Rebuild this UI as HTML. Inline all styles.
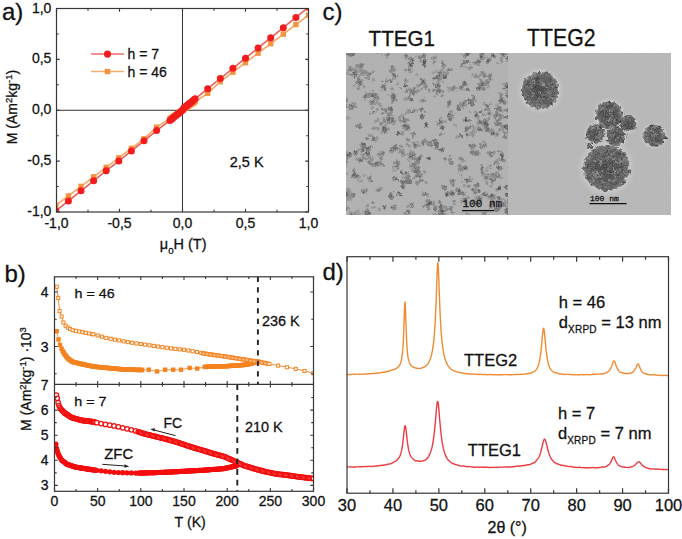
<!DOCTYPE html>
<html><head><meta charset="utf-8"><title>Figure</title>
<style>html,body{margin:0;padding:0;background:#fff;}body{width:682px;height:539px;overflow:hidden;font-family:"Liberation Sans",sans-serif;}svg{display:block;}</style>
</head><body>
<svg width="682" height="539" viewBox="0 0 682 539" font-family="Liberation Sans, sans-serif" fill="#111"><style>text{stroke:#111;stroke-width:0.28px;}</style><clipPath id="ca"><rect x="56.5" y="8.5" width="252.0" height="203.5"/></clipPath>
<line x1="182.5" y1="8.5" x2="182.5" y2="212.0" stroke="#333" stroke-width="1"/>
<line x1="56.5" y1="110.25" x2="308.5" y2="110.25" stroke="#333" stroke-width="1"/>
<g clip-path="url(#ca)"><polyline fill="none" stroke="#f6a862" stroke-width="1.6" points="55.81,205.39 68.41,195.87 81.01,186.36 93.61,176.85 106.21,167.33 118.81,157.82 131.41,148.3 144.01,138.79 156.61,127.14 169.9,118.7 171.16,117.85 172.42,117.01 173.68,116.16 174.94,115.32 176.2,114.47 177.46,113.63 178.72,112.78 179.98,111.94 181.24,111.09 182.5,110.25 183.76,109.41 185.02,108.56 186.28,107.72 187.54,106.87 188.8,106.03 190.06,105.18 191.32,104.34 192.58,103.49 193.84,102.65 195.1,101.8 207.7,93.36 220.3,81.71 232.9,72.2 245.5,62.68 258.1,53.17 270.7,43.65 283.3,34.14 295.9,24.63 308.5,15.11"/><rect x="53.11" y="202.69" width="5.4" height="5.4" fill="#f59440"/><rect x="65.71" y="193.17" width="5.4" height="5.4" fill="#f59440"/><rect x="78.31" y="183.66" width="5.4" height="5.4" fill="#f59440"/><rect x="90.91" y="174.15" width="5.4" height="5.4" fill="#f59440"/><rect x="103.51" y="164.63" width="5.4" height="5.4" fill="#f59440"/><rect x="116.11" y="155.12" width="5.4" height="5.4" fill="#f59440"/><rect x="128.71" y="145.6" width="5.4" height="5.4" fill="#f59440"/><rect x="141.31" y="136.09" width="5.4" height="5.4" fill="#f59440"/><rect x="153.91" y="124.44" width="5.4" height="5.4" fill="#f59440"/><rect x="167.2" y="116" width="5.4" height="5.4" fill="#f59440"/><rect x="168.46" y="115.15" width="5.4" height="5.4" fill="#f59440"/><rect x="169.72" y="114.31" width="5.4" height="5.4" fill="#f59440"/><rect x="170.98" y="113.46" width="5.4" height="5.4" fill="#f59440"/><rect x="172.24" y="112.62" width="5.4" height="5.4" fill="#f59440"/><rect x="173.5" y="111.77" width="5.4" height="5.4" fill="#f59440"/><rect x="174.76" y="110.93" width="5.4" height="5.4" fill="#f59440"/><rect x="176.02" y="110.08" width="5.4" height="5.4" fill="#f59440"/><rect x="177.28" y="109.24" width="5.4" height="5.4" fill="#f59440"/><rect x="178.54" y="108.39" width="5.4" height="5.4" fill="#f59440"/><rect x="179.8" y="107.55" width="5.4" height="5.4" fill="#f59440"/><rect x="181.06" y="106.71" width="5.4" height="5.4" fill="#f59440"/><rect x="182.32" y="105.86" width="5.4" height="5.4" fill="#f59440"/><rect x="183.58" y="105.02" width="5.4" height="5.4" fill="#f59440"/><rect x="184.84" y="104.17" width="5.4" height="5.4" fill="#f59440"/><rect x="186.1" y="103.33" width="5.4" height="5.4" fill="#f59440"/><rect x="187.36" y="102.48" width="5.4" height="5.4" fill="#f59440"/><rect x="188.62" y="101.64" width="5.4" height="5.4" fill="#f59440"/><rect x="189.88" y="100.79" width="5.4" height="5.4" fill="#f59440"/><rect x="191.14" y="99.95" width="5.4" height="5.4" fill="#f59440"/><rect x="192.4" y="99.1" width="5.4" height="5.4" fill="#f59440"/><rect x="205" y="90.66" width="5.4" height="5.4" fill="#f59440"/><rect x="217.6" y="79.01" width="5.4" height="5.4" fill="#f59440"/><rect x="230.2" y="69.5" width="5.4" height="5.4" fill="#f59440"/><rect x="242.8" y="59.98" width="5.4" height="5.4" fill="#f59440"/><rect x="255.4" y="50.47" width="5.4" height="5.4" fill="#f59440"/><rect x="268" y="40.95" width="5.4" height="5.4" fill="#f59440"/><rect x="280.6" y="31.44" width="5.4" height="5.4" fill="#f59440"/><rect x="293.2" y="21.93" width="5.4" height="5.4" fill="#f59440"/><rect x="305.8" y="12.41" width="5.4" height="5.4" fill="#f59440"/><polyline fill="none" stroke="#ef5b5b" stroke-width="1.6" points="55.81,210.98 68.41,200.91 81.01,190.84 93.61,180.76 106.21,170.69 118.81,161.12 131.41,150.95 144.01,140.78 156.61,130.6 169.9,120.42 171.16,119.41 172.42,118.39 173.68,117.37 174.94,116.36 176.2,115.34 177.46,114.32 178.72,113.3 179.98,112.28 181.24,111.27 182.5,110.25 183.76,108.01 185.02,106.99 186.28,105.98 187.54,104.96 188.8,103.94 190.06,102.92 191.32,101.91 192.58,100.89 193.84,99.87 195.1,98.85 207.7,88.68 220.3,78.5 232.9,68.33 245.5,58.15 258.1,47.98 270.7,37.8 283.3,27.63 295.9,17.45 308.5,7.28"/><circle cx="55.81" cy="210.98" r="3.5" fill="#f21c1c"/><circle cx="68.41" cy="200.91" r="3.5" fill="#f21c1c"/><circle cx="81.01" cy="190.84" r="3.5" fill="#f21c1c"/><circle cx="93.61" cy="180.76" r="3.5" fill="#f21c1c"/><circle cx="106.21" cy="170.69" r="3.5" fill="#f21c1c"/><circle cx="118.81" cy="161.12" r="3.5" fill="#f21c1c"/><circle cx="131.41" cy="150.95" r="3.5" fill="#f21c1c"/><circle cx="144.01" cy="140.78" r="3.5" fill="#f21c1c"/><circle cx="156.61" cy="130.6" r="3.5" fill="#f21c1c"/><circle cx="169.9" cy="120.42" r="3.5" fill="#f21c1c"/><circle cx="171.16" cy="119.41" r="3.5" fill="#f21c1c"/><circle cx="172.42" cy="118.39" r="3.5" fill="#f21c1c"/><circle cx="173.68" cy="117.37" r="3.5" fill="#f21c1c"/><circle cx="174.94" cy="116.36" r="3.5" fill="#f21c1c"/><circle cx="176.2" cy="115.34" r="3.5" fill="#f21c1c"/><circle cx="177.46" cy="114.32" r="3.5" fill="#f21c1c"/><circle cx="178.72" cy="113.3" r="3.5" fill="#f21c1c"/><circle cx="179.98" cy="112.28" r="3.5" fill="#f21c1c"/><circle cx="181.24" cy="111.27" r="3.5" fill="#f21c1c"/><circle cx="182.5" cy="110.25" r="3.5" fill="#f21c1c"/><circle cx="183.76" cy="108.01" r="3.5" fill="#f21c1c"/><circle cx="185.02" cy="106.99" r="3.5" fill="#f21c1c"/><circle cx="186.28" cy="105.98" r="3.5" fill="#f21c1c"/><circle cx="187.54" cy="104.96" r="3.5" fill="#f21c1c"/><circle cx="188.8" cy="103.94" r="3.5" fill="#f21c1c"/><circle cx="190.06" cy="102.92" r="3.5" fill="#f21c1c"/><circle cx="191.32" cy="101.91" r="3.5" fill="#f21c1c"/><circle cx="192.58" cy="100.89" r="3.5" fill="#f21c1c"/><circle cx="193.84" cy="99.87" r="3.5" fill="#f21c1c"/><circle cx="195.1" cy="98.85" r="3.5" fill="#f21c1c"/><circle cx="207.7" cy="88.68" r="3.5" fill="#f21c1c"/><circle cx="220.3" cy="78.5" r="3.5" fill="#f21c1c"/><circle cx="232.9" cy="68.33" r="3.5" fill="#f21c1c"/><circle cx="245.5" cy="58.15" r="3.5" fill="#f21c1c"/><circle cx="258.1" cy="47.98" r="3.5" fill="#f21c1c"/><circle cx="270.7" cy="37.8" r="3.5" fill="#f21c1c"/><circle cx="283.3" cy="27.63" r="3.5" fill="#f21c1c"/><circle cx="295.9" cy="17.45" r="3.5" fill="#f21c1c"/><circle cx="308.5" cy="7.28" r="3.5" fill="#f21c1c"/></g>
<rect x="56.5" y="8.5" width="252.0" height="203.5" fill="none" stroke="#363636" stroke-width="1.2"/>
<path d="M56.5 212.0v-3.2M56.5 8.5v3.2M56.5 212h3.2M308.5 212h-3.2M88 212.0v-2.2M88 8.5v2.2M56.5 186.56h2.2M308.5 186.56h-2.2M119.5 212.0v-3.2M119.5 8.5v3.2M56.5 161.12h3.2M308.5 161.12h-3.2M151 212.0v-2.2M151 8.5v2.2M56.5 135.69h2.2M308.5 135.69h-2.2M182.5 212.0v-3.2M182.5 8.5v3.2M56.5 110.25h3.2M308.5 110.25h-3.2M214 212.0v-2.2M214 8.5v2.2M56.5 84.81h2.2M308.5 84.81h-2.2M245.5 212.0v-3.2M245.5 8.5v3.2M56.5 59.38h3.2M308.5 59.38h-3.2M277 212.0v-2.2M277 8.5v2.2M56.5 33.94h2.2M308.5 33.94h-2.2M308.5 212.0v-3.2M308.5 8.5v3.2M56.5 8.5h3.2M308.5 8.5h-3.2" stroke="#363636" stroke-width="1.1" fill="none"/>
<text transform="translate(51.4,12.6) scale(0.960,1)" font-size="14.60" text-anchor="end">1,0</text>
<text transform="translate(51.4,63.48) scale(0.960,1)" font-size="14.60" text-anchor="end">0,5</text>
<text transform="translate(51.4,114.35) scale(0.960,1)" font-size="14.60" text-anchor="end">0,0</text>
<text transform="translate(51.4,165.22) scale(0.960,1)" font-size="14.60" text-anchor="end">-0,5</text>
<text transform="translate(51.4,216.1) scale(0.960,1)" font-size="14.60" text-anchor="end">-1,0</text>
<text transform="translate(56.5,228)" font-size="14.00" text-anchor="middle">-1,0</text>
<text transform="translate(119.5,228)" font-size="14.00" text-anchor="middle">-0,5</text>
<text transform="translate(182.5,228)" font-size="14.00" text-anchor="middle">0,0</text>
<text transform="translate(245.5,228)" font-size="14.00" text-anchor="middle">0,5</text>
<text transform="translate(308.5,228)" font-size="14.00" text-anchor="middle">1,0</text>
<text transform="translate(159.8,249.4) scale(1.050,1)" font-size="13.80">&#956;<tspan font-size="9.3" dy="4.3">0</tspan><tspan dy="-4.3">H (T)</tspan></text>
<text transform="translate(127.5,58.9)" font-size="14.00">h = 7</text>
<text transform="translate(127.5,76.5)" font-size="14.00">h = 46</text>
<text transform="translate(229.8,166.8) scale(1.035,1)" font-size="14.00">2,5 K</text>
<text transform="translate(2,20)" font-size="24.00">a)</text>
<text transform="translate(16.8,107) rotate(-90)" text-anchor="middle" font-size="14">M (Am<tspan font-size="9.5" dy="-5">2</tspan><tspan dy="5">kg</tspan><tspan font-size="9.5" dy="-5">-1</tspan><tspan dy="5">)</tspan></text>
<line x1="91" y1="54" x2="124" y2="54" stroke="#ef6b6b" stroke-width="1.5"/><circle cx="107.5" cy="54.1" r="3.6" fill="#f21c1c"/>
<line x1="91" y1="71.5" x2="124" y2="71.5" stroke="#f6ad6a" stroke-width="1.5"/><rect x="104.8" y="68.8" width="5.5" height="5.4" fill="#f59440"/>
<clipPath id="cb"><rect x="54.5" y="276.8" width="259.0" height="214.5"/></clipPath>
<g clip-path="url(#cb)"><polyline fill="none" stroke="#f4821f" stroke-width="0.9" points="56.66,286.71 58.21,298 59.59,311.07 61.58,316.53 63.39,322.52 65.64,325.79 67.88,327.62 70.04,328.92 72.63,330.22 75.91,330.86 79.19,331.5 82.47,332.14 85.75,332.79 89.03,333.44 92.31,334.08 93.35,334.29 97.67,335.44 101.98,336.7 106.3,337.9 110.62,338.76 114.93,339.62 119.25,340.46 123.57,341.3 127.88,342.14 132.2,342.77 136.52,343.4 140.83,344.03 145.15,344.66 149.47,345.28 153.78,345.91 158.1,346.54 162.42,347.17 166.73,347.8 171.05,348.43 175.37,348.93 179.68,349.35 184,349.77 188.32,350.51 192.63,351.25 196.95,352 201.27,352.91 202.99,353.28 204.37,353.57 205.76,353.77 207.14,353.97 208.52,354.17 209.9,354.37 211.28,354.57 212.66,354.77 214.04,354.97 215.43,355.16 216.81,355.36 218.19,355.56 219.57,355.76 220.95,355.96 222.33,356.16 223.71,356.36 225.09,356.56 226.48,356.76 227.86,356.96 229.24,357.18 230.62,357.4 232,357.62 233.38,357.84 234.76,358.05 236.15,358.27 237.53,358.49 238.91,358.71 240.29,358.93 241.67,359.14 243.05,359.36 244.43,359.58 245.81,359.8 247.2,360.02 248.58,360.23 249.96,360.45 251.34,360.67 252.72,360.89 254.1,361.11 255.48,361.32 256.87,361.54 258.25,361.76 259.63,362.04 261.01,362.31 262.39,362.59 263.77,362.87 265.15,363.14 266.53,363.42 267.92,363.7 269.3,363.97 278.1,365.57 286.91,367.24 295.72,368.83 304.52,370.98 313.33,373.16"/><polyline fill="none" stroke="#f4821f" stroke-width="0.8" points="56.66,331.24 58.47,339.42 60.03,344.87 61.58,348.64 62.7,351.05 63.56,352.52 64.43,353.98 65.29,355.16 66.16,356.31 67.02,357.46 67.88,358.55 68.75,359.18 69.61,359.81 70.47,360.44 71.34,361.07 72.2,361.7 73.06,361.95 73.92,362.16 74.79,362.37 75.65,362.58 76.52,362.8 77.38,363.01 78.24,363.22 79.11,363.43 79.97,363.64 80.83,363.85 81.69,364.06 82.56,364.27 83.42,364.49 84.28,364.66 85.15,364.83 86.01,365.01 86.88,365.18 87.74,365.36 88.6,365.53 89.47,365.71 90.33,365.88 91.19,366.05 92.06,366.23 92.92,366.4 93.78,366.58 94.65,366.71 95.51,366.79 96.37,366.87 97.23,366.96 98.1,367.04 98.96,367.13 99.83,367.21 100.69,367.29 101.55,367.38 102.41,367.46 103.28,367.55 104.14,367.63 105,367.71 105.87,367.8 106.73,367.88 107.59,367.96 108.46,368.05 109.32,368.13 110.19,368.22 111.05,368.3 111.91,368.38 112.78,368.47 113.64,368.55 114.5,368.64 115.37,368.72 116.23,368.8 117.09,368.88 117.95,368.94 118.82,369 119.68,369.07 120.55,369.13 121.41,369.19 122.27,369.25 123.14,369.32 124,369.38 124.86,369.44 125.72,369.51 126.59,369.57 127.45,369.63 128.31,369.67 129.18,369.69 130.04,369.71 130.91,369.74 131.77,369.76 132.63,369.78 133.5,369.8 134.36,369.82 135.22,369.84 136.08,369.86 136.95,369.88 137.81,369.9 138.68,369.92 139.54,369.94 140.4,369.95 141.26,369.97 142.13,369.98 148.78,369.72 156.98,371.41 165.18,369.72 173.21,369.72 180.98,369.72 189.61,367.92 197.21,368.52 204.72,366.93 205.76,366.89 206.79,366.85 207.83,366.82 208.86,366.78 209.9,366.74 210.94,366.7 211.97,366.67 213.01,366.63 214.04,366.59 215.08,366.56 216.12,366.52 217.15,366.48 218.19,366.44 219.22,366.41 220.26,366.37 221.3,366.33 222.33,366.29 223.37,366.26 224.4,366.22 225.44,366.18 226.48,366.14 227.51,366.1 228.55,366.02 229.58,365.95 230.62,365.87 231.66,365.8 232.69,365.72 233.73,365.65 234.76,365.57 235.8,365.5 236.84,365.43 237.87,365.35 238.91,365.28 239.94,365.2 240.98,365.13 242.02,365.05 243.05,364.98 244.09,364.91 245.12,364.83 246.16,364.76 247.2,364.5 248.23,364.24 249.27,363.99 250.3,363.73 251.34,363.47 252.38,363.22 253.41,362.96 254.45,362.7 255.48,362.45 256.52,362.19 257.56,361.93 258.59,361.76"/><rect x="54.46" y="329.04" width="4.4" height="4.4" fill="#f4821f"/><rect x="56.27" y="337.22" width="4.4" height="4.4" fill="#f4821f"/><rect x="57.83" y="342.67" width="4.4" height="4.4" fill="#f4821f"/><rect x="59.38" y="346.44" width="4.4" height="4.4" fill="#f4821f"/><rect x="60.5" y="348.85" width="4.4" height="4.4" fill="#f4821f"/><rect x="61.36" y="350.32" width="4.4" height="4.4" fill="#f4821f"/><rect x="62.23" y="351.78" width="4.4" height="4.4" fill="#f4821f"/><rect x="63.09" y="352.96" width="4.4" height="4.4" fill="#f4821f"/><rect x="63.95" y="354.11" width="4.4" height="4.4" fill="#f4821f"/><rect x="64.82" y="355.26" width="4.4" height="4.4" fill="#f4821f"/><rect x="65.68" y="356.35" width="4.4" height="4.4" fill="#f4821f"/><rect x="66.55" y="356.98" width="4.4" height="4.4" fill="#f4821f"/><rect x="67.41" y="357.61" width="4.4" height="4.4" fill="#f4821f"/><rect x="68.27" y="358.24" width="4.4" height="4.4" fill="#f4821f"/><rect x="69.14" y="358.87" width="4.4" height="4.4" fill="#f4821f"/><rect x="70" y="359.5" width="4.4" height="4.4" fill="#f4821f"/><rect x="70.86" y="359.75" width="4.4" height="4.4" fill="#f4821f"/><rect x="71.72" y="359.96" width="4.4" height="4.4" fill="#f4821f"/><rect x="72.59" y="360.17" width="4.4" height="4.4" fill="#f4821f"/><rect x="73.45" y="360.38" width="4.4" height="4.4" fill="#f4821f"/><rect x="74.31" y="360.6" width="4.4" height="4.4" fill="#f4821f"/><rect x="75.18" y="360.81" width="4.4" height="4.4" fill="#f4821f"/><rect x="76.04" y="361.02" width="4.4" height="4.4" fill="#f4821f"/><rect x="76.91" y="361.23" width="4.4" height="4.4" fill="#f4821f"/><rect x="77.77" y="361.44" width="4.4" height="4.4" fill="#f4821f"/><rect x="78.63" y="361.65" width="4.4" height="4.4" fill="#f4821f"/><rect x="79.49" y="361.86" width="4.4" height="4.4" fill="#f4821f"/><rect x="80.36" y="362.07" width="4.4" height="4.4" fill="#f4821f"/><rect x="81.22" y="362.29" width="4.4" height="4.4" fill="#f4821f"/><rect x="82.08" y="362.46" width="4.4" height="4.4" fill="#f4821f"/><rect x="82.95" y="362.63" width="4.4" height="4.4" fill="#f4821f"/><rect x="83.81" y="362.81" width="4.4" height="4.4" fill="#f4821f"/><rect x="84.67" y="362.98" width="4.4" height="4.4" fill="#f4821f"/><rect x="85.54" y="363.16" width="4.4" height="4.4" fill="#f4821f"/><rect x="86.4" y="363.33" width="4.4" height="4.4" fill="#f4821f"/><rect x="87.27" y="363.51" width="4.4" height="4.4" fill="#f4821f"/><rect x="88.13" y="363.68" width="4.4" height="4.4" fill="#f4821f"/><rect x="88.99" y="363.85" width="4.4" height="4.4" fill="#f4821f"/><rect x="89.86" y="364.03" width="4.4" height="4.4" fill="#f4821f"/><rect x="90.72" y="364.2" width="4.4" height="4.4" fill="#f4821f"/><rect x="91.58" y="364.38" width="4.4" height="4.4" fill="#f4821f"/><rect x="92.45" y="364.51" width="4.4" height="4.4" fill="#f4821f"/><rect x="93.31" y="364.59" width="4.4" height="4.4" fill="#f4821f"/><rect x="94.17" y="364.67" width="4.4" height="4.4" fill="#f4821f"/><rect x="95.03" y="364.76" width="4.4" height="4.4" fill="#f4821f"/><rect x="95.9" y="364.84" width="4.4" height="4.4" fill="#f4821f"/><rect x="96.76" y="364.93" width="4.4" height="4.4" fill="#f4821f"/><rect x="97.62" y="365.01" width="4.4" height="4.4" fill="#f4821f"/><rect x="98.49" y="365.09" width="4.4" height="4.4" fill="#f4821f"/><rect x="99.35" y="365.18" width="4.4" height="4.4" fill="#f4821f"/><rect x="100.21" y="365.26" width="4.4" height="4.4" fill="#f4821f"/><rect x="101.08" y="365.35" width="4.4" height="4.4" fill="#f4821f"/><rect x="101.94" y="365.43" width="4.4" height="4.4" fill="#f4821f"/><rect x="102.8" y="365.51" width="4.4" height="4.4" fill="#f4821f"/><rect x="103.67" y="365.6" width="4.4" height="4.4" fill="#f4821f"/><rect x="104.53" y="365.68" width="4.4" height="4.4" fill="#f4821f"/><rect x="105.39" y="365.76" width="4.4" height="4.4" fill="#f4821f"/><rect x="106.26" y="365.85" width="4.4" height="4.4" fill="#f4821f"/><rect x="107.12" y="365.93" width="4.4" height="4.4" fill="#f4821f"/><rect x="107.98" y="366.02" width="4.4" height="4.4" fill="#f4821f"/><rect x="108.85" y="366.1" width="4.4" height="4.4" fill="#f4821f"/><rect x="109.71" y="366.18" width="4.4" height="4.4" fill="#f4821f"/><rect x="110.58" y="366.27" width="4.4" height="4.4" fill="#f4821f"/><rect x="111.44" y="366.35" width="4.4" height="4.4" fill="#f4821f"/><rect x="112.3" y="366.44" width="4.4" height="4.4" fill="#f4821f"/><rect x="113.17" y="366.52" width="4.4" height="4.4" fill="#f4821f"/><rect x="114.03" y="366.6" width="4.4" height="4.4" fill="#f4821f"/><rect x="114.89" y="366.68" width="4.4" height="4.4" fill="#f4821f"/><rect x="115.75" y="366.74" width="4.4" height="4.4" fill="#f4821f"/><rect x="116.62" y="366.8" width="4.4" height="4.4" fill="#f4821f"/><rect x="117.48" y="366.87" width="4.4" height="4.4" fill="#f4821f"/><rect x="118.34" y="366.93" width="4.4" height="4.4" fill="#f4821f"/><rect x="119.21" y="366.99" width="4.4" height="4.4" fill="#f4821f"/><rect x="120.07" y="367.05" width="4.4" height="4.4" fill="#f4821f"/><rect x="120.94" y="367.12" width="4.4" height="4.4" fill="#f4821f"/><rect x="121.8" y="367.18" width="4.4" height="4.4" fill="#f4821f"/><rect x="122.66" y="367.24" width="4.4" height="4.4" fill="#f4821f"/><rect x="123.52" y="367.31" width="4.4" height="4.4" fill="#f4821f"/><rect x="124.39" y="367.37" width="4.4" height="4.4" fill="#f4821f"/><rect x="125.25" y="367.43" width="4.4" height="4.4" fill="#f4821f"/><rect x="126.11" y="367.47" width="4.4" height="4.4" fill="#f4821f"/><rect x="126.98" y="367.49" width="4.4" height="4.4" fill="#f4821f"/><rect x="127.84" y="367.51" width="4.4" height="4.4" fill="#f4821f"/><rect x="128.71" y="367.54" width="4.4" height="4.4" fill="#f4821f"/><rect x="129.57" y="367.56" width="4.4" height="4.4" fill="#f4821f"/><rect x="130.43" y="367.58" width="4.4" height="4.4" fill="#f4821f"/><rect x="131.3" y="367.6" width="4.4" height="4.4" fill="#f4821f"/><rect x="132.16" y="367.62" width="4.4" height="4.4" fill="#f4821f"/><rect x="133.02" y="367.64" width="4.4" height="4.4" fill="#f4821f"/><rect x="133.88" y="367.66" width="4.4" height="4.4" fill="#f4821f"/><rect x="134.75" y="367.68" width="4.4" height="4.4" fill="#f4821f"/><rect x="135.61" y="367.7" width="4.4" height="4.4" fill="#f4821f"/><rect x="136.48" y="367.72" width="4.4" height="4.4" fill="#f4821f"/><rect x="137.34" y="367.74" width="4.4" height="4.4" fill="#f4821f"/><rect x="138.2" y="367.75" width="4.4" height="4.4" fill="#f4821f"/><rect x="139.06" y="367.77" width="4.4" height="4.4" fill="#f4821f"/><rect x="139.93" y="367.78" width="4.4" height="4.4" fill="#f4821f"/><rect x="146.58" y="367.52" width="4.4" height="4.4" fill="#f4821f"/><rect x="154.78" y="369.21" width="4.4" height="4.4" fill="#f4821f"/><rect x="162.98" y="367.52" width="4.4" height="4.4" fill="#f4821f"/><rect x="171.01" y="367.52" width="4.4" height="4.4" fill="#f4821f"/><rect x="178.78" y="367.52" width="4.4" height="4.4" fill="#f4821f"/><rect x="187.41" y="365.72" width="4.4" height="4.4" fill="#f4821f"/><rect x="195.01" y="366.32" width="4.4" height="4.4" fill="#f4821f"/><rect x="202.52" y="364.73" width="4.4" height="4.4" fill="#f4821f"/><rect x="203.56" y="364.69" width="4.4" height="4.4" fill="#f4821f"/><rect x="204.59" y="364.65" width="4.4" height="4.4" fill="#f4821f"/><rect x="205.63" y="364.62" width="4.4" height="4.4" fill="#f4821f"/><rect x="206.66" y="364.58" width="4.4" height="4.4" fill="#f4821f"/><rect x="207.7" y="364.54" width="4.4" height="4.4" fill="#f4821f"/><rect x="208.74" y="364.5" width="4.4" height="4.4" fill="#f4821f"/><rect x="209.77" y="364.47" width="4.4" height="4.4" fill="#f4821f"/><rect x="210.81" y="364.43" width="4.4" height="4.4" fill="#f4821f"/><rect x="211.84" y="364.39" width="4.4" height="4.4" fill="#f4821f"/><rect x="212.88" y="364.36" width="4.4" height="4.4" fill="#f4821f"/><rect x="213.92" y="364.32" width="4.4" height="4.4" fill="#f4821f"/><rect x="214.95" y="364.28" width="4.4" height="4.4" fill="#f4821f"/><rect x="215.99" y="364.24" width="4.4" height="4.4" fill="#f4821f"/><rect x="217.02" y="364.21" width="4.4" height="4.4" fill="#f4821f"/><rect x="218.06" y="364.17" width="4.4" height="4.4" fill="#f4821f"/><rect x="219.1" y="364.13" width="4.4" height="4.4" fill="#f4821f"/><rect x="220.13" y="364.09" width="4.4" height="4.4" fill="#f4821f"/><rect x="221.17" y="364.06" width="4.4" height="4.4" fill="#f4821f"/><rect x="222.2" y="364.02" width="4.4" height="4.4" fill="#f4821f"/><rect x="223.24" y="363.98" width="4.4" height="4.4" fill="#f4821f"/><rect x="224.28" y="363.94" width="4.4" height="4.4" fill="#f4821f"/><rect x="225.31" y="363.9" width="4.4" height="4.4" fill="#f4821f"/><rect x="226.35" y="363.82" width="4.4" height="4.4" fill="#f4821f"/><rect x="227.38" y="363.75" width="4.4" height="4.4" fill="#f4821f"/><rect x="228.42" y="363.67" width="4.4" height="4.4" fill="#f4821f"/><rect x="229.46" y="363.6" width="4.4" height="4.4" fill="#f4821f"/><rect x="230.49" y="363.52" width="4.4" height="4.4" fill="#f4821f"/><rect x="231.53" y="363.45" width="4.4" height="4.4" fill="#f4821f"/><rect x="232.56" y="363.38" width="4.4" height="4.4" fill="#f4821f"/><rect x="233.6" y="363.3" width="4.4" height="4.4" fill="#f4821f"/><rect x="234.64" y="363.23" width="4.4" height="4.4" fill="#f4821f"/><rect x="235.67" y="363.15" width="4.4" height="4.4" fill="#f4821f"/><rect x="236.71" y="363.08" width="4.4" height="4.4" fill="#f4821f"/><rect x="237.74" y="363" width="4.4" height="4.4" fill="#f4821f"/><rect x="238.78" y="362.93" width="4.4" height="4.4" fill="#f4821f"/><rect x="239.82" y="362.85" width="4.4" height="4.4" fill="#f4821f"/><rect x="240.85" y="362.78" width="4.4" height="4.4" fill="#f4821f"/><rect x="241.89" y="362.71" width="4.4" height="4.4" fill="#f4821f"/><rect x="242.92" y="362.63" width="4.4" height="4.4" fill="#f4821f"/><rect x="243.96" y="362.56" width="4.4" height="4.4" fill="#f4821f"/><rect x="245" y="362.3" width="4.4" height="4.4" fill="#f4821f"/><rect x="246.03" y="362.04" width="4.4" height="4.4" fill="#f4821f"/><rect x="247.07" y="361.79" width="4.4" height="4.4" fill="#f4821f"/><rect x="248.1" y="361.53" width="4.4" height="4.4" fill="#f4821f"/><rect x="249.14" y="361.27" width="4.4" height="4.4" fill="#f4821f"/><rect x="250.18" y="361.02" width="4.4" height="4.4" fill="#f4821f"/><rect x="251.21" y="360.76" width="4.4" height="4.4" fill="#f4821f"/><rect x="252.25" y="360.5" width="4.4" height="4.4" fill="#f4821f"/><rect x="253.28" y="360.25" width="4.4" height="4.4" fill="#f4821f"/><rect x="254.32" y="359.99" width="4.4" height="4.4" fill="#f4821f"/><rect x="255.36" y="359.73" width="4.4" height="4.4" fill="#f4821f"/><rect x="256.39" y="359.56" width="4.4" height="4.4" fill="#f4821f"/><rect x="55.11" y="285.16" width="3.1" height="3.1" fill="#fff" stroke="#f4821f" stroke-width="1"/><rect x="56.66" y="296.44" width="3.1" height="3.1" fill="#fff" stroke="#f4821f" stroke-width="1"/><rect x="58.04" y="309.52" width="3.1" height="3.1" fill="#fff" stroke="#f4821f" stroke-width="1"/><rect x="60.03" y="314.98" width="3.1" height="3.1" fill="#fff" stroke="#f4821f" stroke-width="1"/><rect x="61.84" y="320.97" width="3.1" height="3.1" fill="#fff" stroke="#f4821f" stroke-width="1"/><rect x="64.09" y="324.24" width="3.1" height="3.1" fill="#fff" stroke="#f4821f" stroke-width="1"/><rect x="66.33" y="326.07" width="3.1" height="3.1" fill="#fff" stroke="#f4821f" stroke-width="1"/><rect x="68.49" y="327.37" width="3.1" height="3.1" fill="#fff" stroke="#f4821f" stroke-width="1"/><rect x="71.08" y="328.67" width="3.1" height="3.1" fill="#fff" stroke="#f4821f" stroke-width="1"/><rect x="74.36" y="329.31" width="3.1" height="3.1" fill="#fff" stroke="#f4821f" stroke-width="1"/><rect x="77.64" y="329.95" width="3.1" height="3.1" fill="#fff" stroke="#f4821f" stroke-width="1"/><rect x="80.92" y="330.59" width="3.1" height="3.1" fill="#fff" stroke="#f4821f" stroke-width="1"/><rect x="84.2" y="331.24" width="3.1" height="3.1" fill="#fff" stroke="#f4821f" stroke-width="1"/><rect x="87.48" y="331.89" width="3.1" height="3.1" fill="#fff" stroke="#f4821f" stroke-width="1"/><rect x="90.76" y="332.53" width="3.1" height="3.1" fill="#fff" stroke="#f4821f" stroke-width="1"/><rect x="91.8" y="332.74" width="3.1" height="3.1" fill="#fff" stroke="#f4821f" stroke-width="1"/><rect x="96.12" y="333.89" width="3.1" height="3.1" fill="#fff" stroke="#f4821f" stroke-width="1"/><rect x="100.43" y="335.15" width="3.1" height="3.1" fill="#fff" stroke="#f4821f" stroke-width="1"/><rect x="104.75" y="336.35" width="3.1" height="3.1" fill="#fff" stroke="#f4821f" stroke-width="1"/><rect x="109.07" y="337.21" width="3.1" height="3.1" fill="#fff" stroke="#f4821f" stroke-width="1"/><rect x="113.38" y="338.07" width="3.1" height="3.1" fill="#fff" stroke="#f4821f" stroke-width="1"/><rect x="117.7" y="338.91" width="3.1" height="3.1" fill="#fff" stroke="#f4821f" stroke-width="1"/><rect x="122.02" y="339.75" width="3.1" height="3.1" fill="#fff" stroke="#f4821f" stroke-width="1"/><rect x="126.33" y="340.59" width="3.1" height="3.1" fill="#fff" stroke="#f4821f" stroke-width="1"/><rect x="130.65" y="341.22" width="3.1" height="3.1" fill="#fff" stroke="#f4821f" stroke-width="1"/><rect x="134.97" y="341.85" width="3.1" height="3.1" fill="#fff" stroke="#f4821f" stroke-width="1"/><rect x="139.28" y="342.48" width="3.1" height="3.1" fill="#fff" stroke="#f4821f" stroke-width="1"/><rect x="143.6" y="343.11" width="3.1" height="3.1" fill="#fff" stroke="#f4821f" stroke-width="1"/><rect x="147.92" y="343.73" width="3.1" height="3.1" fill="#fff" stroke="#f4821f" stroke-width="1"/><rect x="152.23" y="344.36" width="3.1" height="3.1" fill="#fff" stroke="#f4821f" stroke-width="1"/><rect x="156.55" y="344.99" width="3.1" height="3.1" fill="#fff" stroke="#f4821f" stroke-width="1"/><rect x="160.87" y="345.62" width="3.1" height="3.1" fill="#fff" stroke="#f4821f" stroke-width="1"/><rect x="165.18" y="346.25" width="3.1" height="3.1" fill="#fff" stroke="#f4821f" stroke-width="1"/><rect x="169.5" y="346.88" width="3.1" height="3.1" fill="#fff" stroke="#f4821f" stroke-width="1"/><rect x="173.82" y="347.38" width="3.1" height="3.1" fill="#fff" stroke="#f4821f" stroke-width="1"/><rect x="178.13" y="347.8" width="3.1" height="3.1" fill="#fff" stroke="#f4821f" stroke-width="1"/><rect x="182.45" y="348.22" width="3.1" height="3.1" fill="#fff" stroke="#f4821f" stroke-width="1"/><rect x="186.77" y="348.96" width="3.1" height="3.1" fill="#fff" stroke="#f4821f" stroke-width="1"/><rect x="191.08" y="349.7" width="3.1" height="3.1" fill="#fff" stroke="#f4821f" stroke-width="1"/><rect x="195.4" y="350.45" width="3.1" height="3.1" fill="#fff" stroke="#f4821f" stroke-width="1"/><rect x="199.72" y="351.36" width="3.1" height="3.1" fill="#fff" stroke="#f4821f" stroke-width="1"/><rect x="201.44" y="351.73" width="3.1" height="3.1" fill="#fff" stroke="#f4821f" stroke-width="1"/><rect x="202.82" y="352.02" width="3.1" height="3.1" fill="#fff" stroke="#f4821f" stroke-width="1"/><rect x="204.21" y="352.22" width="3.1" height="3.1" fill="#fff" stroke="#f4821f" stroke-width="1"/><rect x="205.59" y="352.42" width="3.1" height="3.1" fill="#fff" stroke="#f4821f" stroke-width="1"/><rect x="206.97" y="352.62" width="3.1" height="3.1" fill="#fff" stroke="#f4821f" stroke-width="1"/><rect x="208.35" y="352.82" width="3.1" height="3.1" fill="#fff" stroke="#f4821f" stroke-width="1"/><rect x="209.73" y="353.02" width="3.1" height="3.1" fill="#fff" stroke="#f4821f" stroke-width="1"/><rect x="211.11" y="353.22" width="3.1" height="3.1" fill="#fff" stroke="#f4821f" stroke-width="1"/><rect x="212.49" y="353.42" width="3.1" height="3.1" fill="#fff" stroke="#f4821f" stroke-width="1"/><rect x="213.88" y="353.61" width="3.1" height="3.1" fill="#fff" stroke="#f4821f" stroke-width="1"/><rect x="215.26" y="353.81" width="3.1" height="3.1" fill="#fff" stroke="#f4821f" stroke-width="1"/><rect x="216.64" y="354.01" width="3.1" height="3.1" fill="#fff" stroke="#f4821f" stroke-width="1"/><rect x="218.02" y="354.21" width="3.1" height="3.1" fill="#fff" stroke="#f4821f" stroke-width="1"/><rect x="219.4" y="354.41" width="3.1" height="3.1" fill="#fff" stroke="#f4821f" stroke-width="1"/><rect x="220.78" y="354.61" width="3.1" height="3.1" fill="#fff" stroke="#f4821f" stroke-width="1"/><rect x="222.16" y="354.81" width="3.1" height="3.1" fill="#fff" stroke="#f4821f" stroke-width="1"/><rect x="223.54" y="355.01" width="3.1" height="3.1" fill="#fff" stroke="#f4821f" stroke-width="1"/><rect x="224.93" y="355.21" width="3.1" height="3.1" fill="#fff" stroke="#f4821f" stroke-width="1"/><rect x="226.31" y="355.41" width="3.1" height="3.1" fill="#fff" stroke="#f4821f" stroke-width="1"/><rect x="227.69" y="355.63" width="3.1" height="3.1" fill="#fff" stroke="#f4821f" stroke-width="1"/><rect x="229.07" y="355.85" width="3.1" height="3.1" fill="#fff" stroke="#f4821f" stroke-width="1"/><rect x="230.45" y="356.07" width="3.1" height="3.1" fill="#fff" stroke="#f4821f" stroke-width="1"/><rect x="231.83" y="356.29" width="3.1" height="3.1" fill="#fff" stroke="#f4821f" stroke-width="1"/><rect x="233.21" y="356.5" width="3.1" height="3.1" fill="#fff" stroke="#f4821f" stroke-width="1"/><rect x="234.6" y="356.72" width="3.1" height="3.1" fill="#fff" stroke="#f4821f" stroke-width="1"/><rect x="235.98" y="356.94" width="3.1" height="3.1" fill="#fff" stroke="#f4821f" stroke-width="1"/><rect x="237.36" y="357.16" width="3.1" height="3.1" fill="#fff" stroke="#f4821f" stroke-width="1"/><rect x="238.74" y="357.38" width="3.1" height="3.1" fill="#fff" stroke="#f4821f" stroke-width="1"/><rect x="240.12" y="357.59" width="3.1" height="3.1" fill="#fff" stroke="#f4821f" stroke-width="1"/><rect x="241.5" y="357.81" width="3.1" height="3.1" fill="#fff" stroke="#f4821f" stroke-width="1"/><rect x="242.88" y="358.03" width="3.1" height="3.1" fill="#fff" stroke="#f4821f" stroke-width="1"/><rect x="244.26" y="358.25" width="3.1" height="3.1" fill="#fff" stroke="#f4821f" stroke-width="1"/><rect x="245.65" y="358.47" width="3.1" height="3.1" fill="#fff" stroke="#f4821f" stroke-width="1"/><rect x="247.03" y="358.68" width="3.1" height="3.1" fill="#fff" stroke="#f4821f" stroke-width="1"/><rect x="248.41" y="358.9" width="3.1" height="3.1" fill="#fff" stroke="#f4821f" stroke-width="1"/><rect x="249.79" y="359.12" width="3.1" height="3.1" fill="#fff" stroke="#f4821f" stroke-width="1"/><rect x="251.17" y="359.34" width="3.1" height="3.1" fill="#fff" stroke="#f4821f" stroke-width="1"/><rect x="252.55" y="359.56" width="3.1" height="3.1" fill="#fff" stroke="#f4821f" stroke-width="1"/><rect x="253.93" y="359.77" width="3.1" height="3.1" fill="#fff" stroke="#f4821f" stroke-width="1"/><rect x="255.32" y="359.99" width="3.1" height="3.1" fill="#fff" stroke="#f4821f" stroke-width="1"/><rect x="256.7" y="360.21" width="3.1" height="3.1" fill="#fff" stroke="#f4821f" stroke-width="1"/><rect x="258.08" y="360.49" width="3.1" height="3.1" fill="#fff" stroke="#f4821f" stroke-width="1"/><rect x="259.46" y="360.76" width="3.1" height="3.1" fill="#fff" stroke="#f4821f" stroke-width="1"/><rect x="260.84" y="361.04" width="3.1" height="3.1" fill="#fff" stroke="#f4821f" stroke-width="1"/><rect x="262.22" y="361.32" width="3.1" height="3.1" fill="#fff" stroke="#f4821f" stroke-width="1"/><rect x="263.6" y="361.59" width="3.1" height="3.1" fill="#fff" stroke="#f4821f" stroke-width="1"/><rect x="264.98" y="361.87" width="3.1" height="3.1" fill="#fff" stroke="#f4821f" stroke-width="1"/><rect x="266.37" y="362.15" width="3.1" height="3.1" fill="#fff" stroke="#f4821f" stroke-width="1"/><rect x="267.75" y="362.42" width="3.1" height="3.1" fill="#fff" stroke="#f4821f" stroke-width="1"/><rect x="276.55" y="364.02" width="3.1" height="3.1" fill="#fff" stroke="#f4821f" stroke-width="1"/><rect x="285.36" y="365.69" width="3.1" height="3.1" fill="#fff" stroke="#f4821f" stroke-width="1"/><rect x="294.17" y="367.28" width="3.1" height="3.1" fill="#fff" stroke="#f4821f" stroke-width="1"/><rect x="302.97" y="369.43" width="3.1" height="3.1" fill="#fff" stroke="#f4821f" stroke-width="1"/><rect x="311.78" y="371.61" width="3.1" height="3.1" fill="#fff" stroke="#f4821f" stroke-width="1"/><circle cx="55.97" cy="443.98" r="2.6" fill="#f30d0d"/><circle cx="56.66" cy="448.4" r="2.6" fill="#f30d0d"/><circle cx="57.35" cy="451.17" r="2.6" fill="#f30d0d"/><circle cx="58.04" cy="453.39" r="2.6" fill="#f30d0d"/><circle cx="58.73" cy="455.21" r="2.6" fill="#f30d0d"/><circle cx="59.42" cy="456.35" r="2.6" fill="#f30d0d"/><circle cx="60.11" cy="457.48" r="2.6" fill="#f30d0d"/><circle cx="60.8" cy="458.62" r="2.6" fill="#f30d0d"/><circle cx="61.49" cy="459.76" r="2.6" fill="#f30d0d"/><circle cx="62.18" cy="460.46" r="2.6" fill="#f30d0d"/><circle cx="62.87" cy="461" r="2.6" fill="#f30d0d"/><circle cx="63.56" cy="461.54" r="2.6" fill="#f30d0d"/><circle cx="64.26" cy="462.08" r="2.6" fill="#f30d0d"/><circle cx="64.95" cy="462.62" r="2.6" fill="#f30d0d"/><circle cx="65.64" cy="463.16" r="2.6" fill="#f30d0d"/><circle cx="66.33" cy="463.71" r="2.6" fill="#f30d0d"/><circle cx="67.02" cy="464.25" r="2.6" fill="#f30d0d"/><circle cx="67.71" cy="464.51" r="2.6" fill="#f30d0d"/><circle cx="68.4" cy="464.73" r="2.6" fill="#f30d0d"/><circle cx="69.09" cy="464.96" r="2.6" fill="#f30d0d"/><circle cx="69.78" cy="465.18" r="2.6" fill="#f30d0d"/><circle cx="70.47" cy="465.4" r="2.6" fill="#f30d0d"/><circle cx="71.16" cy="465.63" r="2.6" fill="#f30d0d"/><circle cx="71.85" cy="465.85" r="2.6" fill="#f30d0d"/><circle cx="72.54" cy="466.07" r="2.6" fill="#f30d0d"/><circle cx="73.23" cy="466.3" r="2.6" fill="#f30d0d"/><circle cx="73.92" cy="466.52" r="2.6" fill="#f30d0d"/><circle cx="74.62" cy="466.74" r="2.6" fill="#f30d0d"/><circle cx="75.31" cy="466.97" r="2.6" fill="#f30d0d"/><circle cx="76" cy="467.13" r="2.6" fill="#f30d0d"/><circle cx="76.69" cy="467.25" r="2.6" fill="#f30d0d"/><circle cx="77.38" cy="467.36" r="2.6" fill="#f30d0d"/><circle cx="78.07" cy="467.48" r="2.6" fill="#f30d0d"/><circle cx="78.76" cy="467.59" r="2.6" fill="#f30d0d"/><circle cx="79.45" cy="467.71" r="2.6" fill="#f30d0d"/><circle cx="80.14" cy="467.82" r="2.6" fill="#f30d0d"/><circle cx="80.83" cy="467.93" r="2.6" fill="#f30d0d"/><circle cx="81.52" cy="468.05" r="2.6" fill="#f30d0d"/><circle cx="82.21" cy="468.16" r="2.6" fill="#f30d0d"/><circle cx="82.9" cy="468.28" r="2.6" fill="#f30d0d"/><circle cx="83.59" cy="468.39" r="2.6" fill="#f30d0d"/><circle cx="84.29" cy="468.51" r="2.6" fill="#f30d0d"/><circle cx="84.98" cy="468.62" r="2.6" fill="#f30d0d"/><circle cx="85.67" cy="468.73" r="2.6" fill="#f30d0d"/><circle cx="86.36" cy="468.85" r="2.6" fill="#f30d0d"/><circle cx="87.05" cy="468.95" r="2.6" fill="#f30d0d"/><circle cx="87.74" cy="469.04" r="2.6" fill="#f30d0d"/><circle cx="88.43" cy="469.14" r="2.6" fill="#f30d0d"/><circle cx="89.12" cy="469.24" r="2.6" fill="#f30d0d"/><circle cx="89.81" cy="469.34" r="2.6" fill="#f30d0d"/><circle cx="90.5" cy="469.44" r="2.6" fill="#f30d0d"/><circle cx="91.19" cy="469.54" r="2.6" fill="#f30d0d"/><circle cx="91.88" cy="469.64" r="2.6" fill="#f30d0d"/><circle cx="92.57" cy="469.74" r="2.6" fill="#f30d0d"/><circle cx="93.26" cy="469.83" r="2.6" fill="#f30d0d"/><circle cx="93.95" cy="469.93" r="2.6" fill="#f30d0d"/><circle cx="94.65" cy="470.03" r="2.6" fill="#f30d0d"/><circle cx="95.34" cy="470.13" r="2.6" fill="#f30d0d"/><circle cx="96.8" cy="470.34" r="2.6" fill="#f30d0d"/><circle cx="101.12" cy="470.84" r="2.6" fill="#f30d0d"/><circle cx="105.44" cy="471.34" r="2.6" fill="#f30d0d"/><circle cx="109.75" cy="471.85" r="2.6" fill="#f30d0d"/><circle cx="114.07" cy="472.35" r="2.6" fill="#f30d0d"/><circle cx="118.39" cy="472.5" r="2.6" fill="#f30d0d"/><circle cx="122.7" cy="472.65" r="2.6" fill="#f30d0d"/><circle cx="127.02" cy="472.8" r="2.6" fill="#f30d0d"/><circle cx="131.34" cy="472.95" r="2.6" fill="#f30d0d"/><circle cx="135.65" cy="473.1" r="2.6" fill="#f30d0d"/><circle cx="138.24" cy="473.04" r="2.6" fill="#f30d0d"/><circle cx="139.11" cy="473.02" r="2.6" fill="#f30d0d"/><circle cx="139.97" cy="473" r="2.6" fill="#f30d0d"/><circle cx="140.83" cy="472.98" r="2.6" fill="#f30d0d"/><circle cx="141.7" cy="472.95" r="2.6" fill="#f30d0d"/><circle cx="142.56" cy="472.93" r="2.6" fill="#f30d0d"/><circle cx="143.42" cy="472.91" r="2.6" fill="#f30d0d"/><circle cx="144.29" cy="472.89" r="2.6" fill="#f30d0d"/><circle cx="145.15" cy="472.87" r="2.6" fill="#f30d0d"/><circle cx="146.01" cy="472.85" r="2.6" fill="#f30d0d"/><circle cx="146.88" cy="472.83" r="2.6" fill="#f30d0d"/><circle cx="147.74" cy="472.81" r="2.6" fill="#f30d0d"/><circle cx="148.6" cy="472.79" r="2.6" fill="#f30d0d"/><circle cx="149.47" cy="472.77" r="2.6" fill="#f30d0d"/><circle cx="150.33" cy="472.75" r="2.6" fill="#f30d0d"/><circle cx="151.19" cy="472.72" r="2.6" fill="#f30d0d"/><circle cx="152.06" cy="472.7" r="2.6" fill="#f30d0d"/><circle cx="152.92" cy="472.68" r="2.6" fill="#f30d0d"/><circle cx="153.78" cy="472.66" r="2.6" fill="#f30d0d"/><circle cx="154.65" cy="472.64" r="2.6" fill="#f30d0d"/><circle cx="155.51" cy="472.62" r="2.6" fill="#f30d0d"/><circle cx="156.37" cy="472.6" r="2.6" fill="#f30d0d"/><circle cx="157.24" cy="472.56" r="2.6" fill="#f30d0d"/><circle cx="158.1" cy="472.52" r="2.6" fill="#f30d0d"/><circle cx="158.96" cy="472.48" r="2.6" fill="#f30d0d"/><circle cx="159.83" cy="472.44" r="2.6" fill="#f30d0d"/><circle cx="160.69" cy="472.4" r="2.6" fill="#f30d0d"/><circle cx="161.55" cy="472.36" r="2.6" fill="#f30d0d"/><circle cx="162.42" cy="472.32" r="2.6" fill="#f30d0d"/><circle cx="163.28" cy="472.28" r="2.6" fill="#f30d0d"/><circle cx="164.14" cy="472.24" r="2.6" fill="#f30d0d"/><circle cx="165.01" cy="472.2" r="2.6" fill="#f30d0d"/><circle cx="165.87" cy="472.16" r="2.6" fill="#f30d0d"/><circle cx="166.73" cy="472.12" r="2.6" fill="#f30d0d"/><circle cx="167.6" cy="472.08" r="2.6" fill="#f30d0d"/><circle cx="168.46" cy="472.04" r="2.6" fill="#f30d0d"/><circle cx="169.32" cy="472" r="2.6" fill="#f30d0d"/><circle cx="170.19" cy="471.96" r="2.6" fill="#f30d0d"/><circle cx="171.05" cy="471.92" r="2.6" fill="#f30d0d"/><circle cx="171.91" cy="471.88" r="2.6" fill="#f30d0d"/><circle cx="172.78" cy="471.84" r="2.6" fill="#f30d0d"/><circle cx="173.64" cy="471.8" r="2.6" fill="#f30d0d"/><circle cx="174.5" cy="471.76" r="2.6" fill="#f30d0d"/><circle cx="175.37" cy="471.72" r="2.6" fill="#f30d0d"/><circle cx="176.23" cy="471.68" r="2.6" fill="#f30d0d"/><circle cx="177.09" cy="471.64" r="2.6" fill="#f30d0d"/><circle cx="177.96" cy="471.59" r="2.6" fill="#f30d0d"/><circle cx="178.82" cy="471.54" r="2.6" fill="#f30d0d"/><circle cx="179.68" cy="471.49" r="2.6" fill="#f30d0d"/><circle cx="180.55" cy="471.44" r="2.6" fill="#f30d0d"/><circle cx="181.41" cy="471.39" r="2.6" fill="#f30d0d"/><circle cx="182.27" cy="471.33" r="2.6" fill="#f30d0d"/><circle cx="183.14" cy="471.28" r="2.6" fill="#f30d0d"/><circle cx="184" cy="471.23" r="2.6" fill="#f30d0d"/><circle cx="184.86" cy="471.18" r="2.6" fill="#f30d0d"/><circle cx="185.73" cy="471.12" r="2.6" fill="#f30d0d"/><circle cx="186.59" cy="471.07" r="2.6" fill="#f30d0d"/><circle cx="187.45" cy="471.02" r="2.6" fill="#f30d0d"/><circle cx="188.32" cy="470.97" r="2.6" fill="#f30d0d"/><circle cx="189.18" cy="470.93" r="2.6" fill="#f30d0d"/><circle cx="190.04" cy="470.88" r="2.6" fill="#f30d0d"/><circle cx="190.91" cy="470.84" r="2.6" fill="#f30d0d"/><circle cx="191.77" cy="470.8" r="2.6" fill="#f30d0d"/><circle cx="192.63" cy="470.76" r="2.6" fill="#f30d0d"/><circle cx="193.5" cy="470.72" r="2.6" fill="#f30d0d"/><circle cx="194.36" cy="470.67" r="2.6" fill="#f30d0d"/><circle cx="195.22" cy="470.63" r="2.6" fill="#f30d0d"/><circle cx="196.09" cy="470.59" r="2.6" fill="#f30d0d"/><circle cx="196.95" cy="470.55" r="2.6" fill="#f30d0d"/><circle cx="197.81" cy="470.51" r="2.6" fill="#f30d0d"/><circle cx="198.68" cy="470.47" r="2.6" fill="#f30d0d"/><circle cx="199.54" cy="470.42" r="2.6" fill="#f30d0d"/><circle cx="200.4" cy="470.38" r="2.6" fill="#f30d0d"/><circle cx="201.27" cy="470.34" r="2.6" fill="#f30d0d"/><circle cx="202.13" cy="470.27" r="2.6" fill="#f30d0d"/><circle cx="202.99" cy="470.21" r="2.6" fill="#f30d0d"/><circle cx="203.86" cy="470.14" r="2.6" fill="#f30d0d"/><circle cx="204.72" cy="470.08" r="2.6" fill="#f30d0d"/><circle cx="205.58" cy="470.01" r="2.6" fill="#f30d0d"/><circle cx="206.45" cy="469.95" r="2.6" fill="#f30d0d"/><circle cx="207.31" cy="469.88" r="2.6" fill="#f30d0d"/><circle cx="208.17" cy="469.82" r="2.6" fill="#f30d0d"/><circle cx="209.04" cy="469.75" r="2.6" fill="#f30d0d"/><circle cx="209.9" cy="469.69" r="2.6" fill="#f30d0d"/><circle cx="210.76" cy="469.62" r="2.6" fill="#f30d0d"/><circle cx="211.63" cy="469.56" r="2.6" fill="#f30d0d"/><circle cx="212.49" cy="469.49" r="2.6" fill="#f30d0d"/><circle cx="213.35" cy="469.43" r="2.6" fill="#f30d0d"/><circle cx="214.22" cy="469.36" r="2.6" fill="#f30d0d"/><circle cx="215.08" cy="469.3" r="2.6" fill="#f30d0d"/><circle cx="215.94" cy="469.23" r="2.6" fill="#f30d0d"/><circle cx="216.81" cy="469.17" r="2.6" fill="#f30d0d"/><circle cx="217.67" cy="469.1" r="2.6" fill="#f30d0d"/><circle cx="218.53" cy="469.03" r="2.6" fill="#f30d0d"/><circle cx="219.4" cy="468.97" r="2.6" fill="#f30d0d"/><circle cx="220.26" cy="468.9" r="2.6" fill="#f30d0d"/><circle cx="221.12" cy="468.84" r="2.6" fill="#f30d0d"/><circle cx="221.99" cy="468.77" r="2.6" fill="#f30d0d"/><circle cx="222.85" cy="468.71" r="2.6" fill="#f30d0d"/><circle cx="223.71" cy="468.53" r="2.6" fill="#f30d0d"/><circle cx="224.58" cy="468.35" r="2.6" fill="#f30d0d"/><circle cx="225.44" cy="468.17" r="2.6" fill="#f30d0d"/><circle cx="226.3" cy="467.99" r="2.6" fill="#f30d0d"/><circle cx="227.17" cy="467.81" r="2.6" fill="#f30d0d"/><circle cx="228.03" cy="467.63" r="2.6" fill="#f30d0d"/><circle cx="228.89" cy="467.45" r="2.6" fill="#f30d0d"/><circle cx="229.76" cy="467.27" r="2.6" fill="#f30d0d"/><circle cx="230.62" cy="467.08" r="2.6" fill="#f30d0d"/><circle cx="231.48" cy="466.9" r="2.6" fill="#f30d0d"/><circle cx="232.35" cy="466.72" r="2.6" fill="#f30d0d"/><circle cx="233.21" cy="466.54" r="2.6" fill="#f30d0d"/><circle cx="234.07" cy="466.36" r="2.6" fill="#f30d0d"/><circle cx="234.94" cy="466.18" r="2.6" fill="#f30d0d"/><circle cx="235.8" cy="466" r="2.6" fill="#f30d0d"/><circle cx="236.66" cy="465.82" r="2.6" fill="#f30d0d"/><circle cx="56.4" cy="395.04" r="2.25" fill="#fff" stroke="#f30d0d" stroke-width="1.25"/><circle cx="57.26" cy="398.32" r="2.25" fill="#fff" stroke="#f30d0d" stroke-width="1.25"/><circle cx="58.13" cy="402.66" r="2.25" fill="#fff" stroke="#f30d0d" stroke-width="1.25"/><circle cx="58.99" cy="405.6" r="2.25" fill="#fff" stroke="#f30d0d" stroke-width="1.25"/><circle cx="59.85" cy="407.31" r="2.25" fill="#fff" stroke="#f30d0d" stroke-width="1.25"/><circle cx="60.72" cy="408.93" r="2.25" fill="#fff" stroke="#f30d0d" stroke-width="1.25"/><circle cx="61.58" cy="409.8" r="2.25" fill="#fff" stroke="#f30d0d" stroke-width="1.25"/><circle cx="62.44" cy="410.67" r="2.25" fill="#fff" stroke="#f30d0d" stroke-width="1.25"/><circle cx="63.31" cy="411.54" r="2.25" fill="#fff" stroke="#f30d0d" stroke-width="1.25"/><circle cx="64.17" cy="412.42" r="2.25" fill="#fff" stroke="#f30d0d" stroke-width="1.25"/><circle cx="65.03" cy="413.23" r="2.25" fill="#fff" stroke="#f30d0d" stroke-width="1.25"/><circle cx="65.9" cy="413.79" r="2.25" fill="#fff" stroke="#f30d0d" stroke-width="1.25"/><circle cx="66.76" cy="414.36" r="2.25" fill="#fff" stroke="#f30d0d" stroke-width="1.25"/><circle cx="67.62" cy="414.93" r="2.25" fill="#fff" stroke="#f30d0d" stroke-width="1.25"/><circle cx="68.49" cy="415.5" r="2.25" fill="#fff" stroke="#f30d0d" stroke-width="1.25"/><circle cx="69.35" cy="416.07" r="2.25" fill="#fff" stroke="#f30d0d" stroke-width="1.25"/><circle cx="70.21" cy="416.64" r="2.25" fill="#fff" stroke="#f30d0d" stroke-width="1.25"/><circle cx="71.08" cy="417.21" r="2.25" fill="#fff" stroke="#f30d0d" stroke-width="1.25"/><circle cx="71.94" cy="417.55" r="2.25" fill="#fff" stroke="#f30d0d" stroke-width="1.25"/><circle cx="72.8" cy="417.8" r="2.25" fill="#fff" stroke="#f30d0d" stroke-width="1.25"/><circle cx="73.67" cy="418.04" r="2.25" fill="#fff" stroke="#f30d0d" stroke-width="1.25"/><circle cx="74.53" cy="418.29" r="2.25" fill="#fff" stroke="#f30d0d" stroke-width="1.25"/><circle cx="75.39" cy="418.53" r="2.25" fill="#fff" stroke="#f30d0d" stroke-width="1.25"/><circle cx="76.26" cy="418.77" r="2.25" fill="#fff" stroke="#f30d0d" stroke-width="1.25"/><circle cx="77.12" cy="419.02" r="2.25" fill="#fff" stroke="#f30d0d" stroke-width="1.25"/><circle cx="77.98" cy="419.26" r="2.25" fill="#fff" stroke="#f30d0d" stroke-width="1.25"/><circle cx="78.85" cy="419.51" r="2.25" fill="#fff" stroke="#f30d0d" stroke-width="1.25"/><circle cx="79.71" cy="419.75" r="2.25" fill="#fff" stroke="#f30d0d" stroke-width="1.25"/><circle cx="80.57" cy="420" r="2.25" fill="#fff" stroke="#f30d0d" stroke-width="1.25"/><circle cx="81.44" cy="420.24" r="2.25" fill="#fff" stroke="#f30d0d" stroke-width="1.25"/><circle cx="82.3" cy="420.43" r="2.25" fill="#fff" stroke="#f30d0d" stroke-width="1.25"/><circle cx="83.16" cy="420.54" r="2.25" fill="#fff" stroke="#f30d0d" stroke-width="1.25"/><circle cx="84.03" cy="420.64" r="2.25" fill="#fff" stroke="#f30d0d" stroke-width="1.25"/><circle cx="84.89" cy="420.74" r="2.25" fill="#fff" stroke="#f30d0d" stroke-width="1.25"/><circle cx="85.75" cy="420.84" r="2.25" fill="#fff" stroke="#f30d0d" stroke-width="1.25"/><circle cx="86.62" cy="420.95" r="2.25" fill="#fff" stroke="#f30d0d" stroke-width="1.25"/><circle cx="87.48" cy="421.05" r="2.25" fill="#fff" stroke="#f30d0d" stroke-width="1.25"/><circle cx="88.34" cy="421.15" r="2.25" fill="#fff" stroke="#f30d0d" stroke-width="1.25"/><circle cx="89.21" cy="421.26" r="2.25" fill="#fff" stroke="#f30d0d" stroke-width="1.25"/><circle cx="90.07" cy="421.36" r="2.25" fill="#fff" stroke="#f30d0d" stroke-width="1.25"/><circle cx="90.93" cy="421.46" r="2.25" fill="#fff" stroke="#f30d0d" stroke-width="1.25"/><circle cx="91.8" cy="421.56" r="2.25" fill="#fff" stroke="#f30d0d" stroke-width="1.25"/><circle cx="92.66" cy="421.69" r="2.25" fill="#fff" stroke="#f30d0d" stroke-width="1.25"/><circle cx="93.52" cy="421.89" r="2.25" fill="#fff" stroke="#f30d0d" stroke-width="1.25"/><circle cx="94.39" cy="422.09" r="2.25" fill="#fff" stroke="#f30d0d" stroke-width="1.25"/><circle cx="95.25" cy="422.29" r="2.25" fill="#fff" stroke="#f30d0d" stroke-width="1.25"/><circle cx="96.8" cy="422.65" r="2.25" fill="#fff" stroke="#f30d0d" stroke-width="1.25"/><circle cx="101.12" cy="423.53" r="2.25" fill="#fff" stroke="#f30d0d" stroke-width="1.25"/><circle cx="105.44" cy="424.41" r="2.25" fill="#fff" stroke="#f30d0d" stroke-width="1.25"/><circle cx="109.75" cy="425.16" r="2.25" fill="#fff" stroke="#f30d0d" stroke-width="1.25"/><circle cx="114.07" cy="425.91" r="2.25" fill="#fff" stroke="#f30d0d" stroke-width="1.25"/><circle cx="118.39" cy="426.85" r="2.25" fill="#fff" stroke="#f30d0d" stroke-width="1.25"/><circle cx="122.7" cy="427.8" r="2.25" fill="#fff" stroke="#f30d0d" stroke-width="1.25"/><circle cx="127.02" cy="428.81" r="2.25" fill="#fff" stroke="#f30d0d" stroke-width="1.25"/><circle cx="131.34" cy="429.87" r="2.25" fill="#fff" stroke="#f30d0d" stroke-width="1.25"/><circle cx="135.65" cy="430.93" r="2.25" fill="#fff" stroke="#f30d0d" stroke-width="1.25"/><circle cx="138.24" cy="431.75" r="2.25" fill="#fff" stroke="#f30d0d" stroke-width="1.25"/><circle cx="139.45" cy="432.13" r="2.25" fill="#fff" stroke="#f30d0d" stroke-width="1.25"/><circle cx="140.66" cy="432.51" r="2.25" fill="#fff" stroke="#f30d0d" stroke-width="1.25"/><circle cx="141.87" cy="432.89" r="2.25" fill="#fff" stroke="#f30d0d" stroke-width="1.25"/><circle cx="143.08" cy="433.27" r="2.25" fill="#fff" stroke="#f30d0d" stroke-width="1.25"/><circle cx="144.29" cy="433.65" r="2.25" fill="#fff" stroke="#f30d0d" stroke-width="1.25"/><circle cx="145.5" cy="434.03" r="2.25" fill="#fff" stroke="#f30d0d" stroke-width="1.25"/><circle cx="146.7" cy="434.36" r="2.25" fill="#fff" stroke="#f30d0d" stroke-width="1.25"/><circle cx="147.91" cy="434.66" r="2.25" fill="#fff" stroke="#f30d0d" stroke-width="1.25"/><circle cx="149.12" cy="434.95" r="2.25" fill="#fff" stroke="#f30d0d" stroke-width="1.25"/><circle cx="150.33" cy="435.24" r="2.25" fill="#fff" stroke="#f30d0d" stroke-width="1.25"/><circle cx="151.54" cy="435.53" r="2.25" fill="#fff" stroke="#f30d0d" stroke-width="1.25"/><circle cx="152.75" cy="435.83" r="2.25" fill="#fff" stroke="#f30d0d" stroke-width="1.25"/><circle cx="153.96" cy="436.12" r="2.25" fill="#fff" stroke="#f30d0d" stroke-width="1.25"/><circle cx="155.16" cy="436.41" r="2.25" fill="#fff" stroke="#f30d0d" stroke-width="1.25"/><circle cx="156.37" cy="436.71" r="2.25" fill="#fff" stroke="#f30d0d" stroke-width="1.25"/><circle cx="157.58" cy="437" r="2.25" fill="#fff" stroke="#f30d0d" stroke-width="1.25"/><circle cx="158.79" cy="437.3" r="2.25" fill="#fff" stroke="#f30d0d" stroke-width="1.25"/><circle cx="160" cy="437.6" r="2.25" fill="#fff" stroke="#f30d0d" stroke-width="1.25"/><circle cx="161.21" cy="437.9" r="2.25" fill="#fff" stroke="#f30d0d" stroke-width="1.25"/><circle cx="162.42" cy="438.19" r="2.25" fill="#fff" stroke="#f30d0d" stroke-width="1.25"/><circle cx="163.63" cy="438.49" r="2.25" fill="#fff" stroke="#f30d0d" stroke-width="1.25"/><circle cx="164.83" cy="438.79" r="2.25" fill="#fff" stroke="#f30d0d" stroke-width="1.25"/><circle cx="166.04" cy="439.08" r="2.25" fill="#fff" stroke="#f30d0d" stroke-width="1.25"/><circle cx="167.25" cy="439.38" r="2.25" fill="#fff" stroke="#f30d0d" stroke-width="1.25"/><circle cx="168.46" cy="439.72" r="2.25" fill="#fff" stroke="#f30d0d" stroke-width="1.25"/><circle cx="169.67" cy="440.07" r="2.25" fill="#fff" stroke="#f30d0d" stroke-width="1.25"/><circle cx="170.88" cy="440.42" r="2.25" fill="#fff" stroke="#f30d0d" stroke-width="1.25"/><circle cx="172.09" cy="440.77" r="2.25" fill="#fff" stroke="#f30d0d" stroke-width="1.25"/><circle cx="173.29" cy="441.12" r="2.25" fill="#fff" stroke="#f30d0d" stroke-width="1.25"/><circle cx="174.5" cy="441.48" r="2.25" fill="#fff" stroke="#f30d0d" stroke-width="1.25"/><circle cx="175.71" cy="441.83" r="2.25" fill="#fff" stroke="#f30d0d" stroke-width="1.25"/><circle cx="176.92" cy="442.18" r="2.25" fill="#fff" stroke="#f30d0d" stroke-width="1.25"/><circle cx="178.13" cy="442.54" r="2.25" fill="#fff" stroke="#f30d0d" stroke-width="1.25"/><circle cx="179.34" cy="442.95" r="2.25" fill="#fff" stroke="#f30d0d" stroke-width="1.25"/><circle cx="180.55" cy="443.36" r="2.25" fill="#fff" stroke="#f30d0d" stroke-width="1.25"/><circle cx="181.76" cy="443.77" r="2.25" fill="#fff" stroke="#f30d0d" stroke-width="1.25"/><circle cx="182.96" cy="444.18" r="2.25" fill="#fff" stroke="#f30d0d" stroke-width="1.25"/><circle cx="184.17" cy="444.59" r="2.25" fill="#fff" stroke="#f30d0d" stroke-width="1.25"/><circle cx="185.38" cy="445" r="2.25" fill="#fff" stroke="#f30d0d" stroke-width="1.25"/><circle cx="186.59" cy="445.41" r="2.25" fill="#fff" stroke="#f30d0d" stroke-width="1.25"/><circle cx="187.8" cy="445.82" r="2.25" fill="#fff" stroke="#f30d0d" stroke-width="1.25"/><circle cx="189.01" cy="446.2" r="2.25" fill="#fff" stroke="#f30d0d" stroke-width="1.25"/><circle cx="190.22" cy="446.57" r="2.25" fill="#fff" stroke="#f30d0d" stroke-width="1.25"/><circle cx="191.42" cy="446.93" r="2.25" fill="#fff" stroke="#f30d0d" stroke-width="1.25"/><circle cx="192.63" cy="447.29" r="2.25" fill="#fff" stroke="#f30d0d" stroke-width="1.25"/><circle cx="193.84" cy="447.66" r="2.25" fill="#fff" stroke="#f30d0d" stroke-width="1.25"/><circle cx="195.05" cy="448.02" r="2.25" fill="#fff" stroke="#f30d0d" stroke-width="1.25"/><circle cx="196.26" cy="448.39" r="2.25" fill="#fff" stroke="#f30d0d" stroke-width="1.25"/><circle cx="197.47" cy="448.75" r="2.25" fill="#fff" stroke="#f30d0d" stroke-width="1.25"/><circle cx="198.68" cy="449.11" r="2.25" fill="#fff" stroke="#f30d0d" stroke-width="1.25"/><circle cx="199.89" cy="449.48" r="2.25" fill="#fff" stroke="#f30d0d" stroke-width="1.25"/><circle cx="201.09" cy="449.84" r="2.25" fill="#fff" stroke="#f30d0d" stroke-width="1.25"/><circle cx="202.3" cy="450.21" r="2.25" fill="#fff" stroke="#f30d0d" stroke-width="1.25"/><circle cx="203.51" cy="450.57" r="2.25" fill="#fff" stroke="#f30d0d" stroke-width="1.25"/><circle cx="204.72" cy="450.93" r="2.25" fill="#fff" stroke="#f30d0d" stroke-width="1.25"/><circle cx="205.93" cy="451.32" r="2.25" fill="#fff" stroke="#f30d0d" stroke-width="1.25"/><circle cx="207.14" cy="451.7" r="2.25" fill="#fff" stroke="#f30d0d" stroke-width="1.25"/><circle cx="208.35" cy="452.09" r="2.25" fill="#fff" stroke="#f30d0d" stroke-width="1.25"/><circle cx="209.55" cy="452.47" r="2.25" fill="#fff" stroke="#f30d0d" stroke-width="1.25"/><circle cx="210.76" cy="452.86" r="2.25" fill="#fff" stroke="#f30d0d" stroke-width="1.25"/><circle cx="211.97" cy="453.24" r="2.25" fill="#fff" stroke="#f30d0d" stroke-width="1.25"/><circle cx="213.18" cy="453.58" r="2.25" fill="#fff" stroke="#f30d0d" stroke-width="1.25"/><circle cx="214.39" cy="453.9" r="2.25" fill="#fff" stroke="#f30d0d" stroke-width="1.25"/><circle cx="215.6" cy="454.23" r="2.25" fill="#fff" stroke="#f30d0d" stroke-width="1.25"/><circle cx="216.81" cy="454.56" r="2.25" fill="#fff" stroke="#f30d0d" stroke-width="1.25"/><circle cx="218.02" cy="454.88" r="2.25" fill="#fff" stroke="#f30d0d" stroke-width="1.25"/><circle cx="219.22" cy="455.21" r="2.25" fill="#fff" stroke="#f30d0d" stroke-width="1.25"/><circle cx="220.43" cy="455.54" r="2.25" fill="#fff" stroke="#f30d0d" stroke-width="1.25"/><circle cx="221.64" cy="455.87" r="2.25" fill="#fff" stroke="#f30d0d" stroke-width="1.25"/><circle cx="222.85" cy="456.19" r="2.25" fill="#fff" stroke="#f30d0d" stroke-width="1.25"/><circle cx="224.06" cy="456.52" r="2.25" fill="#fff" stroke="#f30d0d" stroke-width="1.25"/><circle cx="225.27" cy="456.97" r="2.25" fill="#fff" stroke="#f30d0d" stroke-width="1.25"/><circle cx="226.48" cy="457.51" r="2.25" fill="#fff" stroke="#f30d0d" stroke-width="1.25"/><circle cx="227.68" cy="458.05" r="2.25" fill="#fff" stroke="#f30d0d" stroke-width="1.25"/><circle cx="228.89" cy="458.59" r="2.25" fill="#fff" stroke="#f30d0d" stroke-width="1.25"/><circle cx="230.1" cy="459.13" r="2.25" fill="#fff" stroke="#f30d0d" stroke-width="1.25"/><circle cx="231.31" cy="459.67" r="2.25" fill="#fff" stroke="#f30d0d" stroke-width="1.25"/><circle cx="232.52" cy="460.21" r="2.25" fill="#fff" stroke="#f30d0d" stroke-width="1.25"/><circle cx="233.73" cy="460.75" r="2.25" fill="#fff" stroke="#f30d0d" stroke-width="1.25"/><circle cx="234.94" cy="461.29" r="2.25" fill="#fff" stroke="#f30d0d" stroke-width="1.25"/><circle cx="236.15" cy="461.86" r="2.25" fill="#fff" stroke="#f30d0d" stroke-width="1.25"/><circle cx="237.35" cy="462.47" r="2.25" fill="#fff" stroke="#f30d0d" stroke-width="1.25"/><circle cx="238.56" cy="463.04" r="2.25" fill="#fff" stroke="#f30d0d" stroke-width="1.25"/><circle cx="239.77" cy="463.6" r="2.25" fill="#fff" stroke="#f30d0d" stroke-width="1.25"/><circle cx="240.98" cy="464.17" r="2.25" fill="#fff" stroke="#f30d0d" stroke-width="1.25"/><circle cx="242.19" cy="464.73" r="2.25" fill="#fff" stroke="#f30d0d" stroke-width="1.25"/><circle cx="243.4" cy="465.29" r="2.25" fill="#fff" stroke="#f30d0d" stroke-width="1.25"/><circle cx="244.61" cy="465.75" r="2.25" fill="#fff" stroke="#f30d0d" stroke-width="1.25"/><circle cx="245.81" cy="466.12" r="2.25" fill="#fff" stroke="#f30d0d" stroke-width="1.25"/><circle cx="247.02" cy="466.48" r="2.25" fill="#fff" stroke="#f30d0d" stroke-width="1.25"/><circle cx="248.23" cy="466.85" r="2.25" fill="#fff" stroke="#f30d0d" stroke-width="1.25"/><circle cx="249.44" cy="467.22" r="2.25" fill="#fff" stroke="#f30d0d" stroke-width="1.25"/><circle cx="250.65" cy="467.58" r="2.25" fill="#fff" stroke="#f30d0d" stroke-width="1.25"/><circle cx="251.86" cy="467.95" r="2.25" fill="#fff" stroke="#f30d0d" stroke-width="1.25"/><circle cx="253.07" cy="468.31" r="2.25" fill="#fff" stroke="#f30d0d" stroke-width="1.25"/><circle cx="254.28" cy="468.68" r="2.25" fill="#fff" stroke="#f30d0d" stroke-width="1.25"/><circle cx="255.48" cy="469.02" r="2.25" fill="#fff" stroke="#f30d0d" stroke-width="1.25"/><circle cx="256.69" cy="469.34" r="2.25" fill="#fff" stroke="#f30d0d" stroke-width="1.25"/><circle cx="257.9" cy="469.66" r="2.25" fill="#fff" stroke="#f30d0d" stroke-width="1.25"/><circle cx="259.11" cy="469.98" r="2.25" fill="#fff" stroke="#f30d0d" stroke-width="1.25"/><circle cx="260.32" cy="470.31" r="2.25" fill="#fff" stroke="#f30d0d" stroke-width="1.25"/><circle cx="261.53" cy="470.63" r="2.25" fill="#fff" stroke="#f30d0d" stroke-width="1.25"/><circle cx="262.74" cy="470.95" r="2.25" fill="#fff" stroke="#f30d0d" stroke-width="1.25"/><circle cx="263.94" cy="471.27" r="2.25" fill="#fff" stroke="#f30d0d" stroke-width="1.25"/><circle cx="265.15" cy="471.6" r="2.25" fill="#fff" stroke="#f30d0d" stroke-width="1.25"/><circle cx="266.36" cy="471.85" r="2.25" fill="#fff" stroke="#f30d0d" stroke-width="1.25"/><circle cx="267.57" cy="472.1" r="2.25" fill="#fff" stroke="#f30d0d" stroke-width="1.25"/><circle cx="268.78" cy="472.35" r="2.25" fill="#fff" stroke="#f30d0d" stroke-width="1.25"/><circle cx="269.99" cy="472.61" r="2.25" fill="#fff" stroke="#f30d0d" stroke-width="1.25"/><circle cx="271.2" cy="472.86" r="2.25" fill="#fff" stroke="#f30d0d" stroke-width="1.25"/><circle cx="272.41" cy="473.11" r="2.25" fill="#fff" stroke="#f30d0d" stroke-width="1.25"/><circle cx="273.61" cy="473.37" r="2.25" fill="#fff" stroke="#f30d0d" stroke-width="1.25"/><circle cx="274.82" cy="473.62" r="2.25" fill="#fff" stroke="#f30d0d" stroke-width="1.25"/><circle cx="276.03" cy="473.86" r="2.25" fill="#fff" stroke="#f30d0d" stroke-width="1.25"/><circle cx="277.24" cy="474" r="2.25" fill="#fff" stroke="#f30d0d" stroke-width="1.25"/><circle cx="278.45" cy="474.15" r="2.25" fill="#fff" stroke="#f30d0d" stroke-width="1.25"/><circle cx="279.66" cy="474.29" r="2.25" fill="#fff" stroke="#f30d0d" stroke-width="1.25"/><circle cx="280.87" cy="474.43" r="2.25" fill="#fff" stroke="#f30d0d" stroke-width="1.25"/><circle cx="282.07" cy="474.57" r="2.25" fill="#fff" stroke="#f30d0d" stroke-width="1.25"/><circle cx="283.28" cy="474.71" r="2.25" fill="#fff" stroke="#f30d0d" stroke-width="1.25"/><circle cx="284.49" cy="474.85" r="2.25" fill="#fff" stroke="#f30d0d" stroke-width="1.25"/><circle cx="285.7" cy="474.99" r="2.25" fill="#fff" stroke="#f30d0d" stroke-width="1.25"/><circle cx="286.91" cy="475.13" r="2.25" fill="#fff" stroke="#f30d0d" stroke-width="1.25"/><circle cx="288.12" cy="475.31" r="2.25" fill="#fff" stroke="#f30d0d" stroke-width="1.25"/><circle cx="289.33" cy="475.49" r="2.25" fill="#fff" stroke="#f30d0d" stroke-width="1.25"/><circle cx="290.54" cy="475.66" r="2.25" fill="#fff" stroke="#f30d0d" stroke-width="1.25"/><circle cx="291.74" cy="475.84" r="2.25" fill="#fff" stroke="#f30d0d" stroke-width="1.25"/><circle cx="292.95" cy="476.01" r="2.25" fill="#fff" stroke="#f30d0d" stroke-width="1.25"/><circle cx="294.16" cy="476.19" r="2.25" fill="#fff" stroke="#f30d0d" stroke-width="1.25"/><circle cx="295.37" cy="476.36" r="2.25" fill="#fff" stroke="#f30d0d" stroke-width="1.25"/><circle cx="296.58" cy="476.54" r="2.25" fill="#fff" stroke="#f30d0d" stroke-width="1.25"/><circle cx="297.79" cy="476.7" r="2.25" fill="#fff" stroke="#f30d0d" stroke-width="1.25"/><circle cx="299" cy="476.85" r="2.25" fill="#fff" stroke="#f30d0d" stroke-width="1.25"/><circle cx="300.2" cy="477" r="2.25" fill="#fff" stroke="#f30d0d" stroke-width="1.25"/><circle cx="301.41" cy="477.14" r="2.25" fill="#fff" stroke="#f30d0d" stroke-width="1.25"/><circle cx="302.62" cy="477.29" r="2.25" fill="#fff" stroke="#f30d0d" stroke-width="1.25"/><circle cx="303.83" cy="477.44" r="2.25" fill="#fff" stroke="#f30d0d" stroke-width="1.25"/><circle cx="305.04" cy="477.59" r="2.25" fill="#fff" stroke="#f30d0d" stroke-width="1.25"/><circle cx="306.25" cy="477.74" r="2.25" fill="#fff" stroke="#f30d0d" stroke-width="1.25"/><circle cx="307.46" cy="477.88" r="2.25" fill="#fff" stroke="#f30d0d" stroke-width="1.25"/><circle cx="308.67" cy="478.03" r="2.25" fill="#fff" stroke="#f30d0d" stroke-width="1.25"/><circle cx="309.87" cy="478.18" r="2.25" fill="#fff" stroke="#f30d0d" stroke-width="1.25"/><circle cx="311.08" cy="478.33" r="2.25" fill="#fff" stroke="#f30d0d" stroke-width="1.25"/><circle cx="312.29" cy="478.48" r="2.25" fill="#fff" stroke="#f30d0d" stroke-width="1.25"/><circle cx="313.5" cy="478.62" r="2.25" fill="#fff" stroke="#f30d0d" stroke-width="1.25"/></g>
<line x1="257.9" y1="276.8" x2="257.9" y2="384.3" stroke="#222" stroke-width="1.9" stroke-dasharray="5.2 5.3"/>
<line x1="237.3" y1="384.3" x2="237.3" y2="491.3" stroke="#222" stroke-width="1.9" stroke-dasharray="5.8 4.8"/>
<rect x="54.5" y="276.8" width="259.0" height="214.5" fill="none" stroke="#363636" stroke-width="1.2"/>
<line x1="54.5" y1="384.3" x2="313.5" y2="384.3" stroke="#363636" stroke-width="1.2"/>
<path d="M54.5 491.3v-3.2M54.5 276.8v3.2M54.5 381.1v6.4M76.08 491.3v-2.2M76.08 276.8v2.2M76.08 382.1v4.4M97.67 491.3v-3.2M97.67 276.8v3.2M97.67 381.1v6.4M119.25 491.3v-2.2M119.25 276.8v2.2M119.25 382.1v4.4M140.83 491.3v-3.2M140.83 276.8v3.2M140.83 381.1v6.4M162.42 491.3v-2.2M162.42 276.8v2.2M162.42 382.1v4.4M184 491.3v-3.2M184 276.8v3.2M184 381.1v6.4M205.58 491.3v-2.2M205.58 276.8v2.2M205.58 382.1v4.4M227.17 491.3v-3.2M227.17 276.8v3.2M227.17 381.1v6.4M248.75 491.3v-2.2M248.75 276.8v2.2M248.75 382.1v4.4M270.33 491.3v-3.2M270.33 276.8v3.2M270.33 381.1v6.4M291.92 491.3v-2.2M291.92 276.8v2.2M291.92 382.1v4.4M313.5 491.3v-3.2M313.5 276.8v3.2M313.5 381.1v6.4M54.5 292h3.2M313.5 292h-3.2M54.5 319.25h2.2M313.5 319.25h-2.2M54.5 346.5h3.2M313.5 346.5h-3.2M54.5 373.75h2.2M313.5 373.75h-2.2M54.5 397.55h2.2M313.5 397.55h-2.2M54.5 410.1h3.2M313.5 410.1h-3.2M54.5 422.65h2.2M313.5 422.65h-2.2M54.5 435.2h3.2M313.5 435.2h-3.2M54.5 447.75h2.2M313.5 447.75h-2.2M54.5 460.3h3.2M313.5 460.3h-3.2M54.5 472.85h2.2M313.5 472.85h-2.2M54.5 485.4h3.2M313.5 485.4h-3.2" stroke="#363636" stroke-width="1.1" fill="none"/>
<text transform="translate(48.5,297)" font-size="14.00" text-anchor="end">4</text>
<text transform="translate(48.5,351.5)" font-size="14.00" text-anchor="end">3</text>
<text transform="translate(48.5,390)" font-size="14.00" text-anchor="end">7</text>
<text transform="translate(48.5,415.1)" font-size="14.00" text-anchor="end">6</text>
<text transform="translate(48.5,440.2)" font-size="14.00" text-anchor="end">5</text>
<text transform="translate(48.5,465.3)" font-size="14.00" text-anchor="end">4</text>
<text transform="translate(48.5,490.4)" font-size="14.00" text-anchor="end">3</text>
<text transform="translate(54.5,506.3)" font-size="14.00" text-anchor="middle">0</text>
<text transform="translate(97.67,506.3)" font-size="14.00" text-anchor="middle">50</text>
<text transform="translate(140.83,506.3)" font-size="14.00" text-anchor="middle">100</text>
<text transform="translate(184,506.3)" font-size="14.00" text-anchor="middle">150</text>
<text transform="translate(227.17,506.3)" font-size="14.00" text-anchor="middle">200</text>
<text transform="translate(270.33,506.3)" font-size="14.00" text-anchor="middle">250</text>
<text transform="translate(313.5,506.3)" font-size="14.00" text-anchor="middle">300</text>
<text transform="translate(174.5,527.2) scale(0.950,1)" font-size="15.00">T (K)</text>
<text transform="translate(74.6,298.2) scale(1.060,1)" font-size="13.50">h = 46</text>
<text transform="translate(262,325.5) scale(1.030,1)" font-size="14.00">236 K</text>
<text transform="translate(74.2,405.8) scale(1.060,1)" font-size="13.50">h = 7</text>
<text transform="translate(163.5,428.2)" font-size="14.00">FC</text>
<text transform="translate(104.3,459.3) scale(1.060,1)" font-size="14.00">ZFC</text>
<text transform="translate(245,432.2) scale(1.030,1)" font-size="14.00">210 K</text>
<text transform="translate(4.5,281.5)" font-size="24.00">b)</text>
<text transform="translate(31,379) rotate(-90)" text-anchor="middle" font-size="14">M (Am<tspan font-size="9.5" dy="-5.5">2</tspan><tspan dy="5.5">kg</tspan><tspan font-size="9.5" dy="-5.5">-1</tspan><tspan dy="5.5">) &#183;10</tspan><tspan font-size="9.5" dy="-5.5">3</tspan></text>
<line x1="175.5" y1="435.6" x2="154" y2="430" stroke="#222" stroke-width="1"/><path d="M150.3 429 L155.2 428.3 L154.3 431.6 Z" fill="#222"/>
<line x1="102.3" y1="464.3" x2="125" y2="466" stroke="#222" stroke-width="1"/><path d="M129.2 466.4 L124.6 464.3 L124.4 467.8 Z" fill="#222"/>
<clipPath id="cd"><rect x="347.0" y="256.7" width="321.5" height="236.5"/></clipPath>
<g clip-path="url(#cd)">
<polyline fill="none" stroke="#f08a30" stroke-width="1.4" stroke-linejoin="round" points="347,374.43 347.37,374.41 347.73,374.49 348.1,374.5 348.47,374.48 348.84,374.56 349.2,374.56 349.57,374.49 349.94,374.46 350.31,374.48 350.67,374.49 351.04,374.39 351.41,374.35 351.78,374.29 352.14,374.21 352.51,374.07 352.88,374.12 353.25,374.06 353.61,374.17 353.98,374.24 354.35,374.32 354.72,374.19 355.08,374.21 355.45,374.19 355.82,374.17 356.19,374.09 356.55,374.19 356.92,374.16 357.29,374.1 357.66,374.14 358.02,374.17 358.39,374.18 358.76,374.27 359.13,374.27 359.49,374.19 359.86,374.23 360.23,374.22 360.59,374.09 360.96,374.11 361.33,374.18 361.7,374.08 362.06,374.1 362.43,374.16 362.8,374.11 363.17,374.13 363.53,374.23 363.9,374.11 364.27,374.09 364.64,374.13 365,374 365.37,373.98 365.74,374.02 366.11,374.03 366.47,374.06 366.84,374.01 367.21,373.97 367.58,373.93 367.94,373.88 368.31,373.71 368.68,373.7 369.05,373.65 369.41,373.7 369.78,373.73 370.15,373.7 370.52,373.67 370.88,373.69 371.25,373.51 371.62,373.39 371.99,373.43 372.35,373.51 372.72,373.49 373.09,373.55 373.45,373.52 373.82,373.48 374.19,373.47 374.56,373.37 374.92,373.34 375.29,373.35 375.66,373.32 376.03,373.19 376.39,373.12 376.76,373.1 377.13,373.02 377.5,373.05 377.86,373.05 378.23,373.07 378.6,373.06 378.97,373.02 379.33,372.97 379.7,372.89 380.07,372.88 380.44,372.72 380.8,372.71 381.17,372.51 381.54,372.35 381.91,372.25 382.27,372.22 382.64,372.15 383.01,372.3 383.38,372.31 383.74,372.23 384.11,372.23 384.48,372.18 384.85,371.98 385.21,371.95 385.58,371.95 385.95,371.89 386.31,371.74 386.68,371.67 387.05,371.6 387.42,371.42 387.78,371.33 388.15,371.25 388.52,371.22 388.89,371.14 389.25,371.1 389.62,370.96 389.99,370.9 390.36,370.64 390.72,370.46 391.09,370.37 391.46,370.17 391.83,370.11 392.19,370 392.56,369.97 392.93,369.78 393.3,369.79 393.66,369.61 394.03,369.48 394.4,369.34 394.77,369.3 395.13,369.08 395.5,368.88 395.87,368.75 396.24,368.42 396.6,368.18 396.97,367.91 397.34,367.65 397.71,367.32 398.07,367.01 398.44,366.52 398.81,366.2 399.17,365.72 399.54,365.26 399.91,364.65 400.28,363.91 400.64,362.89 401.01,361.72 401.38,360.23 401.75,358.37 402.11,356.01 402.48,352.8 402.85,348.55 403.22,342.87 403.58,335.09 403.95,325.06 404.32,313.84 404.69,304.64 405.05,302.04 405.42,308.15 405.79,318.95 406.16,329.74 406.52,338.65 406.89,345.48 407.26,350.46 407.63,354.11 407.99,356.95 408.36,358.94 408.73,360.53 409.1,361.72 409.46,362.69 409.83,363.54 410.2,364.21 410.57,364.78 410.93,365.31 411.3,365.74 411.67,365.98 412.03,366.34 412.4,366.57 412.77,366.79 413.14,367.01 413.5,367.28 413.87,367.44 414.24,367.62 414.61,367.72 414.97,367.76 415.34,367.84 415.71,367.95 416.08,367.99 416.44,368.12 416.81,368.29 417.18,368.34 417.55,368.37 417.91,368.38 418.28,368.46 418.65,368.36 419.02,368.36 419.38,368.34 419.75,368.39 420.12,368.38 420.49,368.49 420.85,368.34 421.22,368.17 421.59,368.09 421.96,367.86 422.32,367.68 422.69,367.68 423.06,367.56 423.43,367.26 423.79,367.17 424.16,367 424.53,366.75 424.89,366.62 425.26,366.45 425.63,366.09 426,365.78 426.36,365.42 426.73,364.97 427.1,364.64 427.47,364.28 427.83,363.83 428.2,363.29 428.57,362.74 428.94,362 429.3,361.22 429.67,360.39 430.04,359.49 430.41,358.53 430.77,357.46 431.14,356.33 431.51,354.81 431.88,353.27 432.24,351.4 432.61,349.28 432.98,346.69 433.35,343.99 433.71,340.81 434.08,337.13 434.45,332.84 434.82,327.85 435.18,321.98 435.55,314.89 435.92,306.48 436.29,296.87 436.65,286.26 437.02,275.53 437.39,266.87 437.75,262.62 438.12,263.9 438.49,270.45 438.86,280.31 439.22,291.13 439.59,301.31 439.96,310.41 440.33,318.29 440.69,324.97 441.06,330.56 441.43,335.36 441.8,339.45 442.16,342.9 442.53,345.97 442.9,348.54 443.27,350.9 443.63,352.86 444,354.72 444.37,356.29 444.74,357.69 445.1,359 445.47,360.3 445.84,361.31 446.21,362.29 446.57,363.22 446.94,363.75 447.31,364.39 447.68,365.04 448.04,365.59 448.41,366.04 448.78,366.66 449.15,367.08 449.51,367.57 449.88,367.96 450.25,368.38 450.61,368.8 450.98,369.09 451.35,369.29 451.72,369.44 452.08,369.77 452.45,369.97 452.82,370.27 453.19,370.53 453.55,370.82 453.92,370.93 454.29,371.04 454.66,371.14 455.02,371.25 455.39,371.47 455.76,371.62 456.13,371.76 456.49,371.86 456.86,371.94 457.23,372.05 457.6,372.15 457.96,372.26 458.33,372.37 458.7,372.43 459.07,372.43 459.43,372.53 459.8,372.58 460.17,372.66 460.54,372.78 460.9,372.86 461.27,372.79 461.64,372.86 462.01,372.89 462.37,373 462.74,373.01 463.11,373.18 463.47,373.33 463.84,373.4 464.21,373.37 464.58,373.47 464.94,373.48 465.31,373.39 465.68,373.47 466.05,373.65 466.41,373.67 466.78,373.69 467.15,373.72 467.52,373.75 467.88,373.61 468.25,373.59 468.62,373.71 468.99,373.74 469.35,373.81 469.72,373.99 470.09,374.09 470.46,374.08 470.82,374.26 471.19,374.21 471.56,374.12 471.93,374.06 472.29,374.06 472.66,374.05 473.03,374.14 473.4,374.14 473.76,374.18 474.13,374.17 474.5,374.13 474.87,374.09 475.23,374.17 475.6,374.25 475.97,374.27 476.33,374.27 476.7,374.31 477.07,374.31 477.44,374.34 477.8,374.47 478.17,374.52 478.54,374.52 478.91,374.45 479.27,374.46 479.64,374.27 480.01,374.17 480.38,374.23 480.74,374.37 481.11,374.35 481.48,374.37 481.85,374.44 482.21,374.37 482.58,374.38 482.95,374.52 483.32,374.63 483.68,374.62 484.05,374.6 484.42,374.57 484.79,374.45 485.15,374.39 485.52,374.44 485.89,374.45 486.26,374.52 486.62,374.6 486.99,374.72 487.36,374.7 487.73,374.8 488.09,374.74 488.46,374.67 488.83,374.6 489.19,374.56 489.56,374.46 489.93,374.52 490.3,374.53 490.66,374.57 491.03,374.7 491.4,374.69 491.77,374.61 492.13,374.63 492.5,374.65 492.87,374.58 493.24,374.73 493.6,374.79 493.97,374.72 494.34,374.65 494.71,374.72 495.07,374.69 495.44,374.58 495.81,374.72 496.18,374.81 496.54,374.84 496.91,374.8 497.28,374.88 497.65,374.75 498.01,374.86 498.38,374.78 498.75,374.89 499.12,374.87 499.48,374.94 499.85,374.72 500.22,374.71 500.59,374.68 500.95,374.65 501.32,374.7 501.69,374.8 502.05,374.77 502.42,374.69 502.79,374.73 503.16,374.67 503.52,374.63 503.89,374.64 504.26,374.65 504.63,374.62 504.99,374.55 505.36,374.57 505.73,374.66 506.1,374.6 506.46,374.65 506.83,374.68 507.2,374.63 507.57,374.63 507.93,374.68 508.3,374.76 508.67,374.75 509.04,374.82 509.4,374.75 509.77,374.74 510.14,374.68 510.51,374.71 510.87,374.72 511.24,374.73 511.61,374.7 511.98,374.66 512.34,374.66 512.71,374.68 513.08,374.62 513.45,374.67 513.81,374.58 514.18,374.6 514.55,374.49 514.91,374.43 515.28,374.42 515.65,374.56 516.02,374.43 516.38,374.42 516.75,374.47 517.12,374.4 517.49,374.35 517.85,374.37 518.22,374.38 518.59,374.44 518.96,374.44 519.32,374.43 519.69,374.4 520.06,374.36 520.43,374.21 520.79,374.33 521.16,374.27 521.53,374.32 521.9,374.36 522.26,374.44 522.63,374.32 523,374.41 523.37,374.32 523.73,374.2 524.1,374.11 524.47,374 524.84,373.91 525.2,373.97 525.57,373.96 525.94,373.9 526.31,373.91 526.67,373.89 527.04,373.65 527.41,373.68 527.77,373.63 528.14,373.65 528.51,373.45 528.88,373.52 529.24,373.33 529.61,373.25 529.98,373.19 530.35,373.19 530.71,373.08 531.08,373.01 531.45,372.84 531.82,372.61 532.18,372.42 532.55,372.28 532.92,372.15 533.29,372 533.65,371.81 534.02,371.58 534.39,371.4 534.76,371.22 535.12,370.95 535.49,370.56 535.86,370.16 536.23,369.6 536.59,368.95 536.96,368.37 537.33,367.68 537.7,366.95 538.06,366.08 538.43,365.1 538.8,363.89 539.17,362.5 539.53,360.76 539.9,358.81 540.27,356.49 540.63,353.84 541,350.79 541.37,347.24 541.74,343.36 542.1,339.19 542.47,335.1 542.84,331.56 543.21,329.07 543.57,328.14 543.94,329.01 544.31,331.38 544.68,334.83 545.04,338.94 545.41,343.02 545.78,346.92 546.15,350.46 546.51,353.62 546.88,356.28 547.25,358.65 547.62,360.64 547.98,362.34 548.35,363.74 548.72,365.06 549.09,366 549.45,366.92 549.82,367.72 550.19,368.44 550.56,369.02 550.92,369.6 551.29,370.02 551.66,370.44 552.03,370.81 552.39,371.12 552.76,371.36 553.13,371.67 553.49,371.93 553.86,372.17 554.23,372.36 554.6,372.53 554.96,372.71 555.33,372.79 555.7,372.73 556.07,372.86 556.43,372.97 556.8,372.96 557.17,373.03 557.54,373.32 557.9,373.36 558.27,373.53 558.64,373.77 559.01,373.95 559.37,373.94 559.74,374 560.11,373.98 560.48,373.9 560.84,373.88 561.21,373.95 561.58,374.01 561.95,374.17 562.31,374.21 562.68,374.21 563.05,374.27 563.42,374.32 563.78,374.36 564.15,374.45 564.52,374.46 564.89,374.46 565.25,374.4 565.62,374.28 565.99,374.31 566.35,374.34 566.72,374.36 567.09,374.34 567.46,374.42 567.82,374.38 568.19,374.35 568.56,374.23 568.93,374.31 569.29,374.39 569.66,374.46 570.03,374.48 570.4,374.61 570.76,374.68 571.13,374.5 571.5,374.48 571.87,374.55 572.23,374.59 572.6,374.65 572.97,374.87 573.34,374.9 573.7,374.89 574.07,374.9 574.44,374.78 574.81,374.73 575.17,374.76 575.54,374.85 575.91,374.81 576.28,374.84 576.64,374.85 577.01,374.88 577.38,374.77 577.75,374.86 578.11,374.81 578.48,374.79 578.85,374.71 579.21,374.75 579.58,374.73 579.95,374.7 580.32,374.66 580.68,374.69 581.05,374.61 581.42,374.47 581.79,374.6 582.15,374.68 582.52,374.68 582.89,374.69 583.26,374.82 583.62,374.75 583.99,374.78 584.36,374.7 584.73,374.67 585.09,374.62 585.46,374.59 585.83,374.56 586.2,374.62 586.56,374.61 586.93,374.59 587.3,374.61 587.67,374.61 588.03,374.55 588.4,374.57 588.77,374.62 589.14,374.75 589.5,374.8 589.87,374.83 590.24,374.85 590.61,374.86 590.97,374.72 591.34,374.55 591.71,374.54 592.07,374.54 592.44,374.4 592.81,374.3 593.18,374.26 593.54,374.28 593.91,374.19 594.28,374.21 594.65,374.3 595.01,374.39 595.38,374.32 595.75,374.36 596.12,374.3 596.48,374.25 596.85,374.14 597.22,374.19 597.59,374.14 597.95,374.12 598.32,374.09 598.69,374.11 599.06,374.05 599.42,373.94 599.79,373.89 600.16,373.85 600.53,373.96 600.89,373.93 601.26,373.96 601.63,374.01 602,374.09 602.36,373.89 602.73,373.76 603.1,373.77 603.47,373.69 603.83,373.54 604.2,373.44 604.57,373.48 604.93,373.4 605.3,373.3 605.67,373.18 606.04,372.97 606.4,372.75 606.77,372.48 607.14,372.29 607.51,372.08 607.87,371.93 608.24,371.53 608.61,371.25 608.98,370.83 609.34,370.36 609.71,369.87 610.08,369.4 610.45,368.62 610.81,368 611.18,367.2 611.55,366.37 611.92,365.49 612.28,364.56 612.65,363.35 613.02,362.34 613.39,361.49 613.75,360.94 614.12,360.92 614.49,361.27 614.86,362.03 615.22,362.93 615.59,364.01 615.96,365.06 616.33,366.16 616.69,367.06 617.06,367.95 617.43,368.63 617.79,369.19 618.16,369.75 618.53,370.33 618.9,370.88 619.26,371.34 619.63,371.78 620,372.02 620.37,372.23 620.73,372.33 621.1,372.43 621.47,372.53 621.84,372.71 622.2,372.74 622.57,372.84 622.94,372.88 623.31,372.96 623.67,373.15 624.04,373.24 624.41,373.29 624.78,373.42 625.14,373.52 625.51,373.37 625.88,373.39 626.25,373.48 626.61,373.48 626.98,373.45 627.35,373.6 627.72,373.57 628.08,373.51 628.45,373.45 628.82,373.5 629.19,373.27 629.55,373.23 629.92,373.13 630.29,373.13 630.65,373 631.02,373.07 631.39,372.91 631.76,372.83 632.12,372.61 632.49,372.35 632.86,372.07 633.23,371.82 633.59,371.34 633.96,370.95 634.33,370.45 634.7,369.85 635.06,369.29 635.43,368.7 635.8,367.99 636.17,367.17 636.53,366.21 636.9,365.29 637.27,364.52 637.64,363.92 638,363.87 638.37,364.19 638.74,364.73 639.11,365.64 639.47,366.62 639.84,367.56 640.21,368.49 640.58,369.44 640.94,370.12 641.31,370.81 641.68,371.35 642.05,371.82 642.41,372.21 642.78,372.47 643.15,372.68 643.51,372.9 643.88,373.11 644.25,373.21 644.62,373.54 644.98,373.71 645.35,373.79 645.72,373.81 646.09,373.97 646.45,373.97 646.82,374.01 647.19,374.16 647.56,374.29 647.92,374.4 648.29,374.42 648.66,374.51 649.03,374.61 649.39,374.83 649.76,374.79 650.13,374.84 650.5,374.84 650.86,374.86 651.23,374.7 651.6,374.75 651.97,374.81 652.33,374.83 652.7,374.76 653.07,374.82 653.44,374.75 653.8,374.7 654.17,374.75 654.54,374.83 654.91,374.87 655.27,374.9 655.64,374.97 656.01,375.05 656.37,375.09 656.74,375.11 657.11,375.17 657.48,375.25 657.84,375.19 658.21,375.11 658.58,375.08 658.95,375.22 659.31,375.21 659.68,375.31 660.05,375.36 660.42,375.47 660.78,375.37 661.15,375.36 661.52,375.44 661.89,375.51 662.25,375.44 662.62,375.48 662.99,375.52 663.36,375.46 663.72,375.4 664.09,375.34 664.46,375.34 664.83,375.33 665.19,375.28 665.56,375.38 665.93,375.5 666.3,375.56 666.66,375.51 667.03,375.56 667.4,375.61 667.77,375.64 668.13,375.61 668.5,375.69"/>
<polyline fill="none" stroke="#eb3a40" stroke-width="1.4" stroke-linejoin="round" points="347,467.02 347.37,467.01 347.73,466.98 348.1,466.93 348.47,466.89 348.84,466.87 349.2,466.93 349.57,466.86 349.94,466.85 350.31,466.94 350.67,466.88 351.04,466.84 351.41,466.83 351.78,466.9 352.14,466.98 352.51,467.14 352.88,467.11 353.25,467.2 353.61,467.14 353.98,467.02 354.35,466.99 354.72,466.92 355.08,466.93 355.45,466.91 355.82,466.98 356.19,466.9 356.55,466.92 356.92,466.87 357.29,466.91 357.66,466.83 358.02,466.84 358.39,466.83 358.76,466.7 359.13,466.7 359.49,466.72 359.86,466.69 360.23,466.72 360.59,466.88 360.96,466.79 361.33,466.71 361.7,466.68 362.06,466.73 362.43,466.59 362.8,466.66 363.17,466.66 363.53,466.59 363.9,466.59 364.27,466.64 364.64,466.49 365,466.5 365.37,466.59 365.74,466.57 366.11,466.54 366.47,466.62 366.84,466.66 367.21,466.56 367.58,466.5 367.94,466.5 368.31,466.44 368.68,466.35 369.05,466.37 369.41,466.34 369.78,466.29 370.15,466.28 370.52,466.34 370.88,466.33 371.25,466.35 371.62,466.43 371.99,466.46 372.35,466.5 372.72,466.42 373.09,466.39 373.45,466.29 373.82,466.33 374.19,466.27 374.56,466.18 374.92,466.06 375.29,466.08 375.66,466 376.03,465.92 376.39,465.99 376.76,466.03 377.13,466 377.5,465.92 377.86,465.9 378.23,465.74 378.6,465.72 378.97,465.59 379.33,465.6 379.7,465.5 380.07,465.53 380.44,465.47 380.8,465.43 381.17,465.29 381.54,465.17 381.91,465.17 382.27,465.12 382.64,465.18 383.01,465.16 383.38,465.25 383.74,465.2 384.11,465.11 384.48,465.02 384.85,465.02 385.21,464.88 385.58,464.8 385.95,464.73 386.31,464.63 386.68,464.45 387.05,464.45 387.42,464.36 387.78,464.31 388.15,464.18 388.52,464.16 388.89,464.03 389.25,463.94 389.62,463.92 389.99,463.88 390.36,463.85 390.72,463.77 391.09,463.64 391.46,463.39 391.83,463.26 392.19,463.03 392.56,462.84 392.93,462.71 393.3,462.48 393.66,462.28 394.03,461.98 394.4,461.81 394.77,461.59 395.13,461.43 395.5,461.2 395.87,461.09 396.24,460.72 396.6,460.38 396.97,460.04 397.34,459.6 397.71,459.15 398.07,458.88 398.44,458.44 398.81,458 399.17,457.43 399.54,456.8 399.91,455.9 400.28,455.04 400.64,453.97 401.01,452.89 401.38,451.41 401.75,449.71 402.11,447.62 402.48,445.24 402.85,442.37 403.22,439.28 403.58,435.86 403.95,432.55 404.32,429.25 404.69,426.86 405.05,425.74 405.42,426.09 405.79,427.74 406.16,430.65 406.52,433.92 406.89,437.32 407.26,440.71 407.63,443.72 407.99,446.21 408.36,448.4 408.73,450.2 409.1,451.68 409.46,452.88 409.83,454.01 410.2,455.06 410.57,455.93 410.93,456.56 411.3,457.14 411.67,457.62 412.03,458 412.4,458.23 412.77,458.65 413.14,458.99 413.5,459.38 413.87,459.77 414.24,460.17 414.61,460.27 414.97,460.53 415.34,460.72 415.71,460.72 416.08,460.73 416.44,460.9 416.81,460.87 417.18,460.97 417.55,460.95 417.91,461 418.28,461.04 418.65,461.16 419.02,461.11 419.38,461.27 419.75,461.33 420.12,461.4 420.49,461.28 420.85,461.24 421.22,461.15 421.59,461.12 421.96,461.01 422.32,461 422.69,460.87 423.06,460.85 423.43,460.74 423.79,460.55 424.16,460.56 424.53,460.54 424.89,460.22 425.26,460 425.63,459.93 426,459.6 426.36,459.19 426.73,458.93 427.1,458.52 427.47,457.97 427.83,457.45 428.2,456.98 428.57,456.42 428.94,455.82 429.3,455.09 429.67,454.37 430.04,453.45 430.41,452.53 430.77,451.57 431.14,450.5 431.51,449.24 431.88,447.86 432.24,446.25 432.61,444.37 432.98,442.3 433.35,440.02 433.71,437.38 434.08,434.58 434.45,431.39 434.82,427.82 435.18,423.86 435.55,419.7 435.92,415.27 436.29,410.87 436.65,406.97 437.02,403.75 437.39,401.73 437.75,401.38 438.12,402.68 438.49,405.43 438.86,409.32 439.22,413.79 439.59,418.21 439.96,422.6 440.33,426.76 440.69,430.45 441.06,433.8 441.43,436.98 441.8,439.88 442.16,442.3 442.53,444.48 442.9,446.45 443.27,448.17 443.63,449.58 444,450.85 444.37,452.11 444.74,453.18 445.1,454.17 445.47,455.13 445.84,456.16 446.21,456.87 446.57,457.61 446.94,458.24 447.31,458.83 447.68,459.29 448.04,459.8 448.41,460.21 448.78,460.54 449.15,460.85 449.51,461.17 449.88,461.52 450.25,461.82 450.61,462.16 450.98,462.48 451.35,462.72 451.72,462.91 452.08,463.16 452.45,463.29 452.82,463.41 453.19,463.64 453.55,463.72 453.92,463.87 454.29,464.13 454.66,464.31 455.02,464.31 455.39,464.54 455.76,464.68 456.13,464.77 456.49,464.8 456.86,464.93 457.23,464.98 457.6,465.04 457.96,465.15 458.33,465.36 458.7,465.5 459.07,465.59 459.43,465.74 459.8,465.86 460.17,465.95 460.54,466.03 460.9,466.11 461.27,466.11 461.64,466.15 462.01,466.06 462.37,466.05 462.74,466.08 463.11,466.11 463.47,466.02 463.84,466.09 464.21,466.11 464.58,466.23 464.94,466.34 465.31,466.47 465.68,466.54 466.05,466.53 466.41,466.53 466.78,466.5 467.15,466.57 467.52,466.7 467.88,466.77 468.25,466.7 468.62,466.69 468.99,466.6 469.35,466.47 469.72,466.56 470.09,466.68 470.46,466.67 470.82,466.8 471.19,466.95 471.56,466.88 471.93,466.85 472.29,466.94 472.66,466.93 473.03,466.92 473.4,467.02 473.76,467.13 474.13,467.23 474.5,467.3 474.87,467.32 475.23,467.19 475.6,467.13 475.97,467.1 476.33,467.01 476.7,467.04 477.07,467.11 477.44,467.08 477.8,467.15 478.17,467.22 478.54,467.19 478.91,467.27 479.27,467.39 479.64,467.34 480.01,467.18 480.38,467.14 480.74,467.07 481.11,466.97 481.48,466.97 481.85,467.17 482.21,467.19 482.58,467.16 482.95,467.33 483.32,467.3 483.68,467.17 484.05,467.22 484.42,467.3 484.79,467.16 485.15,467.23 485.52,467.28 485.89,467.22 486.26,467.21 486.62,467.29 486.99,467.22 487.36,467.26 487.73,467.31 488.09,467.45 488.46,467.37 488.83,467.48 489.19,467.46 489.56,467.46 489.93,467.35 490.3,467.44 490.66,467.43 491.03,467.45 491.4,467.42 491.77,467.36 492.13,467.33 492.5,467.3 492.87,467.35 493.24,467.4 493.6,467.49 493.97,467.54 494.34,467.51 494.71,467.36 495.07,467.27 495.44,467.13 495.81,467.13 496.18,467.07 496.54,467.21 496.91,467.3 497.28,467.47 497.65,467.43 498.01,467.46 498.38,467.38 498.75,467.35 499.12,467.26 499.48,467.17 499.85,467.17 500.22,467.26 500.59,467.15 500.95,467.15 501.32,467.12 501.69,467.12 502.05,467.07 502.42,467.15 502.79,467.17 503.16,467.12 503.52,467.16 503.89,467.07 504.26,467.1 504.63,467.05 504.99,466.99 505.36,466.88 505.73,466.91 506.1,466.94 506.46,466.93 506.83,467.07 507.2,467.02 507.57,467.07 507.93,467.07 508.3,467.04 508.67,467 509.04,466.97 509.4,466.92 509.77,466.95 510.14,466.97 510.51,467.03 510.87,467.13 511.24,467.01 511.61,466.92 511.98,466.79 512.34,466.69 512.71,466.65 513.08,466.73 513.45,466.66 513.81,466.72 514.18,466.66 514.55,466.55 514.91,466.48 515.28,466.4 515.65,466.28 516.02,466.22 516.38,466.23 516.75,466.1 517.12,466.04 517.49,465.99 517.85,466.03 518.22,466.04 518.59,466.22 518.96,466.17 519.32,466.19 519.69,466.19 520.06,466.12 520.43,465.95 520.79,466.08 521.16,466.06 521.53,465.9 521.9,465.8 522.26,465.78 522.63,465.66 523,465.56 523.37,465.51 523.73,465.56 524.1,465.52 524.47,465.41 524.84,465.46 525.2,465.48 525.57,465.29 525.94,465.18 526.31,465.16 526.67,465.03 527.04,464.81 527.41,464.81 527.77,464.79 528.14,464.77 528.51,464.59 528.88,464.75 529.24,464.61 529.61,464.52 529.98,464.39 530.35,464.45 530.71,464.2 531.08,464.07 531.45,463.92 531.82,463.67 532.18,463.33 532.55,463.32 532.92,463.24 533.29,463.12 533.65,462.92 534.02,462.92 534.39,462.62 534.76,462.42 535.12,462.05 535.49,461.74 535.86,461.33 536.23,460.77 536.59,460.21 536.96,459.8 537.33,459.34 537.7,458.83 538.06,458.37 538.43,457.93 538.8,457.3 539.17,456.57 539.53,455.78 539.9,454.78 540.27,453.6 540.63,452.41 541,451.06 541.37,449.6 541.74,448.09 542.1,446.56 542.47,445.03 542.84,443.51 543.21,442.1 543.57,440.88 543.94,439.87 544.31,439.14 544.68,439.11 545.04,439.53 545.41,440.31 545.78,441.39 546.15,442.82 546.51,444.21 546.88,445.7 547.25,447.26 547.62,448.85 547.98,450.3 548.35,451.65 548.72,452.83 549.09,453.86 549.45,454.86 549.82,455.68 550.19,456.55 550.56,457.28 550.92,458.06 551.29,458.72 551.66,459.28 552.03,459.75 552.39,460.2 552.76,460.65 553.13,461.1 553.49,461.57 553.86,461.91 554.23,462.33 554.6,462.48 554.96,462.72 555.33,462.87 555.7,462.95 556.07,463.21 556.43,463.56 556.8,463.6 557.17,463.81 557.54,464.1 557.9,464.11 558.27,464.08 558.64,464.23 559.01,464.37 559.37,464.51 559.74,464.68 560.11,464.87 560.48,465.13 560.84,465.17 561.21,465.26 561.58,465.18 561.95,465.2 562.31,465.22 562.68,465.29 563.05,465.38 563.42,465.55 563.78,465.64 564.15,465.61 564.52,465.7 564.89,465.71 565.25,465.82 565.62,465.97 565.99,466.02 566.35,466.05 566.72,466.15 567.09,466.15 567.46,466.23 567.82,466.45 568.19,466.59 568.56,466.62 568.93,466.67 569.29,466.61 569.66,466.46 570.03,466.41 570.4,466.43 570.76,466.45 571.13,466.58 571.5,466.65 571.87,466.73 572.23,466.72 572.6,466.87 572.97,466.89 573.34,467.04 573.7,467.13 574.07,467.3 574.44,467.23 574.81,467.27 575.17,467.35 575.54,467.27 575.91,467.28 576.28,467.42 576.64,467.43 577.01,467.35 577.38,467.51 577.75,467.43 578.11,467.39 578.48,467.34 578.85,467.29 579.21,467.21 579.58,467.26 579.95,467.26 580.32,467.36 580.68,467.33 581.05,467.5 581.42,467.59 581.79,467.64 582.15,467.61 582.52,467.7 582.89,467.64 583.26,467.61 583.62,467.49 583.99,467.57 584.36,467.75 584.73,467.63 585.09,467.67 585.46,467.8 585.83,467.76 586.2,467.69 586.56,467.73 586.93,467.7 587.3,467.76 587.67,467.77 588.03,467.68 588.4,467.75 588.77,467.73 589.14,467.74 589.5,467.7 589.87,467.78 590.24,467.71 590.61,467.77 590.97,467.68 591.34,467.59 591.71,467.54 592.07,467.55 592.44,467.49 592.81,467.58 593.18,467.65 593.54,467.59 593.91,467.72 594.28,467.75 594.65,467.74 595.01,467.81 595.38,467.81 595.75,467.72 596.12,467.77 596.48,467.72 596.85,467.69 597.22,467.73 597.59,467.71 597.95,467.59 598.32,467.62 598.69,467.6 599.06,467.51 599.42,467.46 599.79,467.51 600.16,467.4 600.53,467.36 600.89,467.35 601.26,467.34 601.63,467.17 602,467.02 602.36,467.02 602.73,466.98 603.1,466.94 603.47,467.04 603.83,467.08 604.2,466.96 604.57,467.03 604.93,466.96 605.3,466.78 605.67,466.68 606.04,466.58 606.4,466.29 606.77,466.11 607.14,465.96 607.51,465.63 607.87,465.39 608.24,465.19 608.61,464.89 608.98,464.5 609.34,464.23 609.71,463.81 610.08,463.34 610.45,462.73 610.81,462.19 611.18,461.37 611.55,460.5 611.92,459.64 612.28,458.71 612.65,457.77 613.02,457.2 613.39,456.82 613.75,456.74 614.12,457.2 614.49,458 614.86,458.71 615.22,459.65 615.59,460.54 615.96,461.33 616.33,462 616.69,462.74 617.06,463.38 617.43,463.88 617.79,464.37 618.16,464.8 618.53,465.12 618.9,465.38 619.26,465.76 619.63,465.98 620,466.1 620.37,466.3 620.73,466.39 621.1,466.44 621.47,466.59 621.84,466.68 622.2,466.77 622.57,466.97 622.94,467 623.31,467.03 623.67,467.09 624.04,467.11 624.41,467.07 624.78,467.26 625.14,467.26 625.51,467.32 625.88,467.37 626.25,467.41 626.61,467.34 626.98,467.39 627.35,467.53 627.72,467.57 628.08,467.65 628.45,467.62 628.82,467.63 629.19,467.41 629.55,467.36 629.92,467.24 630.29,467.16 630.65,466.95 631.02,467 631.39,466.9 631.76,466.78 632.12,466.66 632.49,466.63 632.86,466.45 633.23,466.23 633.59,466 633.96,465.8 634.33,465.56 634.7,465.23 635.06,464.94 635.43,464.59 635.8,464.18 636.17,463.83 636.53,463.37 636.9,463.07 637.27,462.77 637.64,462.41 638,462.13 638.37,461.96 638.74,461.76 639.11,461.76 639.47,461.98 639.84,462.25 640.21,462.69 640.58,463.23 640.94,463.63 641.31,464.14 641.68,464.51 642.05,464.91 642.41,465.26 642.78,465.66 643.15,465.87 643.51,466.18 643.88,466.47 644.25,466.75 644.62,467.05 644.98,467.25 645.35,467.43 645.72,467.53 646.09,467.66 646.45,467.64 646.82,467.87 647.19,467.99 647.56,468.09 647.92,468.17 648.29,468.41 648.66,468.43 649.03,468.58 649.39,468.69 649.76,468.79 650.13,468.86 650.5,468.88 650.86,468.95 651.23,468.99 651.6,468.97 651.97,468.89 652.33,468.92 652.7,468.91 653.07,468.87 653.44,468.93 653.8,469.02 654.17,469.08 654.54,468.94 654.91,469.03 655.27,469.06 655.64,469.02 656.01,469.03 656.37,469.04 656.74,469.1 657.11,469.05 657.48,469.16 657.84,469.07 658.21,469.25 658.58,469.22 658.95,469.31 659.31,469.23 659.68,469.31 660.05,469.41 660.42,469.39 660.78,469.32 661.15,469.37 661.52,469.36 661.89,469.32 662.25,469.47 662.62,469.48 662.99,469.41 663.36,469.54 663.72,469.55 664.09,469.51 664.46,469.62 664.83,469.67 665.19,469.61 665.56,469.49 665.93,469.38 666.3,469.38 666.66,469.4 667.03,469.54 667.4,469.62 667.77,469.67 668.13,469.67 668.5,469.81"/>
</g>
<rect x="347.0" y="256.7" width="321.5" height="236.5" fill="none" stroke="#363636" stroke-width="1.2"/>
<path d="M347 493.2v-5M347 256.7v5M369.96 493.2v-3M369.96 256.7v3M392.93 493.2v-5M392.93 256.7v5M415.89 493.2v-3M415.89 256.7v3M438.86 493.2v-5M438.86 256.7v5M461.82 493.2v-3M461.82 256.7v3M484.79 493.2v-5M484.79 256.7v5M507.75 493.2v-3M507.75 256.7v3M530.71 493.2v-5M530.71 256.7v5M553.68 493.2v-3M553.68 256.7v3M576.64 493.2v-5M576.64 256.7v5M599.61 493.2v-3M599.61 256.7v3M622.57 493.2v-5M622.57 256.7v5M645.54 493.2v-3M645.54 256.7v3M668.5 493.2v-5M668.5 256.7v5" stroke="#363636" stroke-width="1.2" fill="none"/>
<text transform="translate(347,510.8) scale(0.970,1)" font-size="17.00" text-anchor="middle">30</text>
<text transform="translate(392.93,510.8) scale(0.970,1)" font-size="17.00" text-anchor="middle">40</text>
<text transform="translate(438.86,510.8) scale(0.970,1)" font-size="17.00" text-anchor="middle">50</text>
<text transform="translate(484.79,510.8) scale(0.970,1)" font-size="17.00" text-anchor="middle">60</text>
<text transform="translate(530.71,510.8) scale(0.970,1)" font-size="17.00" text-anchor="middle">70</text>
<text transform="translate(576.64,510.8) scale(0.970,1)" font-size="17.00" text-anchor="middle">80</text>
<text transform="translate(622.57,510.8) scale(0.970,1)" font-size="17.00" text-anchor="middle">90</text>
<text transform="translate(668.5,510.8) scale(0.970,1)" font-size="17.00" text-anchor="middle">100</text>
<text transform="translate(487.5,532.8)" font-size="16.00">2&#952; (&#176;)</text>
<text transform="translate(464,365.8)" font-size="16.50">TTEG2</text>
<text transform="translate(467.8,456)" font-size="16.50">TTEG1</text>
<text transform="translate(558.8,307.6)" font-size="16.50">h = 46</text>
<text transform="translate(558.8,327.8)" font-size="16.50">d<tspan font-size="10" dy="5.4" letter-spacing="0.25">XRPD</tspan><tspan dy="-5.4"> = 13 nm</tspan></text>
<text transform="translate(558,418.6)" font-size="16.50">h = 7</text>
<text transform="translate(558,438.6)" font-size="16.50">d<tspan font-size="10" dy="5.4" letter-spacing="0.25">XRPD</tspan><tspan dy="-5.4"> = 7 nm</tspan></text>
<text transform="translate(322.5,280)" font-size="24.00">d)</text>
<clipPath id="c1"><rect x="346" y="53" width="162" height="162"/></clipPath><clipPath id="c2"><rect x="508" y="53" width="163" height="162"/></clipPath><filter id="rough" x="-10%" y="-10%" width="120%" height="120%"><feTurbulence type="fractalNoise" baseFrequency="0.45" numOctaves="2" seed="3"/><feDisplacementMap in="SourceGraphic" scale="3.5" xChannelSelector="R" yChannelSelector="G"/></filter><filter id="rough2" x="-20%" y="-20%" width="140%" height="140%"><feTurbulence type="fractalNoise" baseFrequency="0.3" numOctaves="2" seed="5"/><feDisplacementMap in="SourceGraphic" scale="5" xChannelSelector="R" yChannelSelector="G"/></filter><filter id="grain" x="0" y="0" width="100%" height="100%"><feTurbulence type="fractalNoise" baseFrequency="0.9" numOctaves="1" seed="9"/><feColorMatrix values="0 0 0 0 0.5  0 0 0 0 0.5  0 0 0 0 0.5  0.33 0.33 0.33 0 -0.35"/></filter><rect x="346" y="53" width="162" height="162" fill="#b0b0b0"/><rect x="508" y="53" width="163" height="162" fill="#b7b7b7"/><g clip-path="url(#c1)"><g filter="url(#rough)"><circle cx="480.29" cy="74.79" r="1.25" fill="#828282"/><circle cx="483.41" cy="76.18" r="1.59" fill="#878787"/><circle cx="484.05" cy="75.95" r="1.48" fill="#727272"/><circle cx="485.1" cy="74.29" r="1.14" fill="#646464"/><circle cx="482.5" cy="72.62" r="1.8" fill="#7c7c7c"/><circle cx="474.2" cy="192.11" r="1.34" fill="#878787"/><circle cx="475.63" cy="194.16" r="1.19" fill="#969696"/><circle cx="476.52" cy="191.97" r="0.92" fill="#7b7b7b"/><circle cx="476.35" cy="190.01" r="1.42" fill="#8c8c8c"/><circle cx="478.99" cy="191.07" r="1.64" fill="#565656"/><circle cx="473.88" cy="133.05" r="1.43" fill="#858585"/><circle cx="476.55" cy="131.06" r="0.94" fill="#8d8d8d"/><circle cx="472.81" cy="130.15" r="1.01" fill="#7c7c7c"/><circle cx="479.55" cy="119.99" r="1.26" fill="#969696"/><circle cx="478.39" cy="123.92" r="1.17" fill="#909090"/><circle cx="481.58" cy="120.8" r="0.91" fill="#898989"/><circle cx="480.04" cy="122.19" r="1.72" fill="#616161"/><circle cx="418.08" cy="145.26" r="1.72" fill="#888888"/><circle cx="417.03" cy="147.09" r="1.32" fill="#989898"/><circle cx="414.13" cy="143" r="1.82" fill="#868686"/><circle cx="415.16" cy="147.37" r="0.99" fill="#828282"/><circle cx="415.7" cy="146.23" r="1.17" fill="#606060"/><circle cx="414.55" cy="144.98" r="0.99" fill="#5f5f5f"/><circle cx="481.64" cy="171.12" r="1.72" fill="#989898"/><circle cx="483.69" cy="174.16" r="1.72" fill="#868686"/><circle cx="482.31" cy="172.65" r="1.65" fill="#838383"/><circle cx="482.59" cy="173.33" r="1.39" fill="#6a6a6a"/><circle cx="494.46" cy="200.14" r="1.05" fill="#8b8b8b"/><circle cx="489.24" cy="196.85" r="1.03" fill="#8f8f8f"/><circle cx="489.83" cy="197.54" r="1.21" fill="#6b6b6b"/><circle cx="490.58" cy="197.25" r="1.8" fill="#5d5d5d"/><circle cx="480.97" cy="201.8" r="1.08" fill="#919191"/><circle cx="475.84" cy="206.26" r="1.06" fill="#989898"/><circle cx="475.66" cy="202.68" r="1.88" fill="#6b6b6b"/><circle cx="477.4" cy="204.78" r="1.37" fill="#747474"/><circle cx="476.37" cy="202.62" r="1.18" fill="#6c6c6c"/><circle cx="477.73" cy="203.09" r="1.8" fill="#5d5d5d"/><circle cx="480.47" cy="53.94" r="1.67" fill="#959595"/><circle cx="484.58" cy="52.09" r="1.63" fill="#858585"/><circle cx="481.1" cy="52.04" r="1.13" fill="#858585"/><circle cx="482.66" cy="51.35" r="0.99" fill="#898989"/><circle cx="482.4" cy="54.48" r="1.75" fill="#808080"/><circle cx="481.73" cy="52.43" r="1.59" fill="#6d6d6d"/><circle cx="482.39" cy="53.63" r="1.2" fill="#626262"/><circle cx="502.25" cy="152.62" r="0.98" fill="#8d8d8d"/><circle cx="498.42" cy="147.32" r="1.16" fill="#989898"/><circle cx="498.6" cy="151.31" r="1.06" fill="#6e6e6e"/><circle cx="511.36" cy="100.43" r="0.9" fill="#8e8e8e"/><circle cx="509.01" cy="104.32" r="1.57" fill="#7a7a7a"/><circle cx="509.83" cy="100.74" r="1.08" fill="#808080"/><circle cx="509.31" cy="103.63" r="1.46" fill="#898989"/><circle cx="511.45" cy="102.08" r="0.92" fill="#828282"/><circle cx="510.01" cy="103.03" r="0.94" fill="#686868"/><circle cx="359.8" cy="78.26" r="1.02" fill="#989898"/><circle cx="358.32" cy="77.63" r="1.51" fill="#8d8d8d"/><circle cx="358.95" cy="80.41" r="1.64" fill="#6a6a6a"/><circle cx="358.2" cy="79.07" r="1.01" fill="#6f6f6f"/><circle cx="446.16" cy="209.76" r="1.72" fill="#818181"/><circle cx="440.44" cy="213.13" r="1.38" fill="#7e7e7e"/><circle cx="442.26" cy="211.76" r="1.59" fill="#989898"/><circle cx="439.64" cy="202.17" r="1.68" fill="#7a7a7a"/><circle cx="436.47" cy="207.05" r="1.88" fill="#8f8f8f"/><circle cx="442.29" cy="208.49" r="1.52" fill="#737373"/><circle cx="440.52" cy="205.63" r="1.59" fill="#5c5c5c"/><circle cx="440.88" cy="206.92" r="0.97" fill="#4a4a4a"/><circle cx="402.31" cy="132.11" r="1.76" fill="#8c8c8c"/><circle cx="401.37" cy="133.33" r="1.6" fill="#828282"/><circle cx="400.4" cy="134.06" r="0.99" fill="#888888"/><circle cx="397.43" cy="134.44" r="1.62" fill="#626262"/><circle cx="399.42" cy="132.91" r="1.16" fill="#747474"/><circle cx="397.86" cy="133.42" r="1.38" fill="#686868"/><circle cx="398.25" cy="133.19" r="1.27" fill="#585858"/><circle cx="504.25" cy="200.58" r="1.39" fill="#8c8c8c"/><circle cx="510.85" cy="204.74" r="0.99" fill="#898989"/><circle cx="506.37" cy="201.81" r="1.66" fill="#8f8f8f"/><circle cx="508.33" cy="202.48" r="1.25" fill="#888888"/><circle cx="510.72" cy="199.56" r="1.04" fill="#8a8a8a"/><circle cx="393.59" cy="210.18" r="1" fill="#828282"/><circle cx="394.33" cy="206.26" r="1.8" fill="#797979"/><circle cx="394.8" cy="208.52" r="1.47" fill="#888888"/><circle cx="394.35" cy="208.81" r="1.6" fill="#7f7f7f"/><circle cx="394.5" cy="207.57" r="0.92" fill="#898989"/><circle cx="391.98" cy="207.31" r="1.41" fill="#636363"/><circle cx="393.65" cy="208.61" r="1.18" fill="#808080"/><circle cx="371.77" cy="181.42" r="1.44" fill="#7b7b7b"/><circle cx="371" cy="175.73" r="1.25" fill="#939393"/><circle cx="369.21" cy="177.95" r="1.89" fill="#828282"/><circle cx="370.62" cy="178.39" r="1.29" fill="#676767"/><circle cx="501.11" cy="49.13" r="1.63" fill="#828282"/><circle cx="500.35" cy="52.29" r="1.77" fill="#949494"/><circle cx="502.45" cy="49.77" r="1.12" fill="#767676"/><circle cx="497.1" cy="161.61" r="1.76" fill="#8a8a8a"/><circle cx="497.37" cy="159.21" r="1.01" fill="#838383"/><circle cx="503.67" cy="160.59" r="1.89" fill="#828282"/><circle cx="500.27" cy="158.71" r="0.97" fill="#727272"/><circle cx="501.86" cy="159.29" r="1.75" fill="#5b5b5b"/><circle cx="474.16" cy="155.11" r="1.68" fill="#828282"/><circle cx="471.49" cy="151.61" r="1" fill="#989898"/><circle cx="472.05" cy="151.98" r="1.65" fill="#878787"/><circle cx="472.03" cy="152.3" r="1.86" fill="#727272"/><circle cx="499.54" cy="102.69" r="1.4" fill="#929292"/><circle cx="500.93" cy="98.03" r="1" fill="#848484"/><circle cx="500.62" cy="98.45" r="1.54" fill="#6d6d6d"/><circle cx="429.03" cy="158.75" r="1.82" fill="#626262"/><circle cx="428.45" cy="158.64" r="1.37" fill="#585858"/><circle cx="428.25" cy="158.68" r="1.04" fill="#595959"/><circle cx="506.06" cy="211.99" r="1.6" fill="#676767"/><circle cx="509.92" cy="209.37" r="1.83" fill="#7f7f7f"/><circle cx="507.05" cy="211.14" r="1.52" fill="#666666"/><circle cx="507.16" cy="211.06" r="0.91" fill="#787878"/><circle cx="507.39" cy="208.45" r="1.17" fill="#7e7e7e"/><circle cx="507.32" cy="210.03" r="1.05" fill="#666666"/><circle cx="508.32" cy="209.8" r="1.08" fill="#555555"/><circle cx="365.1" cy="99.84" r="1.2" fill="#919191"/><circle cx="368.77" cy="97.34" r="1.68" fill="#8a8a8a"/><circle cx="369.15" cy="94.65" r="1.8" fill="#7d7d7d"/><circle cx="364.06" cy="97.54" r="1.28" fill="#7e7e7e"/><circle cx="367.77" cy="94.71" r="1.03" fill="#7c7c7c"/><circle cx="366.35" cy="93.87" r="1.65" fill="#717171"/><circle cx="365.55" cy="96.11" r="1.76" fill="#626262"/><circle cx="463.28" cy="199.47" r="1.1" fill="#949494"/><circle cx="464.64" cy="195" r="1.47" fill="#898989"/><circle cx="456.43" cy="191.72" r="1.17" fill="#838383"/><circle cx="456.82" cy="189.89" r="1.27" fill="#7a7a7a"/><circle cx="462.74" cy="193" r="1.75" fill="#6f6f6f"/><circle cx="458.19" cy="188.68" r="1.77" fill="#838383"/><circle cx="458.77" cy="193.71" r="1.34" fill="#6b6b6b"/><circle cx="458.81" cy="189.49" r="1.16" fill="#747474"/><circle cx="460.55" cy="193.15" r="1.14" fill="#717171"/><circle cx="459.07" cy="190.89" r="1.31" fill="#4d4d4d"/><circle cx="460.16" cy="190.67" r="1" fill="#505050"/><circle cx="474.78" cy="185.71" r="1.79" fill="#797979"/><circle cx="477.59" cy="183.86" r="1.78" fill="#696969"/><circle cx="478.15" cy="185.47" r="1.43" fill="#6d6d6d"/><circle cx="476.49" cy="186.15" r="1.75" fill="#7c7c7c"/><circle cx="387.05" cy="57.38" r="1.3" fill="#989898"/><circle cx="385.97" cy="54.7" r="1.82" fill="#8e8e8e"/><circle cx="386.93" cy="54.71" r="1.62" fill="#737373"/><circle cx="388.24" cy="54.14" r="1.78" fill="#737373"/><circle cx="424.15" cy="84.01" r="1.16" fill="#949494"/><circle cx="425.27" cy="84.59" r="1.85" fill="#8c8c8c"/><circle cx="425.6" cy="86.07" r="1.51" fill="#818181"/><circle cx="425.69" cy="87.67" r="1.18" fill="#707070"/><circle cx="442.49" cy="186.17" r="1.84" fill="#939393"/><circle cx="443.65" cy="188.03" r="1.89" fill="#7b7b7b"/><circle cx="444.09" cy="186.43" r="1.12" fill="#818181"/><circle cx="444.04" cy="187.11" r="1.61" fill="#747474"/><circle cx="445.12" cy="186.44" r="0.96" fill="#6a6a6a"/><circle cx="444.98" cy="187.15" r="0.92" fill="#565656"/><circle cx="445" cy="187.27" r="1.53" fill="#595959"/><circle cx="480.45" cy="80.05" r="1.53" fill="#7c7c7c"/><circle cx="477.89" cy="89" r="1.78" fill="#7e7e7e"/><circle cx="488.32" cy="86.9" r="1.72" fill="#878787"/><circle cx="481.8" cy="81.2" r="1.76" fill="#868686"/><circle cx="484.14" cy="89.84" r="1.9" fill="#8c8c8c"/><circle cx="486" cy="84.24" r="1.51" fill="#8f8f8f"/><circle cx="483.37" cy="88.79" r="1.78" fill="#7d7d7d"/><circle cx="480.15" cy="85.17" r="1.86" fill="#848484"/><circle cx="484.39" cy="84.18" r="1.71" fill="#767676"/><circle cx="482.2" cy="84.14" r="1.8" fill="#626262"/><circle cx="484.44" cy="84.67" r="1.12" fill="#6e6e6e"/><circle cx="482.21" cy="84.62" r="1.76" fill="#5d5d5d"/><circle cx="484.16" cy="85.19" r="1.36" fill="#6e6e6e"/><circle cx="499.56" cy="158.74" r="1.79" fill="#989898"/><circle cx="499.77" cy="158.57" r="1.13" fill="#8e8e8e"/><circle cx="502.61" cy="154.64" r="1.31" fill="#747474"/><circle cx="502.1" cy="156.83" r="1.08" fill="#8c8c8c"/><circle cx="500.93" cy="157.18" r="1.05" fill="#737373"/><circle cx="500.38" cy="153.66" r="1.12" fill="#6c6c6c"/><circle cx="501.63" cy="155.02" r="1.85" fill="#4f4f4f"/><circle cx="513.53" cy="103.09" r="1.42" fill="#929292"/><circle cx="513.4" cy="105.5" r="1.12" fill="#929292"/><circle cx="509.96" cy="102.99" r="1.61" fill="#7f7f7f"/><circle cx="511.27" cy="103.38" r="0.93" fill="#848484"/><circle cx="510.32" cy="104.23" r="0.93" fill="#737373"/><circle cx="509.4" cy="104.99" r="1.35" fill="#797979"/><circle cx="364.14" cy="148.62" r="1.03" fill="#8e8e8e"/><circle cx="361.28" cy="150.13" r="1.87" fill="#939393"/><circle cx="362.88" cy="148.79" r="1.72" fill="#717171"/><circle cx="362.31" cy="150.71" r="0.92" fill="#5f5f5f"/><circle cx="363.12" cy="149.68" r="1.43" fill="#646464"/><circle cx="361.57" cy="69.53" r="1.57" fill="#949494"/><circle cx="360.49" cy="67.37" r="1.8" fill="#959595"/><circle cx="358.54" cy="72.48" r="1.09" fill="#929292"/><circle cx="356.33" cy="73.34" r="1.56" fill="#7b7b7b"/><circle cx="358.83" cy="70.39" r="1.35" fill="#919191"/><circle cx="358.01" cy="66.07" r="0.98" fill="#808080"/><circle cx="356.8" cy="65.7" r="1.59" fill="#7f7f7f"/><circle cx="356.95" cy="66.53" r="0.98" fill="#848484"/><circle cx="355.85" cy="71.38" r="1.56" fill="#7a7a7a"/><circle cx="355.47" cy="69.12" r="1.33" fill="#646464"/><circle cx="402.6" cy="133.42" r="1.59" fill="#898989"/><circle cx="403.48" cy="125.95" r="1" fill="#808080"/><circle cx="403.3" cy="127.49" r="1.06" fill="#878787"/><circle cx="404.2" cy="126.67" r="1.18" fill="#6f6f6f"/><circle cx="407.61" cy="128.13" r="1.2" fill="#747474"/><circle cx="406.42" cy="128.94" r="1.83" fill="#6b6b6b"/><circle cx="447.79" cy="106.65" r="1.63" fill="#979797"/><circle cx="449.7" cy="101.51" r="1.77" fill="#7d7d7d"/><circle cx="449.47" cy="101.85" r="1.39" fill="#7d7d7d"/><circle cx="448.98" cy="104.53" r="1.84" fill="#707070"/><circle cx="449.19" cy="102.64" r="1.74" fill="#6e6e6e"/><circle cx="485.49" cy="125.77" r="1.45" fill="#898989"/><circle cx="483.79" cy="127.73" r="1" fill="#818181"/><circle cx="484.9" cy="128.35" r="1.78" fill="#8c8c8c"/><circle cx="486.48" cy="127.26" r="1.86" fill="#989898"/><circle cx="491.85" cy="130.28" r="1.82" fill="#858585"/><circle cx="491.32" cy="132.24" r="0.9" fill="#949494"/><circle cx="487.14" cy="128.3" r="1.31" fill="#8d8d8d"/><circle cx="485.62" cy="129.48" r="1.54" fill="#8d8d8d"/><circle cx="488.27" cy="129.47" r="1.7" fill="#636363"/><circle cx="489.35" cy="131.65" r="1.17" fill="#7d7d7d"/><circle cx="486.79" cy="130.55" r="1.3" fill="#676767"/><circle cx="369.24" cy="135.5" r="1.88" fill="#909090"/><circle cx="366" cy="138.33" r="1.58" fill="#969696"/><circle cx="367.31" cy="139.07" r="1.46" fill="#777777"/><circle cx="472.78" cy="96.01" r="1.52" fill="#828282"/><circle cx="475.61" cy="100.75" r="1.22" fill="#878787"/><circle cx="473.31" cy="100.54" r="1.51" fill="#767676"/><circle cx="474.23" cy="100.81" r="1.46" fill="#949494"/><circle cx="472.97" cy="99.27" r="1.46" fill="#818181"/><circle cx="473.68" cy="98.49" r="1.32" fill="#6a6a6a"/><circle cx="474.11" cy="98.52" r="1.17" fill="#636363"/><circle cx="350.86" cy="193.46" r="1.41" fill="#969696"/><circle cx="352.36" cy="196.55" r="1.45" fill="#818181"/><circle cx="353.83" cy="194.46" r="1.69" fill="#777777"/><circle cx="508.95" cy="166.26" r="1.3" fill="#828282"/><circle cx="510.87" cy="162.74" r="1.73" fill="#747474"/><circle cx="511.73" cy="163.57" r="1.57" fill="#828282"/><circle cx="509.79" cy="163.72" r="0.95" fill="#6b6b6b"/><circle cx="490.59" cy="165.52" r="1.26" fill="#868686"/><circle cx="497.61" cy="164.02" r="1.83" fill="#939393"/><circle cx="495.71" cy="161.95" r="1.27" fill="#7d7d7d"/><circle cx="494.18" cy="163.86" r="1.06" fill="#5a5a5a"/><circle cx="348.14" cy="48.68" r="1.9" fill="#838383"/><circle cx="348.69" cy="52.33" r="1.42" fill="#949494"/><circle cx="346.54" cy="54.09" r="1.27" fill="#808080"/><circle cx="343.19" cy="55.07" r="1.64" fill="#898989"/><circle cx="343" cy="53.83" r="1.88" fill="#848484"/><circle cx="343.07" cy="53.73" r="1.64" fill="#6c6c6c"/><circle cx="493.42" cy="49.51" r="1.79" fill="#868686"/><circle cx="492.13" cy="52.57" r="1.82" fill="#7b7b7b"/><circle cx="492.04" cy="50.57" r="1.55" fill="#6d6d6d"/><circle cx="494.21" cy="51.33" r="1.23" fill="#7d7d7d"/><circle cx="464.13" cy="166.22" r="1.5" fill="#939393"/><circle cx="466.17" cy="168.75" r="1.82" fill="#878787"/><circle cx="463.3" cy="167.77" r="1.5" fill="#858585"/><circle cx="465.7" cy="167.47" r="1.71" fill="#717171"/><circle cx="465.96" cy="167.97" r="1.3" fill="#818181"/><circle cx="465.08" cy="168.37" r="1.34" fill="#525252"/><circle cx="370.42" cy="102.42" r="1.18" fill="#808080"/><circle cx="373.21" cy="101.69" r="0.99" fill="#8d8d8d"/><circle cx="371.79" cy="102.31" r="1.37" fill="#7a7a7a"/><circle cx="372.67" cy="101.85" r="1.29" fill="#626262"/><circle cx="407.68" cy="177.94" r="1.3" fill="#959595"/><circle cx="406.93" cy="180.22" r="1.51" fill="#848484"/><circle cx="409.11" cy="179.57" r="1.75" fill="#686868"/><circle cx="410.8" cy="182.01" r="1.24" fill="#696969"/><circle cx="410.21" cy="182.27" r="1.89" fill="#6a6a6a"/><circle cx="408.64" cy="180.9" r="1.17" fill="#6e6e6e"/><circle cx="410.19" cy="181.04" r="1.67" fill="#626262"/><circle cx="381.86" cy="131.8" r="1.13" fill="#929292"/><circle cx="388.16" cy="128.8" r="1.53" fill="#878787"/><circle cx="383.49" cy="128.24" r="1.06" fill="#8c8c8c"/><circle cx="383.51" cy="130.08" r="1.8" fill="#828282"/><circle cx="384.81" cy="129.86" r="1.88" fill="#656565"/><circle cx="385.25" cy="131.33" r="0.92" fill="#676767"/><circle cx="385.55" cy="130.49" r="1.73" fill="#515151"/><circle cx="459.26" cy="171.85" r="1" fill="#8c8c8c"/><circle cx="457.99" cy="169.4" r="0.9" fill="#797979"/><circle cx="459.59" cy="168.86" r="1.18" fill="#535353"/><circle cx="403" cy="155.26" r="1.81" fill="#8f8f8f"/><circle cx="403.4" cy="150.49" r="0.95" fill="#848484"/><circle cx="399.53" cy="152.11" r="1.34" fill="#8d8d8d"/><circle cx="402.34" cy="151.32" r="0.92" fill="#6c6c6c"/><circle cx="402.79" cy="152.85" r="1.82" fill="#868686"/><circle cx="401.93" cy="153.07" r="1.47" fill="#646464"/><circle cx="415.73" cy="157.66" r="1.79" fill="#8b8b8b"/><circle cx="411.39" cy="166.83" r="1.81" fill="#7e7e7e"/><circle cx="411.88" cy="164.85" r="1.72" fill="#7d7d7d"/><circle cx="415.47" cy="164.98" r="1.12" fill="#8c8c8c"/><circle cx="413.53" cy="164.3" r="1.78" fill="#767676"/><circle cx="415.23" cy="163.26" r="1.64" fill="#666666"/><circle cx="412.95" cy="137" r="1.17" fill="#888888"/><circle cx="413.06" cy="132.98" r="1.27" fill="#7e7e7e"/><circle cx="414.64" cy="134.24" r="1.28" fill="#7d7d7d"/><circle cx="413.44" cy="133.65" r="1.87" fill="#737373"/><circle cx="423.28" cy="193.48" r="1.81" fill="#959595"/><circle cx="426.6" cy="195.26" r="1.67" fill="#7a7a7a"/><circle cx="424.64" cy="194.45" r="0.94" fill="#696969"/><circle cx="425.7" cy="194.67" r="1.72" fill="#5c5c5c"/><circle cx="484.45" cy="56.6" r="1.55" fill="#8c8c8c"/><circle cx="483.44" cy="58.61" r="1.46" fill="#989898"/><circle cx="483.86" cy="57.14" r="1.62" fill="#929292"/><circle cx="482.11" cy="58.66" r="1.58" fill="#838383"/><circle cx="481" cy="55.95" r="1.56" fill="#6c6c6c"/><circle cx="481.08" cy="57.26" r="1.26" fill="#4c4c4c"/><circle cx="471.43" cy="100.91" r="0.91" fill="#7c7c7c"/><circle cx="468.49" cy="100.21" r="1.37" fill="#707070"/><circle cx="470.36" cy="100.54" r="1.34" fill="#656565"/><circle cx="509.17" cy="199.42" r="1.71" fill="#838383"/><circle cx="509" cy="195.53" r="1.55" fill="#888888"/><circle cx="507.63" cy="195.74" r="1.81" fill="#767676"/><circle cx="507.32" cy="195.43" r="1.82" fill="#7a7a7a"/><circle cx="506.77" cy="195.2" r="1.38" fill="#6f6f6f"/><circle cx="506.51" cy="194.49" r="1.38" fill="#505050"/><circle cx="410.61" cy="90.25" r="1.71" fill="#787878"/><circle cx="410.4" cy="92.06" r="1.35" fill="#818181"/><circle cx="406.75" cy="89.84" r="1.73" fill="#838383"/><circle cx="405.9" cy="91.61" r="1.39" fill="#7a7a7a"/><circle cx="436.76" cy="82.01" r="1.01" fill="#929292"/><circle cx="438.97" cy="89.5" r="1.63" fill="#8c8c8c"/><circle cx="434.73" cy="90.61" r="1.54" fill="#989898"/><circle cx="433.88" cy="90.09" r="1.64" fill="#7c7c7c"/><circle cx="439.1" cy="85.84" r="1.26" fill="#898989"/><circle cx="433.75" cy="84.19" r="1.63" fill="#7a7a7a"/><circle cx="437.15" cy="85.49" r="1" fill="#787878"/><circle cx="436.54" cy="86.57" r="1.66" fill="#5b5b5b"/><circle cx="505.86" cy="54.09" r="1.27" fill="#898989"/><circle cx="501.41" cy="58.86" r="1.59" fill="#858585"/><circle cx="500.74" cy="58.36" r="1.23" fill="#878787"/><circle cx="501.24" cy="53.78" r="1.42" fill="#8b8b8b"/><circle cx="503.3" cy="53.94" r="1.81" fill="#8c8c8c"/><circle cx="502.96" cy="54.4" r="1.47" fill="#5f5f5f"/><circle cx="503.73" cy="55.2" r="1.61" fill="#6a6a6a"/><circle cx="405.55" cy="172.95" r="1.28" fill="#646464"/><circle cx="406.05" cy="172.56" r="1.36" fill="#626262"/><circle cx="406.58" cy="172.87" r="0.99" fill="#595959"/><circle cx="485.11" cy="83.38" r="0.9" fill="#8a8a8a"/><circle cx="487.06" cy="84.24" r="1.71" fill="#8f8f8f"/><circle cx="486.29" cy="80.93" r="1.85" fill="#949494"/><circle cx="487.91" cy="82.33" r="1.78" fill="#727272"/><circle cx="487.92" cy="81.96" r="0.99" fill="#727272"/><circle cx="497.6" cy="197.52" r="1.67" fill="#8c8c8c"/><circle cx="501.7" cy="198.58" r="1.59" fill="#919191"/><circle cx="499.94" cy="198.65" r="1.39" fill="#5f5f5f"/><circle cx="498.95" cy="197.98" r="1.81" fill="#656565"/><circle cx="499.32" cy="206.2" r="1.46" fill="#7b7b7b"/><circle cx="495.71" cy="208.77" r="1.51" fill="#989898"/><circle cx="496.94" cy="209.09" r="1.8" fill="#6f6f6f"/><circle cx="499.2" cy="208.39" r="1.07" fill="#7d7d7d"/><circle cx="498.11" cy="207.29" r="1.26" fill="#737373"/><circle cx="497.17" cy="209.01" r="1.04" fill="#626262"/><circle cx="498.19" cy="208.49" r="0.96" fill="#565656"/><circle cx="392.92" cy="78.9" r="1.14" fill="#858585"/><circle cx="397.45" cy="75.8" r="1.17" fill="#909090"/><circle cx="391.59" cy="73.32" r="1.3" fill="#989898"/><circle cx="392.55" cy="73.62" r="0.99" fill="#6e6e6e"/><circle cx="394.46" cy="76.48" r="1.87" fill="#616161"/><circle cx="393.77" cy="74.35" r="1.44" fill="#6a6a6a"/><circle cx="357.36" cy="159.33" r="1.76" fill="#888888"/><circle cx="359.47" cy="162.34" r="1.11" fill="#878787"/><circle cx="359.58" cy="158.79" r="1.65" fill="#8b8b8b"/><circle cx="361.44" cy="160.44" r="1.81" fill="#757575"/><circle cx="359.9" cy="160.37" r="1.06" fill="#545454"/><circle cx="341.4" cy="203" r="1.32" fill="#969696"/><circle cx="348.72" cy="207.65" r="0.98" fill="#808080"/><circle cx="346.29" cy="210.58" r="1.15" fill="#828282"/><circle cx="347.23" cy="209.84" r="1.12" fill="#818181"/><circle cx="347.52" cy="209.1" r="1.16" fill="#717171"/><circle cx="343.81" cy="209.07" r="1.23" fill="#686868"/><circle cx="346.2" cy="207.47" r="1.3" fill="#4c4c4c"/><circle cx="354.39" cy="153.12" r="1.15" fill="#757575"/><circle cx="356.74" cy="152.01" r="1.56" fill="#777777"/><circle cx="355.43" cy="154.18" r="1.6" fill="#7f7f7f"/><circle cx="441.81" cy="70.43" r="1.47" fill="#8d8d8d"/><circle cx="440.24" cy="79.14" r="1.46" fill="#898989"/><circle cx="447.58" cy="71.88" r="1.23" fill="#878787"/><circle cx="440.5" cy="75.35" r="1.77" fill="#858585"/><circle cx="441.44" cy="76.12" r="1.07" fill="#868686"/><circle cx="446.57" cy="73.8" r="1.71" fill="#7c7c7c"/><circle cx="441.85" cy="77.14" r="1.87" fill="#7c7c7c"/><circle cx="443.63" cy="73.56" r="1.44" fill="#707070"/><circle cx="445.04" cy="77.97" r="1.04" fill="#656565"/><circle cx="445.44" cy="77.82" r="0.96" fill="#6d6d6d"/><circle cx="444.79" cy="77.49" r="1.67" fill="#5a5a5a"/><circle cx="444.3" cy="75.01" r="0.99" fill="#565656"/><circle cx="444.86" cy="76.48" r="1.88" fill="#535353"/><circle cx="364.65" cy="157.47" r="1.2" fill="#8c8c8c"/><circle cx="361.55" cy="154.42" r="1.26" fill="#8f8f8f"/><circle cx="363.35" cy="156.87" r="1.03" fill="#717171"/><circle cx="454.89" cy="204.09" r="1.24" fill="#8a8a8a"/><circle cx="454.07" cy="202.53" r="1.25" fill="#8d8d8d"/><circle cx="453.85" cy="201.37" r="1.36" fill="#7e7e7e"/><circle cx="392.31" cy="148.22" r="1.71" fill="#7b7b7b"/><circle cx="390.97" cy="149.55" r="1.78" fill="#767676"/><circle cx="392.76" cy="151.69" r="1.24" fill="#686868"/><circle cx="391.47" cy="150.38" r="1.74" fill="#575757"/><circle cx="433.1" cy="219.17" r="0.96" fill="#8f8f8f"/><circle cx="435.52" cy="215.16" r="1.85" fill="#7f7f7f"/><circle cx="433.71" cy="214.75" r="1.19" fill="#939393"/><circle cx="435.46" cy="216.55" r="1.56" fill="#7c7c7c"/><circle cx="435.18" cy="216.02" r="1.42" fill="#7f7f7f"/><circle cx="371.93" cy="103.8" r="1.82" fill="#858585"/><circle cx="377.24" cy="103.33" r="0.94" fill="#717171"/><circle cx="375.11" cy="103.54" r="1.75" fill="#818181"/><circle cx="376.04" cy="102.16" r="1" fill="#545454"/><circle cx="426.06" cy="182.35" r="1.32" fill="#7f7f7f"/><circle cx="424.72" cy="171.89" r="1.6" fill="#858585"/><circle cx="413.89" cy="178.3" r="1.1" fill="#797979"/><circle cx="418.18" cy="181.56" r="1.32" fill="#989898"/><circle cx="421.63" cy="175.05" r="1.61" fill="#7a7a7a"/><circle cx="416.36" cy="175.73" r="1.51" fill="#686868"/><circle cx="418.33" cy="174.92" r="1.06" fill="#676767"/><circle cx="419.71" cy="176.55" r="1.39" fill="#626262"/><circle cx="498.03" cy="206.14" r="1.59" fill="#919191"/><circle cx="497.56" cy="206.35" r="1.85" fill="#898989"/><circle cx="496.16" cy="209.89" r="1.88" fill="#6c6c6c"/><circle cx="445.3" cy="121.98" r="1.66" fill="#919191"/><circle cx="440.9" cy="117.75" r="1.26" fill="#848484"/><circle cx="437.09" cy="123.64" r="1.11" fill="#7f7f7f"/><circle cx="437.13" cy="123.28" r="1.01" fill="#858585"/><circle cx="438.57" cy="124.1" r="1.23" fill="#7b7b7b"/><circle cx="442.1" cy="121.26" r="1.66" fill="#8f8f8f"/><circle cx="440.4" cy="122.27" r="1.6" fill="#565656"/><circle cx="439.81" cy="120.05" r="1.38" fill="#6c6c6c"/><circle cx="382.21" cy="81.5" r="1.57" fill="#868686"/><circle cx="381.56" cy="90.55" r="1.27" fill="#989898"/><circle cx="386.1" cy="84.64" r="1.05" fill="#8c8c8c"/><circle cx="385.15" cy="89.37" r="1.55" fill="#656565"/><circle cx="382.49" cy="87.69" r="1.04" fill="#717171"/><circle cx="383.26" cy="86.21" r="1.84" fill="#6b6b6b"/><circle cx="385.26" cy="87.52" r="0.93" fill="#6e6e6e"/><circle cx="372.78" cy="91.02" r="1.23" fill="#8b8b8b"/><circle cx="377.77" cy="98.26" r="1.71" fill="#7f7f7f"/><circle cx="369.03" cy="96.41" r="1.21" fill="#848484"/><circle cx="377.65" cy="97.09" r="1.6" fill="#7f7f7f"/><circle cx="374.47" cy="98.95" r="0.97" fill="#848484"/><circle cx="376.21" cy="94.73" r="1.43" fill="#888888"/><circle cx="375.07" cy="94.31" r="1.36" fill="#808080"/><circle cx="375.13" cy="97.32" r="1.1" fill="#6b6b6b"/><circle cx="374.91" cy="94.72" r="1.75" fill="#727272"/><circle cx="372.47" cy="94.55" r="1.73" fill="#747474"/><circle cx="372.15" cy="95.61" r="1.76" fill="#646464"/><circle cx="373.78" cy="96.34" r="0.92" fill="#565656"/><circle cx="442.28" cy="74.48" r="1.3" fill="#898989"/><circle cx="438.07" cy="71.61" r="1" fill="#8e8e8e"/><circle cx="438.83" cy="71.16" r="1.1" fill="#979797"/><circle cx="438.02" cy="73.12" r="1.45" fill="#989898"/><circle cx="440.62" cy="72.27" r="1.23" fill="#737373"/><circle cx="439.99" cy="72.48" r="1.17" fill="#767676"/><circle cx="495.42" cy="135.17" r="1.88" fill="#989898"/><circle cx="493.08" cy="132.65" r="1.18" fill="#787878"/><circle cx="492.23" cy="133.9" r="1.84" fill="#7c7c7c"/><circle cx="492.93" cy="133.32" r="1.65" fill="#646464"/><circle cx="492.78" cy="133.61" r="1.8" fill="#606060"/><circle cx="492.83" cy="133.87" r="1.25" fill="#5a5a5a"/><circle cx="474.74" cy="146.03" r="1.79" fill="#828282"/><circle cx="473.61" cy="145.07" r="1.81" fill="#797979"/><circle cx="469.63" cy="146.73" r="1.24" fill="#909090"/><circle cx="470.24" cy="145.71" r="1.47" fill="#767676"/><circle cx="472.64" cy="147.05" r="1.18" fill="#767676"/><circle cx="472.81" cy="145.97" r="1.43" fill="#828282"/><circle cx="470.8" cy="145.68" r="1.22" fill="#6a6a6a"/><circle cx="394.41" cy="170.35" r="1.67" fill="#888888"/><circle cx="393.81" cy="166.41" r="1.88" fill="#8c8c8c"/><circle cx="399.54" cy="163.85" r="1.26" fill="#929292"/><circle cx="398.18" cy="168.54" r="1.13" fill="#767676"/><circle cx="398.26" cy="165.08" r="1.73" fill="#6e6e6e"/><circle cx="396.91" cy="165.95" r="1.64" fill="#6f6f6f"/><circle cx="361.07" cy="181.13" r="1.48" fill="#8e8e8e"/><circle cx="364.23" cy="175.52" r="1.45" fill="#989898"/><circle cx="369.13" cy="181.15" r="1.04" fill="#8b8b8b"/><circle cx="368.04" cy="177.45" r="1.05" fill="#878787"/><circle cx="442.76" cy="133.84" r="1.4" fill="#818181"/><circle cx="440.28" cy="134.74" r="1.59" fill="#7c7c7c"/><circle cx="442.53" cy="134.45" r="0.92" fill="#6e6e6e"/><circle cx="437.48" cy="217.18" r="1.32" fill="#818181"/><circle cx="439.91" cy="216.78" r="1.12" fill="#7c7c7c"/><circle cx="439.15" cy="216.82" r="1.2" fill="#6b6b6b"/><circle cx="438.81" cy="213.87" r="1.35" fill="#727272"/><circle cx="438.85" cy="216.35" r="1.49" fill="#727272"/><circle cx="439.33" cy="214.08" r="1.5" fill="#6a6a6a"/><circle cx="464.11" cy="119.64" r="1.19" fill="#909090"/><circle cx="466.75" cy="121.28" r="1.02" fill="#777777"/><circle cx="466.31" cy="118.89" r="1.81" fill="#686868"/><circle cx="466.12" cy="120.32" r="1.62" fill="#505050"/><circle cx="376.89" cy="137.16" r="1.17" fill="#919191"/><circle cx="376.93" cy="138.21" r="1.56" fill="#8d8d8d"/><circle cx="375.95" cy="140.46" r="1.59" fill="#959595"/><circle cx="372.96" cy="136.39" r="1.17" fill="#7e7e7e"/><circle cx="373.68" cy="139.04" r="1.69" fill="#676767"/><circle cx="373.4" cy="139.45" r="1.52" fill="#6b6b6b"/><circle cx="373.05" cy="137.57" r="1.34" fill="#737373"/><circle cx="443.04" cy="82.52" r="1.18" fill="#898989"/><circle cx="441.45" cy="77.04" r="1.79" fill="#969696"/><circle cx="438.09" cy="78.05" r="1.47" fill="#7c7c7c"/><circle cx="440.41" cy="79.49" r="1.75" fill="#7f7f7f"/><circle cx="437.85" cy="80.8" r="0.95" fill="#888888"/><circle cx="383.47" cy="165.37" r="1.59" fill="#818181"/><circle cx="378.65" cy="161.21" r="1.43" fill="#8f8f8f"/><circle cx="379.73" cy="164.08" r="0.92" fill="#7d7d7d"/><circle cx="381.89" cy="163.66" r="1.38" fill="#747474"/><circle cx="381.35" cy="164.14" r="1.12" fill="#818181"/><circle cx="380.15" cy="163.96" r="1.1" fill="#7a7a7a"/><circle cx="445.21" cy="73.44" r="1.85" fill="#909090"/><circle cx="440.31" cy="75.49" r="1.34" fill="#898989"/><circle cx="443.73" cy="73.5" r="1.26" fill="#8a8a8a"/><circle cx="393.72" cy="191.27" r="0.9" fill="#909090"/><circle cx="390.09" cy="195.88" r="1.81" fill="#828282"/><circle cx="390.98" cy="194.11" r="1.8" fill="#5d5d5d"/><circle cx="409.42" cy="112.12" r="1.79" fill="#8c8c8c"/><circle cx="406.68" cy="112.89" r="1.87" fill="#8c8c8c"/><circle cx="406.63" cy="122.48" r="1.17" fill="#989898"/><circle cx="407.61" cy="119.97" r="1.43" fill="#828282"/><circle cx="399.56" cy="119.73" r="1.27" fill="#868686"/><circle cx="399.73" cy="117.29" r="1.28" fill="#7a7a7a"/><circle cx="400.69" cy="121.13" r="1.31" fill="#8c8c8c"/><circle cx="402.27" cy="115.13" r="1.74" fill="#818181"/><circle cx="401.08" cy="120.74" r="1.07" fill="#838383"/><circle cx="404.42" cy="121" r="1.84" fill="#6a6a6a"/><circle cx="403.58" cy="121.03" r="1.13" fill="#6f6f6f"/><circle cx="405.47" cy="119.27" r="1.15" fill="#787878"/><circle cx="403.35" cy="118.45" r="1.11" fill="#545454"/><circle cx="413.01" cy="79.35" r="1.02" fill="#797979"/><circle cx="417.01" cy="75.03" r="1.57" fill="#939393"/><circle cx="420.5" cy="84.66" r="0.99" fill="#8f8f8f"/><circle cx="424.42" cy="82.48" r="1.4" fill="#6c6c6c"/><circle cx="424.65" cy="80.18" r="1.72" fill="#878787"/><circle cx="422.03" cy="83.62" r="1.61" fill="#7d7d7d"/><circle cx="421.92" cy="83.01" r="1.18" fill="#686868"/><circle cx="421.17" cy="79.25" r="1.3" fill="#717171"/><circle cx="422.65" cy="81.31" r="1.11" fill="#515151"/><circle cx="489.19" cy="195.49" r="0.9" fill="#989898"/><circle cx="483.78" cy="194.52" r="1.48" fill="#858585"/><circle cx="484.85" cy="194.28" r="1.68" fill="#828282"/><circle cx="486.13" cy="194.9" r="1.8" fill="#6b6b6b"/><circle cx="486.41" cy="195.92" r="1.27" fill="#656565"/><circle cx="494.95" cy="175.25" r="1.79" fill="#878787"/><circle cx="493.08" cy="178.8" r="1.04" fill="#7e7e7e"/><circle cx="494.67" cy="179.74" r="1.22" fill="#646464"/><circle cx="497.32" cy="178.37" r="0.98" fill="#757575"/><circle cx="396.33" cy="99.96" r="1.24" fill="#8b8b8b"/><circle cx="387.84" cy="95.06" r="0.95" fill="#898989"/><circle cx="394.82" cy="98.38" r="1.43" fill="#888888"/><circle cx="388.83" cy="96.1" r="0.96" fill="#939393"/><circle cx="394.81" cy="95.28" r="1.17" fill="#818181"/><circle cx="392.71" cy="93.81" r="0.93" fill="#696969"/><circle cx="393.88" cy="95.04" r="0.95" fill="#696969"/><circle cx="394.16" cy="96.73" r="0.95" fill="#616161"/><circle cx="393.97" cy="96.08" r="1.67" fill="#656565"/><circle cx="393.52" cy="96.7" r="1.67" fill="#6c6c6c"/><circle cx="392.87" cy="95.2" r="1.5" fill="#6a6a6a"/><circle cx="392.19" cy="96.78" r="0.98" fill="#525252"/><circle cx="378.2" cy="119.01" r="1.47" fill="#8b8b8b"/><circle cx="378.07" cy="120.68" r="1.28" fill="#8d8d8d"/><circle cx="375.26" cy="120.91" r="0.98" fill="#777777"/><circle cx="392.15" cy="102.66" r="1.35" fill="#8d8d8d"/><circle cx="392.33" cy="93.24" r="0.97" fill="#929292"/><circle cx="392.78" cy="101.06" r="1.47" fill="#949494"/><circle cx="396.42" cy="100.18" r="1.09" fill="#787878"/><circle cx="391.5" cy="98.19" r="1.16" fill="#7f7f7f"/><circle cx="393.15" cy="100" r="1.75" fill="#737373"/><circle cx="392.13" cy="97.86" r="1.09" fill="#777777"/><circle cx="394.01" cy="97.96" r="1.09" fill="#575757"/><circle cx="416.63" cy="55.77" r="1.18" fill="#909090"/><circle cx="420.49" cy="58.35" r="1.25" fill="#767676"/><circle cx="420.03" cy="57.29" r="1.79" fill="#666666"/><circle cx="435.07" cy="57.77" r="1.78" fill="#8a8a8a"/><circle cx="431.51" cy="58.45" r="1.06" fill="#818181"/><circle cx="433.2" cy="64.19" r="1.74" fill="#989898"/><circle cx="433.52" cy="58.08" r="1.24" fill="#858585"/><circle cx="433.66" cy="63.82" r="1.21" fill="#979797"/><circle cx="434.48" cy="61.72" r="1.31" fill="#797979"/><circle cx="501.79" cy="115.65" r="1.6" fill="#929292"/><circle cx="499.47" cy="119.24" r="1.75" fill="#7c7c7c"/><circle cx="501.46" cy="117.23" r="1.28" fill="#8b8b8b"/><circle cx="500.47" cy="115.69" r="0.97" fill="#787878"/><circle cx="498.88" cy="115.48" r="1.87" fill="#848484"/><circle cx="500.55" cy="116.27" r="1.59" fill="#7a7a7a"/><circle cx="499.34" cy="115.39" r="1.74" fill="#7c7c7c"/><circle cx="451.9" cy="114.82" r="1.29" fill="#828282"/><circle cx="448.13" cy="115.95" r="1.47" fill="#7f7f7f"/><circle cx="449.27" cy="118.37" r="1.76" fill="#707070"/><circle cx="450.88" cy="118.27" r="1.53" fill="#565656"/><circle cx="490.14" cy="114.71" r="1.53" fill="#989898"/><circle cx="485.62" cy="109.81" r="1.85" fill="#868686"/><circle cx="488.13" cy="108.89" r="1.82" fill="#838383"/><circle cx="489.03" cy="113.61" r="1.78" fill="#757575"/><circle cx="489.16" cy="110.39" r="1.7" fill="#898989"/><circle cx="390.19" cy="71.11" r="1.68" fill="#868686"/><circle cx="392.05" cy="66.92" r="1.57" fill="#727272"/><circle cx="394.18" cy="69.14" r="1.71" fill="#838383"/><circle cx="393.35" cy="68.73" r="1.78" fill="#878787"/><circle cx="392.67" cy="70.5" r="1.53" fill="#797979"/><circle cx="350.43" cy="51.21" r="1.31" fill="#989898"/><circle cx="354.98" cy="53.25" r="1.34" fill="#8c8c8c"/><circle cx="352.21" cy="51.62" r="0.99" fill="#909090"/><circle cx="353.42" cy="52.78" r="1.25" fill="#676767"/><circle cx="353.3" cy="54.72" r="1.42" fill="#6c6c6c"/><circle cx="352.11" cy="54.89" r="1.64" fill="#6a6a6a"/><circle cx="352.55" cy="54.08" r="1.57" fill="#565656"/><circle cx="500.24" cy="107.88" r="1.07" fill="#888888"/><circle cx="504.58" cy="110.53" r="1.16" fill="#868686"/><circle cx="502.56" cy="111.36" r="1.19" fill="#777777"/><circle cx="501.01" cy="110.77" r="1.08" fill="#4e4e4e"/><circle cx="509.92" cy="85.18" r="1.24" fill="#868686"/><circle cx="507.13" cy="91.36" r="1.43" fill="#909090"/><circle cx="510.28" cy="90.63" r="1.72" fill="#727272"/><circle cx="510.35" cy="88.95" r="1.53" fill="#646464"/><circle cx="509.05" cy="89.12" r="1.33" fill="#707070"/><circle cx="380.73" cy="160.55" r="0.93" fill="#808080"/><circle cx="381.35" cy="159.59" r="1.22" fill="#858585"/><circle cx="381.13" cy="158.16" r="1.45" fill="#7d7d7d"/><circle cx="365.75" cy="78.06" r="1.08" fill="#7a7a7a"/><circle cx="362.78" cy="73.98" r="1.81" fill="#838383"/><circle cx="362.57" cy="72.31" r="1.73" fill="#8b8b8b"/><circle cx="364.75" cy="71.23" r="1.55" fill="#717171"/><circle cx="364.43" cy="71.3" r="1.83" fill="#8a8a8a"/><circle cx="365.44" cy="71.79" r="1.21" fill="#858585"/><circle cx="365.33" cy="73.46" r="1.04" fill="#6f6f6f"/><circle cx="461.61" cy="89.36" r="1.14" fill="#989898"/><circle cx="460.88" cy="87.93" r="1.5" fill="#5d5d5d"/><circle cx="462.4" cy="87.92" r="1.05" fill="#666666"/><circle cx="461" cy="87.04" r="1.63" fill="#6c6c6c"/><circle cx="503.69" cy="84.24" r="1.48" fill="#898989"/><circle cx="506.98" cy="84.21" r="1.82" fill="#7c7c7c"/><circle cx="508.81" cy="88.61" r="1.27" fill="#878787"/><circle cx="504.37" cy="88.29" r="1.1" fill="#696969"/><circle cx="507.45" cy="86.84" r="1.67" fill="#4e4e4e"/><circle cx="496.61" cy="120.56" r="1.74" fill="#919191"/><circle cx="496.61" cy="124.33" r="1.81" fill="#7e7e7e"/><circle cx="496.42" cy="121.68" r="1.55" fill="#868686"/><circle cx="497.39" cy="121.3" r="1.01" fill="#666666"/><circle cx="508.52" cy="92.7" r="1.83" fill="#909090"/><circle cx="506.32" cy="93.2" r="1.5" fill="#949494"/><circle cx="508.14" cy="94.86" r="1.17" fill="#737373"/><circle cx="508.15" cy="95.26" r="1.2" fill="#717171"/><circle cx="507.56" cy="96.51" r="1.45" fill="#626262"/><circle cx="507.06" cy="95.8" r="1.07" fill="#707070"/><circle cx="411.43" cy="169.55" r="0.92" fill="#8f8f8f"/><circle cx="418.19" cy="166.54" r="1.13" fill="#919191"/><circle cx="415.47" cy="169.51" r="1.34" fill="#7c7c7c"/><circle cx="413.85" cy="167.02" r="1.57" fill="#7a7a7a"/><circle cx="415.38" cy="167.8" r="1.24" fill="#585858"/><circle cx="460.8" cy="170.65" r="1.25" fill="#737373"/><circle cx="461.51" cy="170.14" r="1.67" fill="#888888"/><circle cx="459.56" cy="169.33" r="1.24" fill="#8e8e8e"/><circle cx="459.58" cy="165.63" r="1.85" fill="#7e7e7e"/><circle cx="460.86" cy="168.63" r="1.22" fill="#7b7b7b"/><circle cx="462.73" cy="167.34" r="0.92" fill="#696969"/><circle cx="423.03" cy="180.36" r="1.19" fill="#808080"/><circle cx="416.86" cy="183.36" r="1.74" fill="#848484"/><circle cx="417.5" cy="181.56" r="1.06" fill="#7d7d7d"/><circle cx="420.44" cy="180.58" r="1.67" fill="#737373"/><circle cx="470.07" cy="111.83" r="0.97" fill="#888888"/><circle cx="477.99" cy="122.6" r="1.16" fill="#8d8d8d"/><circle cx="474.92" cy="129.1" r="1.08" fill="#868686"/><circle cx="467.04" cy="128.18" r="1.3" fill="#969696"/><circle cx="473.97" cy="127.57" r="1.21" fill="#939393"/><circle cx="472.65" cy="127.26" r="0.9" fill="#939393"/><circle cx="473.39" cy="125.9" r="1.58" fill="#878787"/><circle cx="468.03" cy="120.69" r="1.14" fill="#737373"/><circle cx="469.38" cy="120.55" r="1.29" fill="#737373"/><circle cx="470.31" cy="125.43" r="0.97" fill="#727272"/><circle cx="350.84" cy="155.76" r="1.28" fill="#808080"/><circle cx="346.72" cy="152.69" r="1.55" fill="#828282"/><circle cx="350.22" cy="155.8" r="1" fill="#8d8d8d"/><circle cx="348.88" cy="156.11" r="1.64" fill="#797979"/><circle cx="350.06" cy="153.64" r="1.56" fill="#5d5d5d"/><circle cx="348.05" cy="155.11" r="1.81" fill="#686868"/><circle cx="348.26" cy="154.3" r="1.52" fill="#535353"/><circle cx="494.24" cy="195.94" r="1.66" fill="#7a7a7a"/><circle cx="490.26" cy="198.48" r="1.88" fill="#8c8c8c"/><circle cx="491.69" cy="194.51" r="1" fill="#757575"/><circle cx="491.77" cy="194.81" r="0.98" fill="#6a6a6a"/><circle cx="492.51" cy="196.63" r="1.31" fill="#676767"/><circle cx="492.15" cy="195.74" r="1.46" fill="#575757"/><circle cx="491.37" cy="196.46" r="1.03" fill="#585858"/><circle cx="372.41" cy="107.64" r="1.81" fill="#979797"/><circle cx="376.21" cy="101.37" r="1.51" fill="#8b8b8b"/><circle cx="377.31" cy="109.68" r="1.42" fill="#848484"/><circle cx="376.97" cy="109.2" r="0.98" fill="#919191"/><circle cx="380.81" cy="105.62" r="1.56" fill="#858585"/><circle cx="375.87" cy="103.45" r="1.5" fill="#919191"/><circle cx="379.38" cy="103.97" r="1.39" fill="#8a8a8a"/><circle cx="345.44" cy="97.85" r="1.32" fill="#868686"/><circle cx="346.61" cy="100.13" r="1.5" fill="#797979"/><circle cx="343.59" cy="101.36" r="1.24" fill="#737373"/><circle cx="345.89" cy="101.34" r="1.69" fill="#747474"/><circle cx="344.1" cy="99.7" r="0.95" fill="#707070"/><circle cx="344.43" cy="101.66" r="1.84" fill="#686868"/><circle cx="344.99" cy="101.32" r="1.76" fill="#636363"/><circle cx="356.03" cy="107.03" r="1.23" fill="#7f7f7f"/><circle cx="354.6" cy="104.51" r="1.69" fill="#878787"/><circle cx="346.38" cy="105.66" r="1.73" fill="#828282"/><circle cx="354.22" cy="106.19" r="1.64" fill="#8d8d8d"/><circle cx="353.19" cy="103.24" r="1.73" fill="#989898"/><circle cx="351.85" cy="108.63" r="1.23" fill="#8d8d8d"/><circle cx="352.11" cy="107.99" r="1.49" fill="#767676"/><circle cx="348.27" cy="107.28" r="1.07" fill="#797979"/><circle cx="350.9" cy="107.87" r="1.75" fill="#818181"/><circle cx="352.43" cy="106.65" r="1.57" fill="#717171"/><circle cx="349.91" cy="104.95" r="0.92" fill="#5d5d5d"/><circle cx="350.62" cy="105.14" r="1.28" fill="#5d5d5d"/><circle cx="405.28" cy="183.07" r="1.14" fill="#888888"/><circle cx="405.09" cy="182.7" r="1.18" fill="#949494"/><circle cx="404.61" cy="182.42" r="1.61" fill="#878787"/><circle cx="401.25" cy="182.62" r="0.92" fill="#747474"/><circle cx="402.63" cy="182.18" r="1.58" fill="#6e6e6e"/><circle cx="402.61" cy="183.79" r="1.24" fill="#4b4b4b"/><circle cx="377.49" cy="155.08" r="1.27" fill="#989898"/><circle cx="378.56" cy="154.29" r="0.97" fill="#787878"/><circle cx="381.3" cy="154.05" r="0.92" fill="#747474"/><circle cx="357.78" cy="211.26" r="1.88" fill="#989898"/><circle cx="357.69" cy="215.06" r="0.94" fill="#8c8c8c"/><circle cx="350.32" cy="212.15" r="1.7" fill="#959595"/><circle cx="350.47" cy="215.75" r="1.1" fill="#6c6c6c"/><circle cx="350.52" cy="215.07" r="1.43" fill="#7a7a7a"/><circle cx="352.35" cy="215.1" r="1.49" fill="#555555"/><circle cx="354.35" cy="219.99" r="1.74" fill="#888888"/><circle cx="352.41" cy="212.91" r="1.39" fill="#8a8a8a"/><circle cx="352.83" cy="213.03" r="1.67" fill="#979797"/><circle cx="355.89" cy="213.29" r="1.26" fill="#808080"/><circle cx="356.42" cy="217.68" r="1.83" fill="#848484"/><circle cx="354.79" cy="215.49" r="1.61" fill="#5b5b5b"/><circle cx="378.93" cy="209.23" r="1.7" fill="#888888"/><circle cx="367.15" cy="209.99" r="1.74" fill="#878787"/><circle cx="374.85" cy="207.33" r="0.97" fill="#868686"/><circle cx="367.88" cy="205.74" r="1.83" fill="#8a8a8a"/><circle cx="372.55" cy="207.59" r="1.13" fill="#767676"/><circle cx="372.95" cy="202.64" r="1.23" fill="#616161"/><circle cx="393.61" cy="197.48" r="1.15" fill="#848484"/><circle cx="391.44" cy="198.08" r="1.85" fill="#707070"/><circle cx="392.13" cy="197.03" r="1.59" fill="#7c7c7c"/><circle cx="390.57" cy="196.67" r="1.77" fill="#5e5e5e"/><circle cx="359.66" cy="214.41" r="1.9" fill="#989898"/><circle cx="368.3" cy="216.08" r="1.41" fill="#7a7a7a"/><circle cx="365.45" cy="216.87" r="1.79" fill="#8d8d8d"/><circle cx="364.78" cy="212.22" r="0.97" fill="#757575"/><circle cx="365.56" cy="212.27" r="1.41" fill="#616161"/><circle cx="366.85" cy="213.62" r="1.7" fill="#7a7a7a"/><circle cx="365.29" cy="214.87" r="1.34" fill="#686868"/><circle cx="393.84" cy="123.83" r="1.48" fill="#8d8d8d"/><circle cx="390.46" cy="118.85" r="1.86" fill="#8d8d8d"/><circle cx="392.11" cy="119.77" r="0.97" fill="#707070"/><circle cx="394.27" cy="121.63" r="1.6" fill="#797979"/><circle cx="394.39" cy="119.6" r="1.23" fill="#787878"/><circle cx="394.3" cy="119.85" r="0.91" fill="#747474"/><circle cx="392.84" cy="120.28" r="1.48" fill="#5f5f5f"/><circle cx="371.77" cy="158.62" r="1.89" fill="#868686"/><circle cx="366.2" cy="159.07" r="1.22" fill="#888888"/><circle cx="363.31" cy="158.04" r="1.6" fill="#808080"/><circle cx="369.69" cy="157.1" r="1.65" fill="#808080"/><circle cx="368.76" cy="157.28" r="1.42" fill="#8c8c8c"/><circle cx="366.31" cy="149.63" r="1.73" fill="#7b7b7b"/><circle cx="363.59" cy="154.56" r="1.05" fill="#676767"/><circle cx="369.04" cy="154.11" r="1.53" fill="#6e6e6e"/><circle cx="366.85" cy="155.3" r="0.91" fill="#717171"/><circle cx="367" cy="153.04" r="1.85" fill="#4d4d4d"/><circle cx="471.51" cy="148.81" r="1.47" fill="#888888"/><circle cx="473.71" cy="153.63" r="1.46" fill="#8c8c8c"/><circle cx="478.13" cy="152.64" r="1.88" fill="#858585"/><circle cx="477.16" cy="154.25" r="1.69" fill="#747474"/><circle cx="475.76" cy="152.09" r="1.69" fill="#6b6b6b"/><circle cx="347.45" cy="158.35" r="1.1" fill="#7a7a7a"/><circle cx="345.43" cy="166.24" r="1.55" fill="#8e8e8e"/><circle cx="342.53" cy="157.68" r="1.68" fill="#949494"/><circle cx="345.69" cy="158.09" r="1.08" fill="#989898"/><circle cx="343.82" cy="164.99" r="1.61" fill="#8b8b8b"/><circle cx="346.45" cy="163.46" r="1.46" fill="#888888"/><circle cx="341.39" cy="160.19" r="0.98" fill="#767676"/><circle cx="341.21" cy="161.64" r="1.19" fill="#878787"/><circle cx="342.43" cy="159.81" r="1.49" fill="#7c7c7c"/><circle cx="343.2" cy="163.69" r="1.21" fill="#717171"/><circle cx="345.65" cy="161.03" r="1.49" fill="#7b7b7b"/><circle cx="343.18" cy="161.64" r="0.91" fill="#616161"/><circle cx="354.04" cy="85.56" r="1.47" fill="#8f8f8f"/><circle cx="363.8" cy="86.79" r="1.7" fill="#909090"/><circle cx="361.96" cy="80.58" r="1.49" fill="#8d8d8d"/><circle cx="358.4" cy="88.42" r="1.65" fill="#7f7f7f"/><circle cx="359.07" cy="87.91" r="1.37" fill="#949494"/><circle cx="356.52" cy="82.55" r="1.47" fill="#797979"/><circle cx="356.66" cy="82.71" r="1.09" fill="#808080"/><circle cx="358.22" cy="82.19" r="1.02" fill="#707070"/><circle cx="360.85" cy="82.57" r="1.87" fill="#727272"/><circle cx="359.05" cy="85.58" r="1.04" fill="#707070"/><circle cx="359.91" cy="83.27" r="1.19" fill="#5d5d5d"/><circle cx="389.33" cy="122.81" r="1.77" fill="#828282"/><circle cx="392.7" cy="122.22" r="1.89" fill="#959595"/><circle cx="392.48" cy="115.66" r="1.06" fill="#949494"/><circle cx="386.78" cy="118.94" r="1.31" fill="#878787"/><circle cx="387.77" cy="120.25" r="1.75" fill="#808080"/><circle cx="392.44" cy="120.93" r="1.17" fill="#5c5c5c"/><circle cx="388.04" cy="117.74" r="1.81" fill="#737373"/><circle cx="390.52" cy="116.32" r="1.09" fill="#898989"/><circle cx="388.91" cy="119.75" r="1.27" fill="#595959"/><circle cx="392.02" cy="118.7" r="1.44" fill="#626262"/><circle cx="390.22" cy="117.9" r="1.01" fill="#646464"/><circle cx="476.36" cy="112.17" r="1.44" fill="#898989"/><circle cx="483.79" cy="114.56" r="1.75" fill="#828282"/><circle cx="482.1" cy="110.21" r="0.91" fill="#8e8e8e"/><circle cx="480.17" cy="112.27" r="1.38" fill="#5b5b5b"/><circle cx="501.43" cy="96.59" r="1.65" fill="#7d7d7d"/><circle cx="502.99" cy="94.31" r="1.25" fill="#8d8d8d"/><circle cx="500.71" cy="94.54" r="1.1" fill="#777777"/><circle cx="500.57" cy="93.74" r="1.31" fill="#6a6a6a"/><circle cx="409.15" cy="146.16" r="1.3" fill="#8a8a8a"/><circle cx="407.97" cy="139.56" r="1.86" fill="#7f7f7f"/><circle cx="407.33" cy="144.43" r="1.41" fill="#7a7a7a"/><circle cx="427.81" cy="196.18" r="1.73" fill="#989898"/><circle cx="428.09" cy="194.16" r="0.97" fill="#818181"/><circle cx="422.9" cy="194.97" r="1.39" fill="#858585"/><circle cx="417.62" cy="90.5" r="1.59" fill="#888888"/><circle cx="417.86" cy="85.25" r="1.57" fill="#8b8b8b"/><circle cx="421.8" cy="88.94" r="1.59" fill="#868686"/><circle cx="420.12" cy="85.02" r="1.19" fill="#828282"/><circle cx="418.6" cy="86.6" r="1.03" fill="#6c6c6c"/><circle cx="466.85" cy="127.03" r="0.93" fill="#7c7c7c"/><circle cx="466.65" cy="128.22" r="1.76" fill="#808080"/><circle cx="466.09" cy="128.53" r="1.81" fill="#7a7a7a"/><circle cx="467.4" cy="128.8" r="1.81" fill="#7b7b7b"/><circle cx="466.23" cy="130.82" r="0.92" fill="#6a6a6a"/><circle cx="466.51" cy="129.06" r="1.83" fill="#676767"/><circle cx="466.38" cy="130.75" r="1.05" fill="#737373"/><circle cx="402.67" cy="173.91" r="1.19" fill="#7e7e7e"/><circle cx="401.19" cy="171.73" r="1.18" fill="#5d5d5d"/><circle cx="401.29" cy="172.47" r="1.24" fill="#4c4c4c"/><circle cx="489.87" cy="74.79" r="1.66" fill="#7a7a7a"/><circle cx="491.43" cy="80.02" r="1.5" fill="#8d8d8d"/><circle cx="489.04" cy="76.04" r="1.21" fill="#939393"/><circle cx="489.96" cy="76.65" r="1.55" fill="#707070"/><circle cx="489.8" cy="78.58" r="1.81" fill="#6e6e6e"/><circle cx="420.9" cy="60.78" r="1.58" fill="#8d8d8d"/><circle cx="424.85" cy="65.65" r="1.37" fill="#696969"/><circle cx="425.09" cy="60.03" r="1.27" fill="#6c6c6c"/><circle cx="423.75" cy="62.72" r="1.74" fill="#5c5c5c"/><circle cx="424.75" cy="61.55" r="1.56" fill="#4a4a4a"/><circle cx="424.85" cy="63.01" r="1.07" fill="#464646"/><circle cx="409.76" cy="161.42" r="1.15" fill="#939393"/><circle cx="410.99" cy="151.86" r="1.74" fill="#989898"/><circle cx="407.6" cy="159.18" r="0.91" fill="#919191"/><circle cx="413.37" cy="158.87" r="1.62" fill="#7a7a7a"/><circle cx="407.66" cy="154.1" r="0.96" fill="#8e8e8e"/><circle cx="410.14" cy="153.81" r="1.36" fill="#777777"/><circle cx="411.68" cy="158.61" r="1" fill="#777777"/><circle cx="412.42" cy="155.25" r="1.23" fill="#6f6f6f"/><circle cx="411.08" cy="158.22" r="1.41" fill="#797979"/><circle cx="409.53" cy="156.47" r="1.57" fill="#656565"/><circle cx="435.81" cy="141.59" r="0.99" fill="#868686"/><circle cx="435.97" cy="139.99" r="1.34" fill="#848484"/><circle cx="434.85" cy="141.58" r="1.38" fill="#6f6f6f"/><circle cx="433.95" cy="139.98" r="1.55" fill="#6d6d6d"/><circle cx="434.81" cy="140.27" r="1.68" fill="#5f5f5f"/><circle cx="446.1" cy="206.42" r="1.75" fill="#878787"/><circle cx="451.78" cy="207.13" r="1.32" fill="#7f7f7f"/><circle cx="452.34" cy="212.13" r="1.5" fill="#7f7f7f"/><circle cx="451.67" cy="209.6" r="1.61" fill="#989898"/><circle cx="450.13" cy="209.11" r="1.84" fill="#717171"/><circle cx="337.68" cy="168" r="0.97" fill="#7e7e7e"/><circle cx="346.19" cy="173.64" r="1.57" fill="#878787"/><circle cx="343.16" cy="165.26" r="1.4" fill="#808080"/><circle cx="342.29" cy="165.55" r="1.61" fill="#8f8f8f"/><circle cx="344.28" cy="171.81" r="1.31" fill="#949494"/><circle cx="341.4" cy="169.56" r="1.38" fill="#696969"/><circle cx="456.07" cy="49.07" r="1.86" fill="#989898"/><circle cx="455.42" cy="50.02" r="1.6" fill="#828282"/><circle cx="454.82" cy="51.1" r="1.35" fill="#7c7c7c"/><circle cx="456.72" cy="52.01" r="1.24" fill="#7d7d7d"/><circle cx="427.69" cy="209.84" r="1.04" fill="#808080"/><circle cx="423.53" cy="206.66" r="1.58" fill="#868686"/><circle cx="426.99" cy="200.84" r="1.74" fill="#858585"/><circle cx="428.63" cy="207.63" r="1.63" fill="#808080"/><circle cx="429.13" cy="205.71" r="1.06" fill="#646464"/><circle cx="427.48" cy="203.86" r="1.51" fill="#5d5d5d"/><circle cx="427.7" cy="204.06" r="1.07" fill="#727272"/><circle cx="427.28" cy="204.99" r="1.41" fill="#5d5d5d"/><circle cx="455.34" cy="114.04" r="1.22" fill="#969696"/><circle cx="455.2" cy="124.95" r="1.81" fill="#989898"/><circle cx="451.65" cy="116.88" r="1.33" fill="#939393"/><circle cx="452.14" cy="117.04" r="1.49" fill="#818181"/><circle cx="381.93" cy="132.56" r="1.83" fill="#989898"/><circle cx="385.83" cy="131.89" r="1.1" fill="#8e8e8e"/><circle cx="383.75" cy="131.34" r="1.16" fill="#606060"/><circle cx="384.34" cy="131.27" r="1.47" fill="#525252"/><circle cx="483.95" cy="141.9" r="1.77" fill="#8e8e8e"/><circle cx="480.79" cy="146.51" r="1.66" fill="#7c7c7c"/><circle cx="485.1" cy="145.07" r="1.51" fill="#7b7b7b"/><circle cx="485.04" cy="145.34" r="1.66" fill="#7f7f7f"/><circle cx="483.26" cy="146.81" r="1.48" fill="#8d8d8d"/><circle cx="484.44" cy="145.78" r="1.67" fill="#7a7a7a"/><circle cx="484.28" cy="145.33" r="1.65" fill="#6e6e6e"/><circle cx="428.87" cy="90.39" r="1.79" fill="#898989"/><circle cx="434.23" cy="96.23" r="1.08" fill="#848484"/><circle cx="439.96" cy="88.61" r="1.37" fill="#919191"/><circle cx="439.33" cy="88.55" r="0.98" fill="#888888"/><circle cx="442.88" cy="91.46" r="1.58" fill="#7e7e7e"/><circle cx="441.57" cy="96.08" r="1.46" fill="#828282"/><circle cx="437.86" cy="89.96" r="1.8" fill="#7c7c7c"/><circle cx="437.38" cy="91.31" r="1.29" fill="#646464"/><circle cx="436.92" cy="92.01" r="1.35" fill="#797979"/><circle cx="439.62" cy="91.53" r="1.43" fill="#616161"/><circle cx="437.06" cy="94.37" r="1.05" fill="#7c7c7c"/><circle cx="380.64" cy="188.54" r="1.83" fill="#8e8e8e"/><circle cx="377.23" cy="190.61" r="1.41" fill="#989898"/><circle cx="380.06" cy="190.66" r="1.34" fill="#888888"/><circle cx="377.56" cy="190.12" r="1.63" fill="#898989"/><circle cx="378.76" cy="189.56" r="1.3" fill="#5f5f5f"/><circle cx="507.98" cy="207.78" r="0.96" fill="#8a8a8a"/><circle cx="508.84" cy="203.34" r="1.55" fill="#7b7b7b"/><circle cx="500.81" cy="206.16" r="1.47" fill="#939393"/><circle cx="508.14" cy="205.45" r="1.17" fill="#909090"/><circle cx="503.1" cy="205.4" r="1.27" fill="#6a6a6a"/><circle cx="504.95" cy="205.33" r="1.04" fill="#6e6e6e"/><circle cx="503.68" cy="203.77" r="1.51" fill="#6b6b6b"/><circle cx="472.04" cy="105.42" r="1.65" fill="#888888"/><circle cx="469.76" cy="103.16" r="1.11" fill="#6a6a6a"/><circle cx="471.96" cy="104.34" r="1.89" fill="#787878"/><circle cx="471" cy="100.68" r="1.28" fill="#6b6b6b"/><circle cx="471.05" cy="103.5" r="1.75" fill="#747474"/><circle cx="471.5" cy="103.09" r="1.72" fill="#595959"/><circle cx="472.14" cy="102.96" r="1.7" fill="#747474"/><circle cx="347.76" cy="117.82" r="1.85" fill="#8f8f8f"/><circle cx="346.26" cy="117.19" r="1.09" fill="#898989"/><circle cx="345.23" cy="121.66" r="1.06" fill="#989898"/><circle cx="343.42" cy="120.97" r="0.96" fill="#808080"/><circle cx="345.93" cy="118.43" r="1.86" fill="#969696"/><circle cx="344.49" cy="120.62" r="1.43" fill="#6d6d6d"/><circle cx="373.1" cy="79.43" r="1.6" fill="#8c8c8c"/><circle cx="368.23" cy="78.35" r="1.52" fill="#959595"/><circle cx="368.59" cy="78.23" r="1.17" fill="#878787"/><circle cx="368.95" cy="80.11" r="1.06" fill="#767676"/><circle cx="387.69" cy="116.58" r="1.11" fill="#8a8a8a"/><circle cx="390.52" cy="113.16" r="1.59" fill="#858585"/><circle cx="388.15" cy="114.39" r="1.02" fill="#7f7f7f"/><circle cx="388.64" cy="114.64" r="1.18" fill="#606060"/><circle cx="361.75" cy="146.7" r="1.05" fill="#878787"/><circle cx="361.06" cy="145.09" r="1.89" fill="#848484"/><circle cx="362.05" cy="143.94" r="0.9" fill="#6f6f6f"/><circle cx="363.14" cy="143.8" r="1.74" fill="#6e6e6e"/><circle cx="363.96" cy="144.91" r="1.74" fill="#575757"/><circle cx="363.59" cy="144.66" r="1.48" fill="#424242"/><circle cx="363.59" cy="145.15" r="1.54" fill="#5c5c5c"/><circle cx="440.72" cy="125.68" r="1.71" fill="#989898"/><circle cx="440.76" cy="128.14" r="1.06" fill="#6e6e6e"/><circle cx="442.87" cy="128.79" r="1.51" fill="#777777"/><circle cx="442.71" cy="128.13" r="1.55" fill="#676767"/><circle cx="442.49" cy="127.29" r="1.72" fill="#616161"/><circle cx="394.02" cy="177.61" r="1.9" fill="#838383"/><circle cx="393.87" cy="179.97" r="1.36" fill="#858585"/><circle cx="395.14" cy="178.06" r="1.49" fill="#767676"/><circle cx="396.73" cy="179.25" r="1.8" fill="#5d5d5d"/><circle cx="453.08" cy="90.38" r="1.17" fill="#848484"/><circle cx="447.63" cy="88.28" r="0.92" fill="#8e8e8e"/><circle cx="448.87" cy="87.95" r="1.52" fill="#919191"/><circle cx="448.71" cy="92.11" r="1.51" fill="#959595"/><circle cx="450.76" cy="89.06" r="1.49" fill="#7c7c7c"/><circle cx="450.56" cy="89" r="1.85" fill="#8d8d8d"/><circle cx="451.46" cy="189.81" r="1.14" fill="#969696"/><circle cx="453.06" cy="184.23" r="1.5" fill="#898989"/><circle cx="453.21" cy="185.64" r="1.14" fill="#6c6c6c"/><circle cx="509.19" cy="130.31" r="1.85" fill="#949494"/><circle cx="507.47" cy="132.35" r="1.34" fill="#808080"/><circle cx="507.88" cy="134.3" r="1.47" fill="#717171"/><circle cx="505.24" cy="137.82" r="1.66" fill="#797979"/><circle cx="504.42" cy="136.23" r="1.15" fill="#6e6e6e"/><circle cx="504.76" cy="137.15" r="1.33" fill="#767676"/><circle cx="442.17" cy="66.53" r="1.26" fill="#828282"/><circle cx="435.34" cy="77.71" r="1.05" fill="#818181"/><circle cx="432.98" cy="72.73" r="1.31" fill="#8e8e8e"/><circle cx="439.3" cy="75.98" r="1.23" fill="#848484"/><circle cx="439.13" cy="74.89" r="1.42" fill="#686868"/><circle cx="439.67" cy="72.6" r="1.35" fill="#5b5b5b"/><circle cx="492.36" cy="181.93" r="1.54" fill="#7a7a7a"/><circle cx="490.34" cy="168.16" r="1.34" fill="#939393"/><circle cx="495.04" cy="176.15" r="1.61" fill="#8a8a8a"/><circle cx="482.62" cy="175.39" r="1.42" fill="#858585"/><circle cx="485.32" cy="179.92" r="1.81" fill="#8f8f8f"/><circle cx="483.43" cy="173.06" r="1.51" fill="#858585"/><circle cx="492.61" cy="177.28" r="1.37" fill="#787878"/><circle cx="486.83" cy="170.8" r="1.53" fill="#939393"/><circle cx="491.09" cy="178.19" r="1.57" fill="#808080"/><circle cx="486.12" cy="177.29" r="1.69" fill="#6c6c6c"/><circle cx="487.89" cy="174.12" r="1.17" fill="#515151"/><circle cx="428.13" cy="141.97" r="1.25" fill="#838383"/><circle cx="427.52" cy="143.23" r="1.72" fill="#8e8e8e"/><circle cx="433.05" cy="143.45" r="1.71" fill="#959595"/><circle cx="428.39" cy="144.96" r="1.52" fill="#7d7d7d"/><circle cx="431.04" cy="145.62" r="1.46" fill="#6f6f6f"/><circle cx="431.08" cy="142.58" r="1.4" fill="#777777"/><circle cx="429.61" cy="142.62" r="1.25" fill="#757575"/><circle cx="496.6" cy="133.18" r="1.57" fill="#8a8a8a"/><circle cx="497.31" cy="135.85" r="0.98" fill="#7a7a7a"/><circle cx="497.87" cy="133.64" r="1.12" fill="#797979"/><circle cx="498.28" cy="133.93" r="0.94" fill="#6a6a6a"/><circle cx="443.85" cy="67.24" r="1.17" fill="#8a8a8a"/><circle cx="443.33" cy="67.44" r="1.47" fill="#828282"/><circle cx="441.62" cy="62.05" r="1.75" fill="#707070"/><circle cx="442.33" cy="62.97" r="1.11" fill="#6c6c6c"/><circle cx="443.87" cy="64.61" r="1.57" fill="#747474"/><circle cx="450.16" cy="162.87" r="1.59" fill="#6a6a6a"/><circle cx="451.84" cy="163.54" r="1.47" fill="#606060"/><circle cx="451.29" cy="162.8" r="1.42" fill="#626262"/><circle cx="449.18" cy="193.46" r="1.45" fill="#989898"/><circle cx="447.41" cy="193.06" r="0.95" fill="#898989"/><circle cx="448.08" cy="193.5" r="1.71" fill="#808080"/><circle cx="447.12" cy="195.2" r="1.59" fill="#747474"/><circle cx="447" cy="194.42" r="1.84" fill="#585858"/><circle cx="447.07" cy="194.84" r="1.44" fill="#525252"/><circle cx="466.2" cy="62.5" r="1.8" fill="#939393"/><circle cx="460.84" cy="66.82" r="1.39" fill="#989898"/><circle cx="461.32" cy="64.9" r="1.28" fill="#727272"/><circle cx="463.24" cy="63.76" r="1.34" fill="#616161"/><circle cx="504.09" cy="117.78" r="1.39" fill="#848484"/><circle cx="506.36" cy="116.88" r="1.37" fill="#747474"/><circle cx="506.89" cy="117.26" r="1.58" fill="#646464"/><circle cx="416.06" cy="164.47" r="1.44" fill="#8d8d8d"/><circle cx="418.04" cy="161.57" r="1.39" fill="#717171"/><circle cx="416.7" cy="161.37" r="0.99" fill="#5b5b5b"/><circle cx="417.65" cy="161.56" r="1.55" fill="#626262"/><circle cx="417.69" cy="162.95" r="0.93" fill="#6d6d6d"/><circle cx="416.31" cy="162.9" r="1.83" fill="#616161"/><circle cx="417.55" cy="162.05" r="1.27" fill="#585858"/><circle cx="452.08" cy="178.98" r="1.08" fill="#989898"/><circle cx="450.56" cy="182.98" r="1.84" fill="#8b8b8b"/><circle cx="454.03" cy="182.31" r="1.57" fill="#989898"/><circle cx="451.07" cy="180.71" r="1.84" fill="#979797"/><circle cx="453.2" cy="181.15" r="1.39" fill="#6a6a6a"/><circle cx="451.15" cy="181.07" r="1.05" fill="#737373"/><circle cx="466.31" cy="52.99" r="1.32" fill="#777777"/><circle cx="465.78" cy="51.72" r="1.17" fill="#6f6f6f"/><circle cx="465" cy="51.87" r="1.66" fill="#676767"/><circle cx="445.38" cy="66.06" r="1.46" fill="#929292"/><circle cx="451.88" cy="69.56" r="1.54" fill="#7c7c7c"/><circle cx="448.93" cy="69.53" r="1.61" fill="#646464"/><circle cx="479.83" cy="90.27" r="1.09" fill="#858585"/><circle cx="479.06" cy="84.82" r="1.72" fill="#7f7f7f"/><circle cx="477.93" cy="89.24" r="1.65" fill="#717171"/><circle cx="480.89" cy="88.1" r="1.51" fill="#767676"/><circle cx="479.53" cy="86.56" r="1.15" fill="#717171"/><circle cx="478.81" cy="88.09" r="1.44" fill="#595959"/><circle cx="405.08" cy="213.53" r="1.87" fill="#898989"/><circle cx="407.34" cy="210.52" r="1.46" fill="#818181"/><circle cx="409.1" cy="211.24" r="1.6" fill="#898989"/><circle cx="407.8" cy="211.03" r="1.53" fill="#898989"/><circle cx="408.31" cy="211.9" r="1.48" fill="#676767"/><circle cx="373.2" cy="50.43" r="1.63" fill="#909090"/><circle cx="381.72" cy="54.68" r="1.31" fill="#989898"/><circle cx="375.58" cy="49.7" r="1.59" fill="#8c8c8c"/><circle cx="377.19" cy="51.4" r="1.65" fill="#636363"/><circle cx="442.58" cy="220.1" r="1.75" fill="#8d8d8d"/><circle cx="441.3" cy="204.47" r="1.13" fill="#919191"/><circle cx="443.38" cy="207.11" r="1.54" fill="#858585"/><circle cx="442.92" cy="207.65" r="1.49" fill="#878787"/><circle cx="444.96" cy="214.38" r="1.43" fill="#808080"/><circle cx="442.38" cy="208.58" r="0.93" fill="#7d7d7d"/><circle cx="440.39" cy="209.31" r="1.25" fill="#747474"/><circle cx="439.13" cy="211.68" r="1.27" fill="#8d8d8d"/><circle cx="440.44" cy="209.45" r="1.25" fill="#767676"/><circle cx="439.68" cy="210.92" r="1.79" fill="#7f7f7f"/><circle cx="441.97" cy="213.96" r="1.65" fill="#6e6e6e"/><circle cx="443.9" cy="210.74" r="1.04" fill="#757575"/><circle cx="442.35" cy="211.15" r="1.82" fill="#464646"/><circle cx="473" cy="200.91" r="1.46" fill="#868686"/><circle cx="461.88" cy="201.27" r="1.47" fill="#858585"/><circle cx="465.41" cy="203.22" r="0.97" fill="#808080"/><circle cx="465.89" cy="203.16" r="1.86" fill="#818181"/><circle cx="464.46" cy="202.29" r="1.07" fill="#757575"/><circle cx="464.99" cy="200.1" r="1.42" fill="#6b6b6b"/><circle cx="466.2" cy="198.67" r="1.12" fill="#515151"/><circle cx="451.18" cy="111.8" r="1.74" fill="#878787"/><circle cx="448.87" cy="116.59" r="1.8" fill="#7f7f7f"/><circle cx="449.26" cy="114.08" r="1.52" fill="#555555"/><circle cx="478.06" cy="126.87" r="1.46" fill="#818181"/><circle cx="478.66" cy="128.88" r="1.46" fill="#888888"/><circle cx="478.76" cy="128.87" r="1.83" fill="#828282"/><circle cx="479.35" cy="129.64" r="1.1" fill="#6a6a6a"/><circle cx="480.07" cy="129.76" r="1.57" fill="#686868"/><circle cx="481.41" cy="129.88" r="1.19" fill="#666666"/><circle cx="347.65" cy="70.33" r="0.91" fill="#7d7d7d"/><circle cx="347.88" cy="70.43" r="1.21" fill="#989898"/><circle cx="350.98" cy="70.83" r="1.22" fill="#959595"/><circle cx="349.88" cy="67" r="1.59" fill="#7e7e7e"/><circle cx="350.87" cy="70.03" r="1.57" fill="#6e6e6e"/><circle cx="350.48" cy="69.22" r="1.24" fill="#5e5e5e"/><circle cx="350.46" cy="68.24" r="1.21" fill="#666666"/><circle cx="437.1" cy="84.51" r="1.59" fill="#8b8b8b"/><circle cx="438.02" cy="84.4" r="1.63" fill="#7d7d7d"/><circle cx="439.26" cy="85.51" r="1.71" fill="#6b6b6b"/><circle cx="437.63" cy="85.58" r="1.46" fill="#656565"/><circle cx="438.55" cy="85.23" r="1.22" fill="#696969"/><circle cx="438.59" cy="85.77" r="1.24" fill="#696969"/><circle cx="360.27" cy="65.34" r="1.88" fill="#7e7e7e"/><circle cx="363.67" cy="64.03" r="1.05" fill="#747474"/><circle cx="361.81" cy="64.08" r="1.27" fill="#6e6e6e"/><circle cx="362.05" cy="64.03" r="1.22" fill="#898989"/><circle cx="361.42" cy="65.73" r="1.59" fill="#797979"/><circle cx="361.63" cy="64.83" r="0.92" fill="#6e6e6e"/><circle cx="361.59" cy="65.84" r="1.84" fill="#6d6d6d"/><circle cx="499.08" cy="174.72" r="1.4" fill="#7d7d7d"/><circle cx="500.64" cy="177.1" r="1.55" fill="#8f8f8f"/><circle cx="497.17" cy="176.88" r="1.85" fill="#747474"/><circle cx="461.64" cy="52.51" r="1.3" fill="#818181"/><circle cx="461.26" cy="53.82" r="1.41" fill="#949494"/><circle cx="465.24" cy="56.03" r="1.64" fill="#7e7e7e"/><circle cx="464.45" cy="55.83" r="1" fill="#7e7e7e"/><circle cx="464.59" cy="55.61" r="1.12" fill="#616161"/><circle cx="425.35" cy="123.43" r="1.69" fill="#848484"/><circle cx="426.24" cy="125.88" r="1.48" fill="#757575"/><circle cx="426.05" cy="124.15" r="1.48" fill="#6f6f6f"/><circle cx="426.67" cy="125.17" r="1.4" fill="#585858"/><circle cx="426" cy="124.91" r="1.01" fill="#464646"/><circle cx="480.88" cy="198.04" r="1.86" fill="#8a8a8a"/><circle cx="476.43" cy="199.6" r="1.17" fill="#929292"/><circle cx="479.99" cy="197.08" r="1.57" fill="#989898"/><circle cx="478.3" cy="196.77" r="1.01" fill="#838383"/><circle cx="477.89" cy="197.63" r="1.09" fill="#828282"/><circle cx="479.08" cy="197.47" r="1.6" fill="#909090"/><circle cx="479.32" cy="199.21" r="1.87" fill="#626262"/><circle cx="355.95" cy="69.09" r="1.85" fill="#949494"/><circle cx="361.37" cy="69.83" r="1.55" fill="#8e8e8e"/><circle cx="357.93" cy="66.91" r="1.15" fill="#8b8b8b"/><circle cx="359.96" cy="66.88" r="1.65" fill="#7e7e7e"/><circle cx="382.26" cy="109.23" r="1.43" fill="#7f7f7f"/><circle cx="386.29" cy="109.3" r="1.56" fill="#939393"/><circle cx="383" cy="113.54" r="1.23" fill="#737373"/><circle cx="386.23" cy="112.38" r="1.19" fill="#828282"/><circle cx="385.98" cy="110.67" r="1.56" fill="#747474"/><circle cx="418.39" cy="166.87" r="1.15" fill="#757575"/><circle cx="419.31" cy="167.75" r="1.26" fill="#868686"/><circle cx="417.01" cy="169.35" r="1.85" fill="#6f6f6f"/><circle cx="417.96" cy="168.59" r="1.25" fill="#626262"/><circle cx="479.86" cy="143.61" r="1.57" fill="#929292"/><circle cx="480.89" cy="144.07" r="1.03" fill="#848484"/><circle cx="481.4" cy="147.98" r="1.54" fill="#848484"/><circle cx="358.29" cy="149.92" r="0.93" fill="#818181"/><circle cx="357.33" cy="152.84" r="1.26" fill="#939393"/><circle cx="356.11" cy="151.98" r="1.37" fill="#5f5f5f"/><circle cx="507.08" cy="185.46" r="1.04" fill="#8a8a8a"/><circle cx="505.87" cy="188.73" r="1.41" fill="#7a7a7a"/><circle cx="506.41" cy="186.84" r="1.78" fill="#646464"/><circle cx="498.97" cy="170.8" r="0.95" fill="#808080"/><circle cx="498.08" cy="166.09" r="1.21" fill="#8e8e8e"/><circle cx="500.41" cy="167.45" r="1.78" fill="#7b7b7b"/><circle cx="499.9" cy="168.33" r="1.82" fill="#7d7d7d"/><circle cx="498.12" cy="167.87" r="0.99" fill="#575757"/><circle cx="498.12" cy="168.5" r="1.11" fill="#585858"/><circle cx="496.21" cy="173" r="1.53" fill="#858585"/><circle cx="491.15" cy="174.16" r="1.5" fill="#8c8c8c"/><circle cx="493.27" cy="179.32" r="1.11" fill="#959595"/><circle cx="491.17" cy="177.36" r="1.65" fill="#909090"/><circle cx="493.14" cy="178.61" r="1.78" fill="#787878"/><circle cx="492.88" cy="174.42" r="1.58" fill="#6d6d6d"/><circle cx="492.71" cy="174.58" r="1.68" fill="#7a7a7a"/><circle cx="374.83" cy="165.87" r="1.31" fill="#888888"/><circle cx="375.45" cy="163.55" r="1.79" fill="#7b7b7b"/><circle cx="375.34" cy="164.89" r="1.48" fill="#747474"/><circle cx="378.48" cy="165.02" r="1.76" fill="#7b7b7b"/><circle cx="374.67" cy="165.35" r="1.89" fill="#7e7e7e"/><circle cx="377.26" cy="162.58" r="1.17" fill="#818181"/><circle cx="374.97" cy="165.14" r="1.28" fill="#646464"/><circle cx="376.11" cy="163.44" r="1.23" fill="#616161"/><circle cx="348.26" cy="197.66" r="1.42" fill="#8b8b8b"/><circle cx="349.64" cy="197.38" r="1.56" fill="#8a8a8a"/><circle cx="350.04" cy="198.51" r="1.58" fill="#858585"/><circle cx="351.21" cy="195.1" r="1.07" fill="#818181"/><circle cx="353.14" cy="195.45" r="1.72" fill="#656565"/><circle cx="508.84" cy="59.08" r="1.47" fill="#848484"/><circle cx="507.22" cy="60.76" r="0.94" fill="#7c7c7c"/><circle cx="507.4" cy="58.45" r="1.33" fill="#646464"/><circle cx="372.87" cy="108.89" r="1.1" fill="#8e8e8e"/><circle cx="370.36" cy="113.91" r="1.22" fill="#8f8f8f"/><circle cx="373.77" cy="112.29" r="1.33" fill="#666666"/><circle cx="499.54" cy="129.72" r="1.79" fill="#8b8b8b"/><circle cx="505.64" cy="132.86" r="1.53" fill="#8f8f8f"/><circle cx="500.91" cy="123.73" r="0.96" fill="#828282"/><circle cx="501.93" cy="129.3" r="0.97" fill="#828282"/><circle cx="509.51" cy="125.19" r="1.64" fill="#8e8e8e"/><circle cx="508.08" cy="126.43" r="1.18" fill="#686868"/><circle cx="504.08" cy="127.88" r="1.61" fill="#656565"/><circle cx="503.45" cy="125.91" r="1.14" fill="#737373"/><circle cx="506.72" cy="126.42" r="1.09" fill="#5e5e5e"/><circle cx="504.28" cy="126.75" r="1.7" fill="#585858"/><circle cx="504.52" cy="127.04" r="1.88" fill="#555555"/><circle cx="449.62" cy="193.91" r="1.53" fill="#898989"/><circle cx="452.02" cy="196.26" r="0.96" fill="#888888"/><circle cx="452.49" cy="191.57" r="1.2" fill="#8a8a8a"/><circle cx="451.71" cy="192.07" r="1.78" fill="#818181"/><circle cx="451.04" cy="194.31" r="1.24" fill="#717171"/><circle cx="452.92" cy="193.66" r="1.9" fill="#5f5f5f"/><circle cx="452.23" cy="193.69" r="1.21" fill="#525252"/><circle cx="357.74" cy="215.71" r="1.27" fill="#989898"/><circle cx="363.47" cy="211.4" r="1.32" fill="#919191"/><circle cx="367.97" cy="217.02" r="1.68" fill="#7f7f7f"/><circle cx="363.01" cy="217.02" r="1.33" fill="#6b6b6b"/><circle cx="365.76" cy="217.11" r="1.76" fill="#5a5a5a"/><circle cx="366.02" cy="215.26" r="1.42" fill="#5b5b5b"/><circle cx="364.89" cy="216.31" r="1.23" fill="#5a5a5a"/><circle cx="496.6" cy="47.5" r="0.91" fill="#838383"/><circle cx="500.75" cy="51.31" r="1.46" fill="#8b8b8b"/><circle cx="500.76" cy="50.94" r="1.05" fill="#848484"/><circle cx="497.19" cy="51.55" r="1.14" fill="#777777"/><circle cx="499.53" cy="50.81" r="1.64" fill="#6a6a6a"/><circle cx="406.59" cy="126.37" r="1.04" fill="#898989"/><circle cx="403.53" cy="126.43" r="1.88" fill="#818181"/><circle cx="405.68" cy="124.99" r="1.17" fill="#787878"/><circle cx="405.31" cy="125.52" r="1.54" fill="#595959"/><circle cx="407.21" cy="174.93" r="1.2" fill="#989898"/><circle cx="403.99" cy="185.73" r="1.51" fill="#969696"/><circle cx="409.08" cy="178.89" r="1.25" fill="#8e8e8e"/><circle cx="409.02" cy="179.45" r="1.73" fill="#7c7c7c"/><circle cx="406.31" cy="176.85" r="1.49" fill="#868686"/><circle cx="402.87" cy="177.6" r="0.95" fill="#7d7d7d"/><circle cx="403.89" cy="177.66" r="0.93" fill="#797979"/><circle cx="402.31" cy="181.12" r="1.44" fill="#797979"/><circle cx="407.32" cy="182.42" r="1.42" fill="#727272"/><circle cx="407.67" cy="179.42" r="1.64" fill="#7a7a7a"/><circle cx="406.84" cy="178.61" r="1.41" fill="#808080"/><circle cx="406.99" cy="181.93" r="1.56" fill="#797979"/><circle cx="405.91" cy="181.58" r="1.78" fill="#656565"/><circle cx="482.66" cy="215.88" r="0.94" fill="#919191"/><circle cx="482.47" cy="214.65" r="0.94" fill="#898989"/><circle cx="482.97" cy="213.43" r="1.65" fill="#828282"/><circle cx="485.27" cy="213.57" r="1.47" fill="#737373"/><circle cx="385.66" cy="205.69" r="1.01" fill="#838383"/><circle cx="384.47" cy="206.23" r="1.04" fill="#7d7d7d"/><circle cx="385.35" cy="206.81" r="0.92" fill="#767676"/><circle cx="384.67" cy="208.84" r="1.18" fill="#787878"/><circle cx="384.13" cy="206.66" r="1.61" fill="#757575"/><circle cx="384.55" cy="207.08" r="1.36" fill="#595959"/><circle cx="491.73" cy="56.63" r="0.94" fill="#878787"/><circle cx="494.99" cy="56.25" r="1.28" fill="#828282"/><circle cx="492.45" cy="56.15" r="1.54" fill="#6e6e6e"/><circle cx="493.87" cy="56.58" r="0.91" fill="#5d5d5d"/><circle cx="493.46" cy="56" r="1.55" fill="#535353"/><circle cx="435.99" cy="72.38" r="1.36" fill="#959595"/><circle cx="438.95" cy="80.97" r="1.68" fill="#8d8d8d"/><circle cx="434.28" cy="78.35" r="1.71" fill="#777777"/><circle cx="440.67" cy="78.13" r="1.3" fill="#8c8c8c"/><circle cx="436.52" cy="76.44" r="1.18" fill="#595959"/><circle cx="438.02" cy="77.96" r="1.03" fill="#727272"/><circle cx="436.96" cy="77.22" r="0.98" fill="#5d5d5d"/><circle cx="390.82" cy="152.5" r="1.36" fill="#8d8d8d"/><circle cx="401.44" cy="146.16" r="1.71" fill="#838383"/><circle cx="401.03" cy="150.58" r="1.86" fill="#898989"/><circle cx="392.27" cy="152.58" r="1.78" fill="#959595"/><circle cx="399.3" cy="148.67" r="0.99" fill="#7a7a7a"/><circle cx="392.47" cy="150.01" r="1.37" fill="#8f8f8f"/><circle cx="399.06" cy="148.43" r="0.97" fill="#888888"/><circle cx="393.46" cy="150.49" r="1.3" fill="#797979"/><circle cx="394.63" cy="145.91" r="1.03" fill="#818181"/><circle cx="395.69" cy="146.29" r="1.48" fill="#7d7d7d"/><circle cx="396.59" cy="148.9" r="1.83" fill="#686868"/><circle cx="394.98" cy="148.05" r="1.41" fill="#5c5c5c"/><circle cx="509.87" cy="109.87" r="1.66" fill="#8f8f8f"/><circle cx="509.34" cy="110.55" r="1.03" fill="#777777"/><circle cx="507.6" cy="110.67" r="1.76" fill="#7f7f7f"/><circle cx="509.2" cy="110.45" r="1.37" fill="#7b7b7b"/><circle cx="508.27" cy="109.72" r="1.84" fill="#727272"/><circle cx="508.68" cy="110.01" r="1.31" fill="#5e5e5e"/><circle cx="508.16" cy="110.03" r="1.02" fill="#555555"/><circle cx="490.98" cy="186.25" r="0.91" fill="#878787"/><circle cx="489.59" cy="177.15" r="1.22" fill="#838383"/><circle cx="493.92" cy="178.72" r="1.45" fill="#959595"/><circle cx="489.36" cy="177.34" r="1.21" fill="#989898"/><circle cx="487.02" cy="182.9" r="1.66" fill="#878787"/><circle cx="491.89" cy="177.64" r="0.94" fill="#919191"/><circle cx="491.9" cy="184.57" r="1.37" fill="#989898"/><circle cx="492.71" cy="180.55" r="1.76" fill="#707070"/><circle cx="489.67" cy="179.67" r="0.95" fill="#6e6e6e"/><circle cx="490.75" cy="179.61" r="1.11" fill="#616161"/><circle cx="404.21" cy="174.17" r="1.27" fill="#848484"/><circle cx="406" cy="177.94" r="0.92" fill="#757575"/><circle cx="408.41" cy="177.75" r="1.6" fill="#717171"/><circle cx="408.38" cy="175.74" r="1.6" fill="#7a7a7a"/><circle cx="361.91" cy="127.26" r="1" fill="#8c8c8c"/><circle cx="359.46" cy="125.32" r="1.75" fill="#808080"/><circle cx="356.84" cy="125.83" r="1.71" fill="#7d7d7d"/><circle cx="360.05" cy="127.53" r="1.49" fill="#848484"/><circle cx="357.72" cy="125.63" r="1.16" fill="#7b7b7b"/><circle cx="359.29" cy="127.76" r="1.28" fill="#5c5c5c"/><circle cx="412.06" cy="94.12" r="1.04" fill="#979797"/><circle cx="414.33" cy="88.96" r="1.88" fill="#7e7e7e"/><circle cx="413.74" cy="94.22" r="1.44" fill="#8a8a8a"/><circle cx="416.59" cy="92.93" r="0.94" fill="#717171"/><circle cx="413.44" cy="92.16" r="1.73" fill="#676767"/><circle cx="413.85" cy="91.82" r="1.5" fill="#717171"/><circle cx="502.54" cy="126.47" r="1.46" fill="#838383"/><circle cx="511.55" cy="130.9" r="1.73" fill="#8e8e8e"/><circle cx="509.44" cy="126.58" r="1.64" fill="#878787"/><circle cx="508.12" cy="134.07" r="1.36" fill="#959595"/><circle cx="509" cy="127.06" r="1.07" fill="#939393"/><circle cx="503.32" cy="131.51" r="1.48" fill="#838383"/><circle cx="507.47" cy="133.88" r="1.39" fill="#989898"/><circle cx="509.42" cy="132.42" r="1.7" fill="#7a7a7a"/><circle cx="505.73" cy="132.43" r="1.2" fill="#7c7c7c"/><circle cx="508.89" cy="131.44" r="1.03" fill="#808080"/><circle cx="508.58" cy="129.05" r="1" fill="#7e7e7e"/><circle cx="507.87" cy="128.84" r="1.66" fill="#555555"/><circle cx="417.84" cy="142.28" r="1.46" fill="#989898"/><circle cx="424.77" cy="140.14" r="1.88" fill="#8a8a8a"/><circle cx="426.26" cy="141.63" r="1.62" fill="#848484"/><circle cx="423" cy="140.99" r="1.43" fill="#737373"/><circle cx="423.34" cy="144.67" r="1.61" fill="#898989"/><circle cx="422.4" cy="142.74" r="1.08" fill="#6b6b6b"/><circle cx="422.79" cy="143.12" r="1.24" fill="#6a6a6a"/><circle cx="400.13" cy="194.55" r="1.86" fill="#686868"/><circle cx="398.33" cy="193.58" r="1.76" fill="#7a7a7a"/><circle cx="399.24" cy="192.13" r="1.09" fill="#606060"/><circle cx="399.17" cy="192.39" r="1.29" fill="#5e5e5e"/><circle cx="399.57" cy="192.67" r="1.04" fill="#525252"/><circle cx="378.33" cy="128.37" r="1.59" fill="#949494"/><circle cx="373.38" cy="128.55" r="1.61" fill="#8e8e8e"/><circle cx="373.67" cy="127.9" r="1.04" fill="#929292"/><circle cx="374.57" cy="128.19" r="1.63" fill="#8a8a8a"/><circle cx="376.92" cy="127.7" r="1.03" fill="#878787"/><circle cx="421.15" cy="100.79" r="1.87" fill="#979797"/><circle cx="424.18" cy="97.44" r="0.94" fill="#8e8e8e"/><circle cx="422.45" cy="100.83" r="1.83" fill="#818181"/><circle cx="423.41" cy="100.57" r="1.53" fill="#7d7d7d"/><circle cx="434.86" cy="206.51" r="1.66" fill="#858585"/><circle cx="434.06" cy="209.23" r="1.11" fill="#909090"/><circle cx="434.8" cy="209.77" r="0.96" fill="#767676"/><circle cx="435.37" cy="209.79" r="1.8" fill="#717171"/><circle cx="372.5" cy="72.06" r="1.73" fill="#8e8e8e"/><circle cx="367.36" cy="73.05" r="1.89" fill="#868686"/><circle cx="369.14" cy="76.69" r="1.12" fill="#8c8c8c"/><circle cx="368.33" cy="75.03" r="1.15" fill="#7d7d7d"/><circle cx="370.14" cy="73.97" r="1.52" fill="#6c6c6c"/><circle cx="487.28" cy="167.85" r="1.42" fill="#939393"/><circle cx="481.77" cy="165.44" r="1.39" fill="#8b8b8b"/><circle cx="481.91" cy="167.73" r="1.29" fill="#707070"/><circle cx="481.56" cy="169.36" r="1.47" fill="#7f7f7f"/><circle cx="481.98" cy="168.73" r="0.98" fill="#626262"/><circle cx="475.07" cy="193.1" r="1.37" fill="#757575"/><circle cx="476.18" cy="190.24" r="1.53" fill="#919191"/><circle cx="475.85" cy="189.63" r="1.31" fill="#898989"/><circle cx="472.89" cy="189.53" r="1.56" fill="#5a5a5a"/><circle cx="494.14" cy="152.41" r="1.66" fill="#858585"/><circle cx="491.94" cy="152.53" r="1.03" fill="#6e6e6e"/><circle cx="489.73" cy="153.5" r="1.59" fill="#676767"/><circle cx="490.97" cy="153.16" r="0.9" fill="#575757"/><circle cx="477.95" cy="118.73" r="1.8" fill="#969696"/><circle cx="475.34" cy="117.27" r="0.97" fill="#989898"/><circle cx="478.64" cy="116.57" r="1.19" fill="#909090"/><circle cx="477.08" cy="116.41" r="1.81" fill="#868686"/><circle cx="476.42" cy="114.87" r="1.89" fill="#5e5e5e"/><circle cx="476.6" cy="114.92" r="0.92" fill="#5e5e5e"/><circle cx="443.08" cy="149.03" r="1.78" fill="#878787"/><circle cx="439.58" cy="149.85" r="1.19" fill="#6d6d6d"/><circle cx="441.71" cy="149.61" r="1.87" fill="#636363"/><circle cx="506.36" cy="101.67" r="1.29" fill="#8b8b8b"/><circle cx="500.14" cy="100.11" r="1.64" fill="#929292"/><circle cx="504.34" cy="99.92" r="1.05" fill="#8d8d8d"/><circle cx="500.04" cy="102.53" r="1.29" fill="#7c7c7c"/><circle cx="504.28" cy="102.97" r="1.75" fill="#727272"/><circle cx="501.35" cy="100.6" r="1.89" fill="#5f5f5f"/><circle cx="502.38" cy="101.63" r="0.91" fill="#656565"/><circle cx="509.65" cy="217.56" r="1.11" fill="#898989"/><circle cx="509.35" cy="206.63" r="1.67" fill="#949494"/><circle cx="510.31" cy="214.86" r="1.27" fill="#909090"/><circle cx="506.67" cy="207.58" r="1.18" fill="#919191"/><circle cx="510.45" cy="213.59" r="1.79" fill="#868686"/><circle cx="507.79" cy="215.08" r="0.93" fill="#898989"/><circle cx="509" cy="208.23" r="1.37" fill="#7a7a7a"/><circle cx="508.32" cy="213.05" r="1.6" fill="#626262"/><circle cx="509.21" cy="210.83" r="1.63" fill="#6a6a6a"/><circle cx="507.18" cy="209.67" r="1.57" fill="#4e4e4e"/><circle cx="505.94" cy="210.97" r="1.15" fill="#696969"/><circle cx="507.53" cy="209.97" r="1.24" fill="#6d6d6d"/><circle cx="507.74" cy="212.62" r="1.28" fill="#636363"/><circle cx="411.2" cy="63.71" r="0.92" fill="#8e8e8e"/><circle cx="412.35" cy="70.26" r="1.19" fill="#919191"/><circle cx="410.09" cy="71.61" r="1.84" fill="#8d8d8d"/><circle cx="409.88" cy="66.09" r="1.53" fill="#656565"/><circle cx="405.7" cy="70.07" r="1.34" fill="#737373"/><circle cx="408.63" cy="69.56" r="1.16" fill="#505050"/><circle cx="470.81" cy="67.99" r="1.57" fill="#7e7e7e"/><circle cx="462.65" cy="66.98" r="0.97" fill="#7e7e7e"/><circle cx="467.88" cy="68.03" r="1.24" fill="#909090"/><circle cx="465.62" cy="67.33" r="1.09" fill="#7f7f7f"/><circle cx="470.11" cy="63.03" r="1.03" fill="#767676"/><circle cx="464.1" cy="62.01" r="1.86" fill="#747474"/><circle cx="467.59" cy="61.39" r="1.44" fill="#666666"/><circle cx="488.26" cy="152.64" r="1.68" fill="#8a8a8a"/><circle cx="490.75" cy="156.08" r="1.24" fill="#6e6e6e"/><circle cx="490.66" cy="155.38" r="1.29" fill="#7e7e7e"/><circle cx="402.31" cy="186.32" r="1.85" fill="#6c6c6c"/><circle cx="404.27" cy="186.4" r="1.35" fill="#939393"/><circle cx="403.51" cy="187.39" r="1.07" fill="#575757"/><circle cx="404.42" cy="99.26" r="1.65" fill="#979797"/><circle cx="409.94" cy="93.96" r="1.31" fill="#959595"/><circle cx="406.75" cy="98.92" r="1.8" fill="#888888"/><circle cx="410.23" cy="94.84" r="1.44" fill="#888888"/><circle cx="410.02" cy="100.51" r="0.98" fill="#7d7d7d"/><circle cx="408.53" cy="97.52" r="1.25" fill="#808080"/><circle cx="411.28" cy="99.83" r="1.53" fill="#797979"/><circle cx="408.85" cy="97.58" r="1" fill="#6c6c6c"/><circle cx="411.45" cy="99.36" r="1.77" fill="#696969"/><circle cx="411.15" cy="98.88" r="1.47" fill="#626262"/><circle cx="496.62" cy="209.89" r="1.13" fill="#888888"/><circle cx="492.24" cy="197.68" r="1.83" fill="#818181"/><circle cx="491.59" cy="207.21" r="1.58" fill="#868686"/><circle cx="490.5" cy="205.28" r="1.69" fill="#7b7b7b"/><circle cx="493.29" cy="201.61" r="1.1" fill="#676767"/><circle cx="493.66" cy="201.98" r="1.49" fill="#787878"/><circle cx="492.98" cy="203.77" r="1.83" fill="#585858"/><circle cx="408.25" cy="80.69" r="1.1" fill="#909090"/><circle cx="405.47" cy="80.01" r="1.42" fill="#858585"/><circle cx="401.22" cy="87.98" r="1.09" fill="#7c7c7c"/><circle cx="408.43" cy="88.59" r="1.04" fill="#979797"/><circle cx="405.33" cy="82.47" r="1.38" fill="#8a8a8a"/><circle cx="404.81" cy="85.51" r="1.78" fill="#5f5f5f"/><circle cx="405.44" cy="86.01" r="1.24" fill="#545454"/><circle cx="397.84" cy="161.5" r="1.87" fill="#7a7a7a"/><circle cx="398.42" cy="164.1" r="1.75" fill="#838383"/><circle cx="394.58" cy="162.41" r="1.62" fill="#888888"/><circle cx="397.13" cy="163.67" r="1.26" fill="#6a6a6a"/><circle cx="384.24" cy="127.01" r="1.83" fill="#7c7c7c"/><circle cx="384.86" cy="129.92" r="1.88" fill="#707070"/><circle cx="384.81" cy="129.79" r="1.1" fill="#797979"/><circle cx="385.02" cy="128.85" r="1.9" fill="#646464"/><circle cx="383.15" cy="128.3" r="1.23" fill="#6e6e6e"/><circle cx="384.58" cy="129.06" r="1.12" fill="#666666"/><circle cx="383.59" cy="128.28" r="1.07" fill="#4f4f4f"/><circle cx="411.17" cy="67.5" r="1.22" fill="#868686"/><circle cx="411.21" cy="66.52" r="1.18" fill="#7e7e7e"/><circle cx="412.26" cy="63.82" r="1.07" fill="#6b6b6b"/><circle cx="410.09" cy="63.25" r="1.54" fill="#6a6a6a"/><circle cx="410.51" cy="65.41" r="1.34" fill="#636363"/><circle cx="411.33" cy="63.5" r="1.88" fill="#5f5f5f"/><circle cx="411.16" cy="64.21" r="1.4" fill="#4b4b4b"/><circle cx="469.14" cy="54.14" r="1.06" fill="#6c6c6c"/><circle cx="467.18" cy="54.74" r="1.47" fill="#5f5f5f"/><circle cx="467.47" cy="54" r="1.76" fill="#515151"/><circle cx="468.32" cy="53.95" r="1.27" fill="#565656"/><circle cx="392.05" cy="107.2" r="1.23" fill="#919191"/><circle cx="390.03" cy="107.11" r="1.16" fill="#8b8b8b"/><circle cx="389.52" cy="108" r="1.9" fill="#757575"/><circle cx="389.32" cy="109.76" r="0.92" fill="#737373"/><circle cx="391.39" cy="109.44" r="1.63" fill="#5a5a5a"/><circle cx="389.93" cy="109.92" r="1.18" fill="#6e6e6e"/><circle cx="490.97" cy="104.33" r="1.49" fill="#8e8e8e"/><circle cx="502.83" cy="110.56" r="1.3" fill="#989898"/><circle cx="496.71" cy="112.62" r="1.63" fill="#777777"/><circle cx="496.64" cy="104.84" r="1.29" fill="#8c8c8c"/><circle cx="499.98" cy="110.22" r="1.46" fill="#717171"/><circle cx="499.58" cy="107.42" r="1.75" fill="#737373"/><circle cx="494.57" cy="108.05" r="1.14" fill="#777777"/><circle cx="496.11" cy="108.24" r="0.97" fill="#5e5e5e"/><circle cx="497.41" cy="109.41" r="1.43" fill="#616161"/><circle cx="457.28" cy="137.19" r="1.61" fill="#909090"/><circle cx="461.55" cy="136.28" r="1.51" fill="#606060"/><circle cx="460.74" cy="135.41" r="1.84" fill="#727272"/><circle cx="413.42" cy="158.16" r="1.08" fill="#7c7c7c"/><circle cx="411.85" cy="153.45" r="1.12" fill="#808080"/><circle cx="413.07" cy="152.55" r="1.61" fill="#8b8b8b"/><circle cx="414.04" cy="154.53" r="1.55" fill="#696969"/><circle cx="451.7" cy="162.52" r="1.88" fill="#7e7e7e"/><circle cx="445.3" cy="158.92" r="1.66" fill="#787878"/><circle cx="449.7" cy="159.78" r="1.78" fill="#7f7f7f"/><circle cx="450.06" cy="156.33" r="0.94" fill="#5c5c5c"/><circle cx="456.89" cy="88.92" r="1.62" fill="#919191"/><circle cx="456" cy="88.13" r="1.49" fill="#939393"/><circle cx="453.54" cy="87.75" r="1.71" fill="#737373"/><circle cx="499.29" cy="186.05" r="1.36" fill="#858585"/><circle cx="497.13" cy="189.46" r="1.45" fill="#989898"/><circle cx="498.08" cy="189.03" r="0.92" fill="#707070"/><circle cx="499.59" cy="188.43" r="1.48" fill="#595959"/><circle cx="499.06" cy="188.52" r="1.78" fill="#4c4c4c"/><circle cx="350.81" cy="50.97" r="1.16" fill="#959595"/><circle cx="345.08" cy="57.56" r="1.36" fill="#969696"/><circle cx="347.29" cy="52.6" r="0.93" fill="#989898"/><circle cx="348.85" cy="52.3" r="1.45" fill="#8a8a8a"/><circle cx="351.11" cy="54" r="0.93" fill="#848484"/><circle cx="350.78" cy="54.85" r="1.85" fill="#797979"/><circle cx="348.82" cy="54.14" r="1.72" fill="#707070"/><circle cx="463.36" cy="107.64" r="1.08" fill="#828282"/><circle cx="460.73" cy="104.21" r="1.1" fill="#878787"/><circle cx="460.09" cy="104.06" r="1.58" fill="#8d8d8d"/><circle cx="457.92" cy="105.89" r="1.42" fill="#747474"/><circle cx="458.28" cy="109.06" r="1.89" fill="#737373"/><circle cx="459.25" cy="108.83" r="1.89" fill="#696969"/><circle cx="474.59" cy="63.06" r="1.67" fill="#868686"/><circle cx="478.32" cy="64.88" r="1.17" fill="#848484"/><circle cx="475.73" cy="63" r="1.47" fill="#797979"/><circle cx="478.33" cy="59.73" r="1.6" fill="#979797"/><circle cx="479.55" cy="61.47" r="1.76" fill="#797979"/><circle cx="478.9" cy="61.82" r="1.77" fill="#656565"/><circle cx="477.35" cy="62.1" r="1.48" fill="#666666"/><circle cx="445.49" cy="188.46" r="1.62" fill="#858585"/><circle cx="445.01" cy="188.82" r="1.55" fill="#868686"/><circle cx="444.99" cy="189.65" r="1.12" fill="#6d6d6d"/><circle cx="352.43" cy="195.77" r="1.83" fill="#7f7f7f"/><circle cx="344.99" cy="188.29" r="1.89" fill="#8a8a8a"/><circle cx="346.04" cy="197.58" r="1.79" fill="#858585"/><circle cx="347.21" cy="197.04" r="1.71" fill="#919191"/><circle cx="341.86" cy="192.72" r="1.61" fill="#797979"/><circle cx="348.03" cy="192.34" r="1.59" fill="#8e8e8e"/><circle cx="345.74" cy="191.24" r="1.27" fill="#7a7a7a"/><circle cx="347.37" cy="194.71" r="1.36" fill="#7d7d7d"/><circle cx="343.27" cy="193.71" r="1.55" fill="#646464"/><circle cx="346.87" cy="194.22" r="1.81" fill="#6c6c6c"/><circle cx="344.05" cy="193.83" r="1.72" fill="#6f6f6f"/><circle cx="345.01" cy="193.56" r="1.3" fill="#595959"/><circle cx="461.43" cy="175.09" r="1.27" fill="#8a8a8a"/><circle cx="464.48" cy="186.02" r="1.48" fill="#909090"/><circle cx="468.63" cy="186.15" r="1.87" fill="#878787"/><circle cx="462.23" cy="181.78" r="1.57" fill="#939393"/><circle cx="472.12" cy="180.14" r="1.04" fill="#8e8e8e"/><circle cx="469.4" cy="177.02" r="1.02" fill="#959595"/><circle cx="469.86" cy="178.33" r="1.23" fill="#8a8a8a"/><circle cx="470.79" cy="181.59" r="0.95" fill="#838383"/><circle cx="469.22" cy="180.16" r="1.21" fill="#686868"/><circle cx="469.36" cy="180.91" r="1.36" fill="#6b6b6b"/><circle cx="466.47" cy="180.22" r="1.72" fill="#595959"/><circle cx="467.09" cy="181.82" r="1.6" fill="#767676"/><circle cx="410.59" cy="62.39" r="1.47" fill="#8b8b8b"/><circle cx="409.72" cy="58.74" r="1.52" fill="#858585"/><circle cx="410.82" cy="58.14" r="1.6" fill="#808080"/><circle cx="412.85" cy="60.78" r="0.97" fill="#6d6d6d"/><circle cx="411.94" cy="59.63" r="1.43" fill="#585858"/><circle cx="411.62" cy="60.04" r="0.99" fill="#666666"/><circle cx="420.26" cy="109.27" r="1.26" fill="#838383"/><circle cx="424.88" cy="111.81" r="1.02" fill="#767676"/><circle cx="422.09" cy="109.05" r="1.87" fill="#6b6b6b"/><circle cx="474.32" cy="202.76" r="1.08" fill="#8d8d8d"/><circle cx="475.13" cy="198.06" r="1.61" fill="#969696"/><circle cx="468.19" cy="197.74" r="1.01" fill="#959595"/><circle cx="468.84" cy="197.78" r="1.03" fill="#6a6a6a"/><circle cx="435.85" cy="148.45" r="1.42" fill="#989898"/><circle cx="436.3" cy="141.82" r="1.47" fill="#888888"/><circle cx="437.06" cy="147.16" r="1.61" fill="#6e6e6e"/><circle cx="435.84" cy="143.45" r="1.78" fill="#6f6f6f"/><circle cx="435.4" cy="145.75" r="1.28" fill="#747474"/><circle cx="436.52" cy="143.94" r="1.74" fill="#646464"/><circle cx="436.31" cy="144.57" r="1.67" fill="#5e5e5e"/><circle cx="437.48" cy="144.49" r="1.41" fill="#5c5c5c"/><circle cx="424.93" cy="205.43" r="1.11" fill="#8a8a8a"/><circle cx="434.1" cy="202.71" r="1.18" fill="#898989"/><circle cx="428.94" cy="200.64" r="1.56" fill="#8a8a8a"/><circle cx="433.33" cy="204.02" r="1.5" fill="#888888"/><circle cx="428.88" cy="202.45" r="1.87" fill="#6f6f6f"/><circle cx="431.14" cy="202.06" r="1.27" fill="#7a7a7a"/><circle cx="430.47" cy="203.46" r="1.76" fill="#474747"/><circle cx="345.16" cy="202.87" r="1.6" fill="#7b7b7b"/><circle cx="344.69" cy="201.47" r="1.09" fill="#747474"/><circle cx="344.87" cy="202.36" r="0.91" fill="#6d6d6d"/><circle cx="344.06" cy="203.1" r="1.54" fill="#5d5d5d"/><circle cx="488.85" cy="118.64" r="1.69" fill="#888888"/><circle cx="488.18" cy="120.94" r="0.94" fill="#8d8d8d"/><circle cx="484.69" cy="120.51" r="1.77" fill="#777777"/><circle cx="483.25" cy="121.61" r="1.2" fill="#8b8b8b"/><circle cx="482.42" cy="124.79" r="1.54" fill="#888888"/><circle cx="485.7" cy="127.58" r="1.83" fill="#757575"/><circle cx="484.52" cy="121.52" r="1.47" fill="#7d7d7d"/><circle cx="484.71" cy="122.18" r="1.85" fill="#848484"/><circle cx="484.13" cy="122.7" r="1.8" fill="#707070"/><circle cx="486.31" cy="121.97" r="1.4" fill="#787878"/><circle cx="487.37" cy="125.16" r="1.27" fill="#686868"/><circle cx="486.8" cy="124.36" r="1.79" fill="#565656"/><circle cx="485.35" cy="123.84" r="1.74" fill="#535353"/><circle cx="409.93" cy="202.77" r="0.91" fill="#959595"/><circle cx="412.74" cy="203.36" r="1.21" fill="#848484"/><circle cx="408.16" cy="206.28" r="1.46" fill="#8e8e8e"/><circle cx="411.34" cy="204.84" r="1.71" fill="#6d6d6d"/><circle cx="412.26" cy="206.12" r="1.32" fill="#7b7b7b"/><circle cx="410.58" cy="204.87" r="1.04" fill="#7b7b7b"/><circle cx="381.16" cy="151.42" r="1.21" fill="#8d8d8d"/><circle cx="379.44" cy="154.6" r="1.81" fill="#818181"/><circle cx="383.12" cy="153.4" r="1.71" fill="#727272"/><circle cx="383.15" cy="154.54" r="1.09" fill="#727272"/><circle cx="422.34" cy="118.15" r="1.05" fill="#878787"/><circle cx="422.89" cy="115.75" r="1.86" fill="#838383"/><circle cx="421.92" cy="117.99" r="1.73" fill="#767676"/><circle cx="421.61" cy="115.31" r="1.81" fill="#6f6f6f"/><circle cx="421.34" cy="115.62" r="1.42" fill="#5a5a5a"/><circle cx="421.5" cy="116.06" r="1.04" fill="#636363"/><circle cx="421.41" cy="116.97" r="1.1" fill="#5e5e5e"/><circle cx="358.13" cy="180.36" r="1.48" fill="#989898"/><circle cx="359.33" cy="176.93" r="1.76" fill="#959595"/><circle cx="353.07" cy="170.59" r="1.73" fill="#7f7f7f"/><circle cx="357.96" cy="177.07" r="0.94" fill="#909090"/><circle cx="354.41" cy="170.96" r="1.5" fill="#7f7f7f"/><circle cx="353.45" cy="176.23" r="1.71" fill="#767676"/><circle cx="358.26" cy="174.89" r="1.14" fill="#868686"/><circle cx="353.15" cy="175.28" r="1.4" fill="#595959"/><circle cx="357.66" cy="175.63" r="1.1" fill="#616161"/><circle cx="356.1" cy="176.29" r="1.16" fill="#737373"/><circle cx="355.94" cy="176.13" r="1.85" fill="#676767"/><circle cx="354.45" cy="173.33" r="1.4" fill="#595959"/><circle cx="406.67" cy="58.17" r="1.87" fill="#929292"/><circle cx="407.64" cy="56.58" r="1.33" fill="#8f8f8f"/><circle cx="405.4" cy="53.91" r="1.09" fill="#959595"/><circle cx="405.92" cy="55.45" r="1.36" fill="#575757"/><circle cx="397.86" cy="84.12" r="1.09" fill="#8b8b8b"/><circle cx="392.15" cy="88.91" r="1.71" fill="#878787"/><circle cx="393.65" cy="78.24" r="1.87" fill="#949494"/><circle cx="390.86" cy="81.71" r="1.19" fill="#636363"/><circle cx="386.94" cy="81.02" r="1.66" fill="#777777"/><circle cx="390.82" cy="80.86" r="1.69" fill="#6c6c6c"/><circle cx="387.4" cy="80.84" r="1.05" fill="#6c6c6c"/><circle cx="463.55" cy="89.68" r="1.29" fill="#909090"/><circle cx="467.6" cy="89.44" r="1.82" fill="#6d6d6d"/><circle cx="467.65" cy="89.89" r="1.42" fill="#676767"/><circle cx="464.47" cy="81.65" r="1.67" fill="#898989"/><circle cx="464.11" cy="84.48" r="1.77" fill="#7d7d7d"/><circle cx="465.06" cy="84.28" r="1.69" fill="#737373"/><circle cx="464.46" cy="82.22" r="1.73" fill="#737373"/><circle cx="463.83" cy="83.9" r="1.17" fill="#666666"/><circle cx="464.31" cy="83.65" r="1.24" fill="#636363"/><circle cx="464.49" cy="82.82" r="1.08" fill="#535353"/><circle cx="468.89" cy="214.61" r="1.38" fill="#929292"/><circle cx="465.39" cy="217.23" r="1.41" fill="#828282"/><circle cx="466.31" cy="213.56" r="1.4" fill="#838383"/><circle cx="383.99" cy="118.73" r="1.74" fill="#8d8d8d"/><circle cx="380.88" cy="124.73" r="1.31" fill="#868686"/><circle cx="385.6" cy="124.93" r="1.51" fill="#8d8d8d"/><circle cx="381.12" cy="123.41" r="1.77" fill="#828282"/><circle cx="384.29" cy="121.06" r="1.63" fill="#6e6e6e"/><circle cx="383.99" cy="121.33" r="1.12" fill="#838383"/><circle cx="348.21" cy="199.44" r="1.48" fill="#868686"/><circle cx="350.21" cy="191.54" r="0.99" fill="#818181"/><circle cx="348.22" cy="189.4" r="1.75" fill="#8c8c8c"/><circle cx="349.16" cy="195.51" r="1.12" fill="#8a8a8a"/><circle cx="347.81" cy="192.36" r="1" fill="#7c7c7c"/><circle cx="343.25" cy="194.12" r="0.93" fill="#787878"/><circle cx="345.68" cy="195.63" r="1.38" fill="#686868"/><circle cx="344.38" cy="194.38" r="0.91" fill="#4c4c4c"/><circle cx="345.34" cy="194.71" r="1.77" fill="#5d5d5d"/><circle cx="345.25" cy="194.66" r="0.91" fill="#4c4c4c"/><circle cx="344.73" cy="193.68" r="1.29" fill="#4c4c4c"/><circle cx="424.9" cy="54.56" r="1.82" fill="#888888"/><circle cx="424.54" cy="57.15" r="1.37" fill="#787878"/><circle cx="419.95" cy="56.68" r="1.3" fill="#888888"/><circle cx="421.43" cy="57.43" r="1.22" fill="#888888"/><circle cx="423.38" cy="55.42" r="1.37" fill="#676767"/><circle cx="422.16" cy="56.68" r="1.07" fill="#5b5b5b"/><circle cx="346.56" cy="162.8" r="1.17" fill="#858585"/><circle cx="347.54" cy="162.06" r="1.15" fill="#848484"/><circle cx="345.52" cy="157.46" r="1.06" fill="#686868"/><circle cx="363.64" cy="213.68" r="1.12" fill="#989898"/><circle cx="368.15" cy="214.53" r="1.29" fill="#8b8b8b"/><circle cx="368.24" cy="213.15" r="1.09" fill="#6e6e6e"/><circle cx="417.74" cy="163.99" r="1.37" fill="#8a8a8a"/><circle cx="415.63" cy="162.02" r="1.43" fill="#8d8d8d"/><circle cx="421.43" cy="155.29" r="1.34" fill="#868686"/><circle cx="414.58" cy="158.79" r="1.56" fill="#8c8c8c"/><circle cx="418.62" cy="161.17" r="1.38" fill="#7f7f7f"/><circle cx="417.03" cy="159.82" r="1.78" fill="#787878"/><circle cx="420.22" cy="158.84" r="0.91" fill="#656565"/><circle cx="419.54" cy="159.73" r="1" fill="#646464"/><circle cx="419.96" cy="157.59" r="1.39" fill="#737373"/><circle cx="419.32" cy="158.29" r="1.01" fill="#656565"/><circle cx="419.04" cy="158.76" r="1.46" fill="#595959"/><circle cx="370" cy="214.89" r="0.9" fill="#929292"/><circle cx="370.12" cy="212.86" r="1.57" fill="#989898"/><circle cx="367.93" cy="213.83" r="1.27" fill="#797979"/><circle cx="367.39" cy="213.2" r="1.54" fill="#6c6c6c"/><circle cx="367.22" cy="212.71" r="1.1" fill="#7f7f7f"/><circle cx="368.05" cy="211.58" r="1.76" fill="#787878"/><circle cx="368.76" cy="212.79" r="1.58" fill="#606060"/><circle cx="463.72" cy="160.91" r="1.08" fill="#838383"/><circle cx="462.05" cy="160.32" r="1.29" fill="#848484"/><circle cx="460.51" cy="158.31" r="1.78" fill="#7f7f7f"/><circle cx="461.88" cy="158.67" r="0.93" fill="#606060"/><circle cx="409.46" cy="130.08" r="1.14" fill="#909090"/><circle cx="405.28" cy="129.73" r="1.37" fill="#818181"/><circle cx="404.63" cy="127.96" r="1.47" fill="#848484"/><circle cx="404.79" cy="127.77" r="1.46" fill="#878787"/><circle cx="409.3" cy="128.08" r="1.01" fill="#727272"/><circle cx="407.51" cy="125.77" r="1.2" fill="#6d6d6d"/><circle cx="408.09" cy="126.76" r="1.87" fill="#686868"/><circle cx="501.78" cy="61.65" r="1.38" fill="#8b8b8b"/><circle cx="501.69" cy="61.67" r="1.62" fill="#8e8e8e"/><circle cx="497.74" cy="63.06" r="1.08" fill="#8e8e8e"/><circle cx="497.4" cy="62.83" r="0.93" fill="#858585"/><circle cx="369.33" cy="150.19" r="1.46" fill="#828282"/><circle cx="370.36" cy="146.27" r="1.23" fill="#797979"/><circle cx="367.36" cy="149.52" r="1.68" fill="#777777"/><circle cx="368.97" cy="147.75" r="1.83" fill="#676767"/><circle cx="365.48" cy="146.98" r="1.48" fill="#787878"/><circle cx="368.93" cy="147.13" r="1.2" fill="#808080"/><circle cx="367.3" cy="148.47" r="1.33" fill="#515151"/><circle cx="500.9" cy="124.91" r="1.1" fill="#858585"/><circle cx="499.69" cy="123.64" r="1.11" fill="#737373"/><circle cx="499.22" cy="124.77" r="1.13" fill="#848484"/><circle cx="498.21" cy="124.4" r="1.24" fill="#686868"/><circle cx="498.48" cy="123.46" r="1.13" fill="#737373"/><circle cx="366.85" cy="190.31" r="1.44" fill="#919191"/><circle cx="366.33" cy="189.88" r="1.84" fill="#808080"/><circle cx="362.67" cy="190.66" r="1.84" fill="#858585"/><circle cx="365.86" cy="193.86" r="0.99" fill="#7e7e7e"/><circle cx="365.21" cy="191.89" r="0.93" fill="#7a7a7a"/><circle cx="363.84" cy="191.99" r="1.16" fill="#5d5d5d"/><circle cx="482.36" cy="195.78" r="1.02" fill="#8c8c8c"/><circle cx="485.43" cy="192.16" r="1.03" fill="#8f8f8f"/><circle cx="486.14" cy="194.77" r="1.61" fill="#7f7f7f"/><circle cx="484.88" cy="194.51" r="1.64" fill="#666666"/><circle cx="495.04" cy="118.51" r="1.49" fill="#8a8a8a"/><circle cx="495.65" cy="117.3" r="0.94" fill="#7d7d7d"/><circle cx="495.91" cy="115.32" r="1.59" fill="#666666"/><circle cx="466.13" cy="105.47" r="1.84" fill="#8d8d8d"/><circle cx="465.26" cy="101.33" r="1.28" fill="#767676"/><circle cx="462.58" cy="105.16" r="1.63" fill="#7b7b7b"/><circle cx="460.7" cy="103.66" r="0.91" fill="#7d7d7d"/><circle cx="463.58" cy="102.43" r="1.28" fill="#797979"/><circle cx="463.19" cy="103.38" r="1.71" fill="#6e6e6e"/><circle cx="373.96" cy="165.67" r="1.27" fill="#8f8f8f"/><circle cx="372.98" cy="164.54" r="1.58" fill="#777777"/><circle cx="371.65" cy="160.19" r="1.77" fill="#8e8e8e"/><circle cx="368.94" cy="162.36" r="1.71" fill="#787878"/><circle cx="370.48" cy="163.78" r="1.37" fill="#767676"/><circle cx="470.08" cy="127.25" r="1.59" fill="#7b7b7b"/><circle cx="472.98" cy="135.82" r="1.7" fill="#929292"/><circle cx="472.17" cy="133.96" r="1.85" fill="#8a8a8a"/><circle cx="470.79" cy="132.57" r="1.6" fill="#939393"/><circle cx="466.76" cy="134.79" r="1.57" fill="#838383"/><circle cx="467.41" cy="134.91" r="1.83" fill="#6a6a6a"/><circle cx="361.5" cy="71.8" r="1.77" fill="#808080"/><circle cx="347.4" cy="73.32" r="1.46" fill="#909090"/><circle cx="351.58" cy="68.56" r="1.73" fill="#909090"/><circle cx="359.46" cy="75.63" r="1.07" fill="#858585"/><circle cx="354.66" cy="69.06" r="1.36" fill="#8d8d8d"/><circle cx="353.68" cy="70.15" r="1.68" fill="#8b8b8b"/><circle cx="351.54" cy="74.24" r="1.51" fill="#757575"/><circle cx="356.67" cy="73.51" r="1.06" fill="#777777"/><circle cx="355.12" cy="72.01" r="1.73" fill="#757575"/><circle cx="356.13" cy="75.57" r="0.98" fill="#696969"/><circle cx="354.91" cy="76.39" r="1.2" fill="#666666"/><circle cx="352.92" cy="73.67" r="1.24" fill="#5f5f5f"/><circle cx="353.84" cy="73.45" r="1.75" fill="#616161"/><circle cx="487.16" cy="57.69" r="1.2" fill="#929292"/><circle cx="489.93" cy="59.67" r="1.78" fill="#7b7b7b"/><circle cx="487.71" cy="62.57" r="1.41" fill="#7f7f7f"/><circle cx="486.81" cy="62.38" r="1.64" fill="#7f7f7f"/><circle cx="488.04" cy="60.82" r="1.41" fill="#4e4e4e"/><circle cx="473.11" cy="75.01" r="1.74" fill="#969696"/><circle cx="476.63" cy="73.91" r="1.17" fill="#8b8b8b"/><circle cx="478.81" cy="76.64" r="1.7" fill="#8e8e8e"/><circle cx="478.5" cy="76.94" r="1.65" fill="#929292"/><circle cx="478.23" cy="75.95" r="0.95" fill="#7d7d7d"/><circle cx="475.63" cy="77.08" r="1.83" fill="#7a7a7a"/><circle cx="484.13" cy="103.45" r="1.4" fill="#8a8a8a"/><circle cx="487.79" cy="106.65" r="1.23" fill="#747474"/><circle cx="486.15" cy="105.42" r="1.59" fill="#777777"/><circle cx="487.46" cy="106.13" r="1.48" fill="#646464"/><circle cx="415.43" cy="176.77" r="1.61" fill="#949494"/><circle cx="412.96" cy="169.85" r="1.65" fill="#939393"/><circle cx="413.61" cy="171.44" r="1.08" fill="#8d8d8d"/><circle cx="413.9" cy="170.97" r="1.65" fill="#828282"/><circle cx="419.61" cy="173.03" r="1.26" fill="#868686"/><circle cx="417.65" cy="169.29" r="1.33" fill="#8a8a8a"/><circle cx="418.26" cy="169.69" r="1.11" fill="#787878"/><circle cx="418.71" cy="170.37" r="1.62" fill="#6c6c6c"/><circle cx="415.74" cy="170.48" r="1.74" fill="#727272"/><circle cx="415.72" cy="172.06" r="0.99" fill="#5d5d5d"/><circle cx="417.31" cy="172.71" r="1.52" fill="#686868"/><circle cx="417.18" cy="110.67" r="1.84" fill="#989898"/><circle cx="409.19" cy="110.63" r="1.79" fill="#868686"/><circle cx="411.98" cy="112.05" r="1.16" fill="#6a6a6a"/><circle cx="413.88" cy="110.9" r="1.66" fill="#717171"/></g></g><defs><radialGradient id="halo"><stop offset="0.72" stop-color="#d8d8d8" stop-opacity="0.85"/><stop offset="1" stop-color="#c0c0c0" stop-opacity="0"/></radialGradient><radialGradient id="sph"><stop offset="0" stop-color="#3a3a3a"/><stop offset="0.6" stop-color="#4a4a4a"/><stop offset="0.88" stop-color="#606060"/><stop offset="1" stop-color="#7c7c7c"/></radialGradient></defs><g clip-path="url(#c2)"><circle cx="540.3" cy="90.4" r="24.42" fill="url(#halo)"/><circle cx="609.1" cy="114.7" r="17.82" fill="url(#halo)"/><circle cx="628" cy="123.2" r="11.22" fill="url(#halo)"/><circle cx="595.5" cy="133.6" r="12.54" fill="url(#halo)"/><circle cx="616" cy="136.8" r="12.54" fill="url(#halo)"/><circle cx="654.2" cy="135.8" r="14.52" fill="url(#halo)"/><circle cx="606.4" cy="168" r="30.36" fill="url(#halo)"/><circle cx="590" cy="146" r="3.96" fill="url(#halo)"/><g filter="url(#rough2)"><circle cx="540.3" cy="90.4" r="18.5" fill="url(#sph)"/><circle cx="551.59" cy="83.37" r="1" fill="#545454"/><circle cx="543.71" cy="93.99" r="1.12" fill="#868686"/><circle cx="552.57" cy="97.57" r="1.27" fill="#434343"/><circle cx="538.75" cy="92.29" r="1.4" fill="#6b6b6b"/><circle cx="538.83" cy="72.32" r="0.83" fill="#353535"/><circle cx="542.33" cy="77.99" r="0.87" fill="#3d3d3d"/><circle cx="536.88" cy="105.54" r="1.19" fill="#767676"/><circle cx="532.41" cy="76.48" r="0.81" fill="#848484"/><circle cx="537.04" cy="108.44" r="1.13" fill="#808080"/><circle cx="544.31" cy="76.12" r="1.05" fill="#494949"/><circle cx="540.51" cy="96.2" r="1.25" fill="#4c4c4c"/><circle cx="542.84" cy="93.43" r="1.23" fill="#424242"/><circle cx="547.47" cy="83.89" r="0.98" fill="#888888"/><circle cx="534.45" cy="76.46" r="1.27" fill="#565656"/><circle cx="550.45" cy="82.76" r="1.35" fill="#484848"/><circle cx="536.83" cy="79.8" r="0.92" fill="#3b3b3b"/><circle cx="524.64" cy="96.16" r="1.01" fill="#6f6f6f"/><circle cx="552.15" cy="82.67" r="0.65" fill="#7e7e7e"/><circle cx="555.34" cy="98.64" r="0.81" fill="#727272"/><circle cx="543.9" cy="93.8" r="1.31" fill="#4a4a4a"/><circle cx="543.6" cy="99.02" r="0.75" fill="#7b7b7b"/><circle cx="541.38" cy="106.35" r="1.35" fill="#7e7e7e"/><circle cx="550.5" cy="93.35" r="0.87" fill="#666666"/><circle cx="539.81" cy="81.63" r="0.73" fill="#666666"/><circle cx="549.97" cy="103.8" r="1.05" fill="#686868"/><circle cx="529.5" cy="101.07" r="0.9" fill="#878787"/><circle cx="549.28" cy="93.16" r="0.84" fill="#767676"/><circle cx="540.53" cy="82.05" r="0.89" fill="#656565"/><circle cx="529.22" cy="88.08" r="1.19" fill="#646464"/><circle cx="536.61" cy="78.84" r="1.26" fill="#2f2f2f"/><circle cx="549.23" cy="97.48" r="1.38" fill="#777777"/><circle cx="539.38" cy="84.22" r="0.64" fill="#888888"/><circle cx="555.75" cy="94.03" r="1.11" fill="#848484"/><circle cx="550.86" cy="79.91" r="1.1" fill="#343434"/><circle cx="541.62" cy="77.46" r="0.97" fill="#707070"/><circle cx="554.02" cy="100.73" r="0.76" fill="#3f3f3f"/><circle cx="547.78" cy="98.31" r="0.76" fill="#525252"/><circle cx="546.76" cy="101.01" r="0.99" fill="#2d2d2d"/><circle cx="545.59" cy="94.61" r="1.28" fill="#373737"/><circle cx="547.65" cy="73.58" r="1" fill="#797979"/><circle cx="529.2" cy="99.17" r="1.39" fill="#686868"/><circle cx="531.33" cy="105.53" r="1.36" fill="#878787"/><circle cx="530.09" cy="80.09" r="0.93" fill="#8b8b8b"/><circle cx="541.15" cy="85.23" r="1" fill="#424242"/><circle cx="539.62" cy="82.6" r="1.06" fill="#7a7a7a"/><circle cx="542.69" cy="93.14" r="1.26" fill="#525252"/><circle cx="556.25" cy="88.05" r="1.32" fill="#414141"/><circle cx="546.78" cy="100.09" r="0.87" fill="#6c6c6c"/><circle cx="534.51" cy="101.11" r="0.97" fill="#828282"/><circle cx="549.71" cy="96.16" r="1.03" fill="#646464"/><circle cx="552.99" cy="86.8" r="1.2" fill="#777777"/><circle cx="528.59" cy="92.92" r="0.7" fill="#585858"/><circle cx="545.65" cy="93.63" r="0.67" fill="#383838"/><circle cx="534.63" cy="94.73" r="0.93" fill="#898989"/><circle cx="555.33" cy="90.83" r="1.36" fill="#707070"/><circle cx="540.65" cy="100.83" r="1.1" fill="#737373"/><circle cx="527.64" cy="77.77" r="0.61" fill="#8b8b8b"/><circle cx="526.62" cy="102.05" r="0.87" fill="#2d2d2d"/><circle cx="540.76" cy="85.35" r="1.34" fill="#646464"/><circle cx="539.11" cy="90.14" r="0.93" fill="#363636"/><circle cx="555.29" cy="91.56" r="0.87" fill="#454545"/><circle cx="543.62" cy="74.9" r="0.75" fill="#787878"/><circle cx="532.12" cy="102.68" r="1.25" fill="#5c5c5c"/><circle cx="525.21" cy="99.56" r="1.12" fill="#414141"/><circle cx="545.98" cy="72.9" r="1.31" fill="#505050"/><circle cx="528.44" cy="81.52" r="1.3" fill="#444444"/><circle cx="557.11" cy="97.92" r="1.07" fill="#626262"/><circle cx="547.21" cy="103.94" r="1.27" fill="#3a3a3a"/><circle cx="540.17" cy="82.8" r="1.11" fill="#777777"/><circle cx="535.96" cy="104.83" r="1" fill="#6e6e6e"/><circle cx="534.59" cy="74.97" r="1.26" fill="#818181"/><circle cx="553.69" cy="101.15" r="0.99" fill="#878787"/><circle cx="547.57" cy="85.51" r="0.96" fill="#2f2f2f"/><circle cx="545.19" cy="94.98" r="1.38" fill="#565656"/><circle cx="522.06" cy="88.09" r="0.97" fill="#5c5c5c"/><circle cx="545.6" cy="91.1" r="1.15" fill="#7f7f7f"/><circle cx="524.23" cy="83.57" r="0.83" fill="#6a6a6a"/><circle cx="550.81" cy="78.61" r="1.27" fill="#333333"/><circle cx="529.07" cy="103.18" r="1.33" fill="#7b7b7b"/><circle cx="552.3" cy="100.79" r="1.29" fill="#4a4a4a"/><circle cx="553.29" cy="101.85" r="1.01" fill="#898989"/><circle cx="526.51" cy="86.04" r="0.67" fill="#828282"/><circle cx="546.84" cy="81.65" r="1.3" fill="#525252"/><circle cx="545.35" cy="95.26" r="1.18" fill="#6d6d6d"/><circle cx="542.67" cy="105.62" r="0.62" fill="#4e4e4e"/><circle cx="539.73" cy="97.8" r="0.96" fill="#575757"/><circle cx="527.08" cy="102.08" r="0.75" fill="#505050"/><circle cx="554.3" cy="85.6" r="0.96" fill="#878787"/><circle cx="531.93" cy="83.89" r="0.82" fill="#888888"/><circle cx="550.12" cy="85.87" r="1.12" fill="#757575"/><circle cx="541.76" cy="82.17" r="1" fill="#8b8b8b"/><circle cx="553.92" cy="97.34" r="1.12" fill="#333333"/><circle cx="538.58" cy="82.23" r="0.71" fill="#373737"/><circle cx="531.48" cy="77.07" r="0.86" fill="#848484"/><circle cx="552.29" cy="98.87" r="1.18" fill="#7c7c7c"/><circle cx="530.73" cy="90.99" r="1.29" fill="#727272"/><circle cx="543.29" cy="105.7" r="1.4" fill="#767676"/><circle cx="532.08" cy="98.58" r="0.73" fill="#303030"/><circle cx="539.97" cy="80.75" r="0.86" fill="#838383"/><circle cx="543.49" cy="79.76" r="0.95" fill="#747474"/><circle cx="542.33" cy="98.54" r="0.7" fill="#474747"/><circle cx="552.22" cy="77.23" r="0.6" fill="#787878"/><circle cx="552.5" cy="79.3" r="1.1" fill="#7c7c7c"/><circle cx="542.95" cy="100.14" r="0.75" fill="#515151"/><circle cx="558.09" cy="93.54" r="1.09" fill="#515151"/><circle cx="553.68" cy="101.1" r="0.63" fill="#747474"/><circle cx="545.12" cy="105.61" r="0.62" fill="#313131"/><circle cx="545.43" cy="95.13" r="1.23" fill="#767676"/><circle cx="531.1" cy="85.94" r="1.11" fill="#777777"/><circle cx="547.75" cy="93.41" r="1.05" fill="#6e6e6e"/><circle cx="529.69" cy="98.71" r="1.07" fill="#434343"/><circle cx="552.17" cy="104.43" r="1" fill="#7b7b7b"/><circle cx="555.39" cy="88.3" r="1.12" fill="#636363"/><circle cx="534.82" cy="72.83" r="0.79" fill="#777777"/><circle cx="556.84" cy="96.83" r="1.07" fill="#727272"/><circle cx="522.31" cy="91.6" r="0.72" fill="#303030"/><circle cx="532.73" cy="107.26" r="1.08" fill="#6e6e6e"/><circle cx="536.26" cy="96.54" r="0.71" fill="#2d2d2d"/><circle cx="546.39" cy="102.14" r="1.38" fill="#4f4f4f"/><circle cx="552.43" cy="83.85" r="0.85" fill="#3b3b3b"/><circle cx="555.14" cy="92.92" r="1.34" fill="#505050"/><circle cx="533.38" cy="106" r="1.12" fill="#515151"/><circle cx="530.08" cy="103.53" r="0.73" fill="#414141"/><circle cx="551.13" cy="94.04" r="0.97" fill="#727272"/><circle cx="548.12" cy="78.59" r="1" fill="#5f5f5f"/><circle cx="554.07" cy="93.94" r="0.67" fill="#3e3e3e"/><circle cx="546.32" cy="94.9" r="0.83" fill="#676767"/><circle cx="536.99" cy="101.82" r="0.81" fill="#878787"/><circle cx="537.39" cy="99.2" r="0.84" fill="#4a4a4a"/><circle cx="549.19" cy="74.4" r="1.29" fill="#515151"/><circle cx="550.4" cy="98.34" r="0.67" fill="#7a7a7a"/><circle cx="551.99" cy="90.3" r="1.36" fill="#5b5b5b"/><circle cx="547.7" cy="86.32" r="1.19" fill="#575757"/><circle cx="522.93" cy="94.85" r="1.38" fill="#3f3f3f"/><circle cx="529.83" cy="80.38" r="0.81" fill="#6d6d6d"/><circle cx="532.18" cy="93.38" r="0.86" fill="#797979"/><circle cx="551.14" cy="104.07" r="1.36" fill="#4d4d4d"/><circle cx="526.25" cy="95.42" r="1.01" fill="#777777"/><circle cx="555.93" cy="84.67" r="1.03" fill="#818181"/><circle cx="545.58" cy="95.99" r="1.03" fill="#3a3a3a"/><circle cx="553.4" cy="86.2" r="0.69" fill="#555555"/><circle cx="534.68" cy="96.01" r="0.97" fill="#575757"/><circle cx="550.96" cy="85.73" r="0.63" fill="#808080"/><circle cx="531.38" cy="103.34" r="0.66" fill="#565656"/><circle cx="531.74" cy="101.18" r="0.79" fill="#878787"/><circle cx="553.92" cy="98.99" r="0.88" fill="#676767"/><circle cx="532.09" cy="97.09" r="1.29" fill="#6b6b6b"/><circle cx="534.87" cy="107.19" r="0.99" fill="#545454"/><circle cx="540.08" cy="95.85" r="0.8" fill="#3f3f3f"/><circle cx="528.28" cy="95.36" r="0.89" fill="#7d7d7d"/><circle cx="541.21" cy="81.12" r="0.66" fill="#595959"/><circle cx="548.85" cy="83.51" r="1.05" fill="#696969"/><circle cx="531.28" cy="91.07" r="0.98" fill="#7b7b7b"/><circle cx="544.26" cy="94.7" r="1.05" fill="#5c5c5c"/><circle cx="538.83" cy="99.24" r="1.15" fill="#7b7b7b"/><circle cx="550.6" cy="103.45" r="1.27" fill="#313131"/><circle cx="543.67" cy="84.83" r="1.32" fill="#8b8b8b"/><circle cx="546.77" cy="103.88" r="0.72" fill="#585858"/><circle cx="542.57" cy="98.49" r="1.06" fill="#6c6c6c"/><circle cx="550.36" cy="88.53" r="0.9" fill="#5a5a5a"/><circle cx="529.87" cy="99.94" r="1.15" fill="#777777"/><circle cx="547.58" cy="96.84" r="1.21" fill="#686868"/><circle cx="547.79" cy="82.19" r="0.64" fill="#585858"/><circle cx="530.17" cy="89.19" r="1.08" fill="#5e5e5e"/><circle cx="542.72" cy="94.88" r="1.18" fill="#707070"/><circle cx="553.39" cy="89.38" r="0.66" fill="#323232"/><circle cx="555.89" cy="87.48" r="0.94" fill="#3b3b3b"/><circle cx="545.76" cy="105.76" r="1.34" fill="#727272"/><circle cx="533.83" cy="80.57" r="0.91" fill="#838383"/><circle cx="539.53" cy="81.77" r="1.08" fill="#464646"/><circle cx="535.62" cy="106.91" r="1.34" fill="#5d5d5d"/><circle cx="529.02" cy="82.04" r="0.76" fill="#5c5c5c"/><circle cx="529.96" cy="104.54" r="1.22" fill="#6d6d6d"/><circle cx="533.12" cy="94.61" r="0.93" fill="#787878"/><circle cx="541.15" cy="85.67" r="1.12" fill="#4d4d4d"/><circle cx="547.82" cy="86.91" r="1.14" fill="#8a8a8a"/><circle cx="541" cy="92.55" r="1.14" fill="#858585"/><circle cx="538.26" cy="78.68" r="0.98" fill="#343434"/><circle cx="534.26" cy="82.76" r="1.22" fill="#888888"/><circle cx="550.27" cy="91.57" r="1.2" fill="#828282"/><circle cx="542.89" cy="82.8" r="1.13" fill="#808080"/><circle cx="527.69" cy="99.04" r="1.32" fill="#434343"/><circle cx="548.72" cy="94.95" r="0.93" fill="#707070"/><circle cx="552.8" cy="79.13" r="0.89" fill="#6d6d6d"/><circle cx="530.42" cy="94.37" r="0.61" fill="#494949"/><circle cx="539.46" cy="105.81" r="0.86" fill="#606060"/><circle cx="536.7" cy="97.36" r="0.72" fill="#333333"/><circle cx="527.46" cy="78.02" r="0.88" fill="#6d6d6d"/><circle cx="534.06" cy="87.8" r="0.65" fill="#333333"/><circle cx="527.36" cy="84.65" r="1.35" fill="#3a3a3a"/><circle cx="548.68" cy="100.61" r="0.63" fill="#6a6a6a"/><circle cx="538.52" cy="103.78" r="1.15" fill="#6d6d6d"/><circle cx="537.66" cy="86.15" r="1.29" fill="#313131"/><circle cx="546.99" cy="99.31" r="0.64" fill="#7c7c7c"/><circle cx="549.67" cy="78.74" r="0.79" fill="#515151"/><circle cx="523.65" cy="88.16" r="0.8" fill="#3f3f3f"/><circle cx="523.65" cy="90.42" r="0.93" fill="#545454"/><circle cx="553.46" cy="87.27" r="1.14" fill="#777777"/><circle cx="528.66" cy="86.77" r="1.27" fill="#6a6a6a"/><circle cx="546.24" cy="97.95" r="1.25" fill="#404040"/><circle cx="534.75" cy="101.48" r="1.37" fill="#5d5d5d"/><circle cx="548.25" cy="90.58" r="0.97" fill="#7f7f7f"/><circle cx="528.21" cy="103.7" r="0.61" fill="#363636"/><circle cx="554.25" cy="81.13" r="0.81" fill="#5f5f5f"/><circle cx="541.58" cy="83.17" r="0.74" fill="#545454"/><circle cx="609.1" cy="114.7" r="13.5" fill="url(#sph)"/><circle cx="608.25" cy="115.26" r="0.96" fill="#585858"/><circle cx="617.36" cy="113.77" r="0.72" fill="#5f5f5f"/><circle cx="607.8" cy="121.04" r="0.7" fill="#898989"/><circle cx="601.39" cy="105.1" r="1.16" fill="#868686"/><circle cx="614.56" cy="126.44" r="1.02" fill="#5d5d5d"/><circle cx="610.44" cy="113.63" r="1.21" fill="#717171"/><circle cx="606.24" cy="109.49" r="0.79" fill="#838383"/><circle cx="603.56" cy="125.72" r="0.81" fill="#848484"/><circle cx="596.76" cy="116.33" r="0.78" fill="#5f5f5f"/><circle cx="601.69" cy="122.46" r="0.85" fill="#717171"/><circle cx="613.52" cy="125.78" r="0.8" fill="#494949"/><circle cx="607.55" cy="121" r="0.91" fill="#383838"/><circle cx="613.21" cy="124.75" r="0.89" fill="#353535"/><circle cx="617.76" cy="111.79" r="0.78" fill="#818181"/><circle cx="609.98" cy="110.83" r="1.37" fill="#878787"/><circle cx="606.93" cy="109.02" r="1.24" fill="#747474"/><circle cx="602.37" cy="104.89" r="1.22" fill="#444444"/><circle cx="610.58" cy="124.19" r="0.77" fill="#515151"/><circle cx="608.49" cy="127.38" r="0.99" fill="#313131"/><circle cx="604.63" cy="115.19" r="0.95" fill="#343434"/><circle cx="604.78" cy="120.04" r="0.78" fill="#444444"/><circle cx="600.47" cy="104.52" r="0.92" fill="#494949"/><circle cx="606.67" cy="107.62" r="1.12" fill="#383838"/><circle cx="608.59" cy="115.36" r="1.3" fill="#4b4b4b"/><circle cx="621.14" cy="118.88" r="1.27" fill="#666666"/><circle cx="598.55" cy="110.44" r="0.74" fill="#818181"/><circle cx="616.96" cy="121.21" r="1.02" fill="#595959"/><circle cx="600.59" cy="125" r="1.09" fill="#656565"/><circle cx="616.09" cy="115.97" r="1.39" fill="#474747"/><circle cx="615.32" cy="122" r="1.1" fill="#727272"/><circle cx="609.69" cy="106.61" r="0.78" fill="#3b3b3b"/><circle cx="599.83" cy="111.72" r="1.34" fill="#535353"/><circle cx="604.05" cy="118.33" r="1.07" fill="#656565"/><circle cx="611.3" cy="104.84" r="0.99" fill="#2c2c2c"/><circle cx="611.73" cy="120.69" r="1.37" fill="#757575"/><circle cx="613.65" cy="109.99" r="1.29" fill="#545454"/><circle cx="610.87" cy="111.97" r="1.07" fill="#464646"/><circle cx="609.75" cy="116.51" r="1.03" fill="#414141"/><circle cx="606.54" cy="103.39" r="1.08" fill="#626262"/><circle cx="597.17" cy="113.13" r="1.15" fill="#6a6a6a"/><circle cx="612.9" cy="112.05" r="1.03" fill="#2f2f2f"/><circle cx="596.96" cy="118.96" r="1.14" fill="#494949"/><circle cx="606.88" cy="108.49" r="0.93" fill="#2c2c2c"/><circle cx="610.86" cy="120.33" r="0.74" fill="#585858"/><circle cx="599.25" cy="110.8" r="1.05" fill="#595959"/><circle cx="612.41" cy="124.39" r="1.28" fill="#7d7d7d"/><circle cx="615.02" cy="119.6" r="1.07" fill="#707070"/><circle cx="599.77" cy="122.75" r="1.05" fill="#818181"/><circle cx="609.12" cy="127.95" r="0.88" fill="#5a5a5a"/><circle cx="618.26" cy="124.07" r="0.66" fill="#6e6e6e"/><circle cx="614.51" cy="126.5" r="1.14" fill="#333333"/><circle cx="600.44" cy="110.68" r="0.87" fill="#6e6e6e"/><circle cx="600.22" cy="105.71" r="1.02" fill="#626262"/><circle cx="604.65" cy="110.94" r="1.17" fill="#4c4c4c"/><circle cx="604.88" cy="112.78" r="0.93" fill="#7f7f7f"/><circle cx="609.2" cy="119.92" r="1.18" fill="#848484"/><circle cx="606.93" cy="120.21" r="0.72" fill="#7d7d7d"/><circle cx="598.17" cy="113.19" r="1.15" fill="#868686"/><circle cx="616.69" cy="120.8" r="0.82" fill="#838383"/><circle cx="611.88" cy="116.42" r="1.35" fill="#7c7c7c"/><circle cx="601.85" cy="116.5" r="0.74" fill="#525252"/><circle cx="600.56" cy="118.31" r="0.68" fill="#5f5f5f"/><circle cx="619.64" cy="112.99" r="1.26" fill="#626262"/><circle cx="618.95" cy="117.82" r="1.11" fill="#4f4f4f"/><circle cx="612.4" cy="113.35" r="0.88" fill="#3c3c3c"/><circle cx="597.09" cy="112.11" r="1.04" fill="#727272"/><circle cx="612.47" cy="123.67" r="0.69" fill="#565656"/><circle cx="619.75" cy="108.39" r="0.8" fill="#666666"/><circle cx="602.3" cy="111.14" r="0.63" fill="#6a6a6a"/><circle cx="601.05" cy="108.6" r="1.06" fill="#848484"/><circle cx="610.4" cy="108.47" r="0.86" fill="#616161"/><circle cx="622.26" cy="113.49" r="1.1" fill="#434343"/><circle cx="618.11" cy="119.03" r="0.71" fill="#8a8a8a"/><circle cx="607.85" cy="105.09" r="0.93" fill="#8b8b8b"/><circle cx="613.96" cy="105.48" r="1.28" fill="#787878"/><circle cx="604.32" cy="108.3" r="1.23" fill="#656565"/><circle cx="613.7" cy="105" r="0.67" fill="#575757"/><circle cx="617.2" cy="121.91" r="1.14" fill="#515151"/><circle cx="600.65" cy="113.59" r="1.28" fill="#3f3f3f"/><circle cx="607.64" cy="125.33" r="1.37" fill="#353535"/><circle cx="614.61" cy="122.54" r="0.79" fill="#797979"/><circle cx="603.82" cy="107.88" r="0.71" fill="#888888"/><circle cx="612.69" cy="124" r="1.06" fill="#6d6d6d"/><circle cx="612.99" cy="123.32" r="1.14" fill="#323232"/><circle cx="602.8" cy="126.34" r="0.64" fill="#525252"/><circle cx="616.83" cy="115.29" r="1.36" fill="#454545"/><circle cx="610.65" cy="106.66" r="0.65" fill="#444444"/><circle cx="617.4" cy="122.85" r="1.23" fill="#313131"/><circle cx="600.3" cy="121.55" r="0.69" fill="#676767"/><circle cx="609.55" cy="102.06" r="1.38" fill="#363636"/><circle cx="612.74" cy="104.85" r="0.64" fill="#6e6e6e"/><circle cx="610.93" cy="127.42" r="0.77" fill="#7e7e7e"/><circle cx="601.52" cy="112.39" r="1.23" fill="#3d3d3d"/><circle cx="607.51" cy="111.54" r="0.61" fill="#6c6c6c"/><circle cx="616.26" cy="119.62" r="1.02" fill="#2f2f2f"/><circle cx="606.3" cy="108.43" r="0.66" fill="#6e6e6e"/><circle cx="617.2" cy="119.72" r="1.21" fill="#2e2e2e"/><circle cx="609.96" cy="114" r="1.06" fill="#787878"/><circle cx="621.03" cy="112.78" r="1.28" fill="#828282"/><circle cx="616.18" cy="105.33" r="0.67" fill="#828282"/><circle cx="612.82" cy="104.22" r="0.95" fill="#4e4e4e"/><circle cx="614.82" cy="119.59" r="1.04" fill="#707070"/><circle cx="615.22" cy="111.68" r="1.19" fill="#414141"/><circle cx="616.98" cy="112.5" r="0.64" fill="#515151"/><circle cx="610.35" cy="127.51" r="0.99" fill="#898989"/><circle cx="612.92" cy="109.72" r="1.33" fill="#6a6a6a"/><circle cx="602.77" cy="123.43" r="0.71" fill="#737373"/><circle cx="608.5" cy="125.08" r="0.73" fill="#444444"/><circle cx="615.43" cy="124.83" r="1.04" fill="#585858"/><circle cx="628" cy="123.2" r="8.5" fill="url(#sph)"/><circle cx="624.81" cy="119.55" r="0.96" fill="#6b6b6b"/><circle cx="633.14" cy="126.58" r="1.15" fill="#5b5b5b"/><circle cx="629.8" cy="122.73" r="1.16" fill="#676767"/><circle cx="622.46" cy="123.91" r="1.03" fill="#707070"/><circle cx="622.05" cy="126.65" r="0.67" fill="#666666"/><circle cx="622.92" cy="129.43" r="1.02" fill="#3b3b3b"/><circle cx="626.08" cy="120.97" r="0.86" fill="#3f3f3f"/><circle cx="625.55" cy="121.43" r="1.15" fill="#757575"/><circle cx="629.37" cy="119.26" r="1.29" fill="#5f5f5f"/><circle cx="622.08" cy="125.69" r="1.19" fill="#535353"/><circle cx="622.88" cy="117.9" r="1.22" fill="#898989"/><circle cx="624.15" cy="121.31" r="1.36" fill="#5d5d5d"/><circle cx="630.96" cy="122.92" r="0.62" fill="#6c6c6c"/><circle cx="632.04" cy="126.45" r="1.12" fill="#353535"/><circle cx="622.72" cy="123.25" r="0.88" fill="#7d7d7d"/><circle cx="628.08" cy="127.73" r="1.18" fill="#2e2e2e"/><circle cx="624.65" cy="118.87" r="0.86" fill="#7a7a7a"/><circle cx="628.35" cy="124.71" r="0.96" fill="#3d3d3d"/><circle cx="625.26" cy="128.16" r="0.62" fill="#313131"/><circle cx="625.55" cy="118.3" r="1.28" fill="#777777"/><circle cx="624.29" cy="127.6" r="0.71" fill="#757575"/><circle cx="629.77" cy="118.36" r="0.97" fill="#434343"/><circle cx="623.33" cy="116.98" r="0.63" fill="#7a7a7a"/><circle cx="630.54" cy="127.44" r="0.96" fill="#313131"/><circle cx="622.12" cy="125.01" r="0.79" fill="#4d4d4d"/><circle cx="626.29" cy="122.13" r="1.2" fill="#2f2f2f"/><circle cx="629.23" cy="126.36" r="1.06" fill="#434343"/><circle cx="628.47" cy="130.1" r="0.92" fill="#696969"/><circle cx="634.63" cy="119.93" r="0.78" fill="#393939"/><circle cx="633.54" cy="127.75" r="0.96" fill="#3e3e3e"/><circle cx="634.65" cy="127.58" r="1.13" fill="#737373"/><circle cx="626.38" cy="118.35" r="0.61" fill="#3e3e3e"/><circle cx="621.16" cy="127.55" r="0.76" fill="#2e2e2e"/><circle cx="625.72" cy="122.82" r="1.2" fill="#484848"/><circle cx="629.04" cy="127.78" r="0.76" fill="#474747"/><circle cx="630.87" cy="115.43" r="0.8" fill="#646464"/><circle cx="628.3" cy="130.25" r="1.25" fill="#717171"/><circle cx="630.48" cy="126.06" r="0.94" fill="#4c4c4c"/><circle cx="628.98" cy="120.89" r="0.69" fill="#484848"/><circle cx="630.42" cy="116.46" r="0.85" fill="#797979"/><circle cx="620.1" cy="121.94" r="1.24" fill="#2d2d2d"/><circle cx="628.62" cy="117.63" r="1.21" fill="#767676"/><circle cx="631.58" cy="130.76" r="0.81" fill="#868686"/><circle cx="595.5" cy="133.6" r="9.5" fill="url(#sph)"/><circle cx="602.23" cy="131.62" r="1.22" fill="#5c5c5c"/><circle cx="599.64" cy="131.16" r="1.27" fill="#373737"/><circle cx="588.91" cy="136.11" r="1.3" fill="#595959"/><circle cx="588.25" cy="130.29" r="0.6" fill="#757575"/><circle cx="588.64" cy="130.86" r="0.73" fill="#353535"/><circle cx="601.07" cy="136.12" r="0.8" fill="#767676"/><circle cx="597.21" cy="131.82" r="0.79" fill="#4d4d4d"/><circle cx="599.24" cy="132.57" r="1.01" fill="#7d7d7d"/><circle cx="594.73" cy="139.69" r="1.09" fill="#383838"/><circle cx="592.35" cy="128.12" r="1.21" fill="#787878"/><circle cx="591.75" cy="126.27" r="0.72" fill="#555555"/><circle cx="589.15" cy="132.46" r="1.16" fill="#3a3a3a"/><circle cx="588.17" cy="136.29" r="0.79" fill="#3e3e3e"/><circle cx="603.01" cy="138.65" r="0.85" fill="#6e6e6e"/><circle cx="600.72" cy="135.37" r="1.32" fill="#767676"/><circle cx="600.07" cy="141.51" r="0.63" fill="#3f3f3f"/><circle cx="596.37" cy="134.56" r="1.22" fill="#434343"/><circle cx="587.12" cy="134.73" r="1.2" fill="#343434"/><circle cx="599.03" cy="137.68" r="1.18" fill="#858585"/><circle cx="594.56" cy="126.02" r="1.1" fill="#4f4f4f"/><circle cx="587.85" cy="137.19" r="1.31" fill="#6c6c6c"/><circle cx="600.02" cy="126.16" r="0.62" fill="#353535"/><circle cx="588.68" cy="139.83" r="1.06" fill="#666666"/><circle cx="598.95" cy="126.87" r="0.98" fill="#363636"/><circle cx="601.23" cy="127.28" r="1.4" fill="#313131"/><circle cx="590.43" cy="132.93" r="1.35" fill="#555555"/><circle cx="600" cy="130.16" r="0.66" fill="#696969"/><circle cx="596.18" cy="131.08" r="0.85" fill="#707070"/><circle cx="597.58" cy="136.54" r="0.78" fill="#898989"/><circle cx="591.81" cy="134.31" r="1.26" fill="#5b5b5b"/><circle cx="595.54" cy="141.63" r="0.7" fill="#4e4e4e"/><circle cx="597.63" cy="128.45" r="1.36" fill="#696969"/><circle cx="594.57" cy="128.22" r="1.2" fill="#676767"/><circle cx="597.48" cy="142.67" r="0.63" fill="#414141"/><circle cx="589.09" cy="132.28" r="0.99" fill="#3a3a3a"/><circle cx="594.32" cy="142.09" r="1.02" fill="#5b5b5b"/><circle cx="601.21" cy="140.87" r="1.07" fill="#444444"/><circle cx="596.64" cy="126.84" r="1.11" fill="#4a4a4a"/><circle cx="594.78" cy="130.14" r="0.75" fill="#444444"/><circle cx="602.91" cy="134.67" r="0.82" fill="#8b8b8b"/><circle cx="600.95" cy="131.35" r="0.68" fill="#838383"/><circle cx="591.9" cy="141.57" r="1.24" fill="#838383"/><circle cx="593.31" cy="128.78" r="1.06" fill="#8a8a8a"/><circle cx="598.03" cy="128.16" r="1.1" fill="#868686"/><circle cx="594.64" cy="130.12" r="0.68" fill="#535353"/><circle cx="591.14" cy="139.28" r="0.61" fill="#474747"/><circle cx="588" cy="137.08" r="1.22" fill="#505050"/><circle cx="590.13" cy="138.15" r="0.67" fill="#494949"/><circle cx="596.84" cy="126.93" r="1.23" fill="#787878"/><circle cx="596.55" cy="127.83" r="0.78" fill="#484848"/><circle cx="588.27" cy="135.06" r="1.4" fill="#7e7e7e"/><circle cx="594.59" cy="126.5" r="1.07" fill="#474747"/><circle cx="593.62" cy="142.26" r="0.93" fill="#414141"/><circle cx="596.21" cy="137.98" r="0.76" fill="#757575"/><circle cx="616" cy="136.8" r="9.5" fill="url(#sph)"/><circle cx="615.14" cy="138.59" r="1.32" fill="#838383"/><circle cx="609.52" cy="143.21" r="0.8" fill="#414141"/><circle cx="611.85" cy="135.27" r="1.38" fill="#838383"/><circle cx="620.57" cy="141.22" r="1.39" fill="#545454"/><circle cx="618.35" cy="136.59" r="1.12" fill="#878787"/><circle cx="609.82" cy="137.91" r="0.7" fill="#7e7e7e"/><circle cx="613.59" cy="138.6" r="1.24" fill="#525252"/><circle cx="617.77" cy="133.7" r="1.16" fill="#434343"/><circle cx="616.99" cy="138.67" r="0.62" fill="#7f7f7f"/><circle cx="621.69" cy="132.15" r="0.84" fill="#515151"/><circle cx="608.98" cy="142.42" r="0.72" fill="#636363"/><circle cx="611.09" cy="134.78" r="0.73" fill="#828282"/><circle cx="614.54" cy="136.84" r="1.17" fill="#454545"/><circle cx="609.13" cy="130.82" r="0.97" fill="#3a3a3a"/><circle cx="622.34" cy="141.56" r="1.34" fill="#363636"/><circle cx="609.05" cy="137.37" r="0.92" fill="#4f4f4f"/><circle cx="621.8" cy="130.89" r="1.25" fill="#515151"/><circle cx="614.05" cy="138.66" r="0.94" fill="#414141"/><circle cx="612.28" cy="138.21" r="0.79" fill="#6f6f6f"/><circle cx="611.95" cy="131.22" r="1.31" fill="#6a6a6a"/><circle cx="614.21" cy="129.57" r="1.01" fill="#6d6d6d"/><circle cx="624.58" cy="136.42" r="0.72" fill="#3b3b3b"/><circle cx="607.6" cy="140.37" r="0.79" fill="#393939"/><circle cx="624.21" cy="136.78" r="0.73" fill="#606060"/><circle cx="621.35" cy="137.89" r="1.31" fill="#3e3e3e"/><circle cx="609.28" cy="136.08" r="0.99" fill="#666666"/><circle cx="616.62" cy="144.91" r="1.33" fill="#727272"/><circle cx="612.57" cy="137.05" r="0.61" fill="#888888"/><circle cx="620.42" cy="143.46" r="1.35" fill="#7e7e7e"/><circle cx="611.88" cy="133.98" r="1.19" fill="#2e2e2e"/><circle cx="613.96" cy="134.28" r="1.36" fill="#737373"/><circle cx="618.87" cy="143.6" r="1.09" fill="#545454"/><circle cx="622.65" cy="142.87" r="1.11" fill="#484848"/><circle cx="616.4" cy="140.81" r="0.81" fill="#888888"/><circle cx="624.46" cy="134.32" r="1.05" fill="#616161"/><circle cx="624.19" cy="138.38" r="1.07" fill="#6d6d6d"/><circle cx="618.53" cy="130.79" r="1.19" fill="#505050"/><circle cx="608.61" cy="137.04" r="0.76" fill="#3a3a3a"/><circle cx="619.5" cy="144.56" r="1.38" fill="#8b8b8b"/><circle cx="608.03" cy="134.09" r="0.86" fill="#373737"/><circle cx="620.8" cy="134.88" r="0.95" fill="#3b3b3b"/><circle cx="617.07" cy="127.42" r="1.11" fill="#2f2f2f"/><circle cx="620.61" cy="129.56" r="1.12" fill="#848484"/><circle cx="619.51" cy="131.9" r="1.04" fill="#646464"/><circle cx="610.05" cy="139.06" r="0.72" fill="#6f6f6f"/><circle cx="620.01" cy="129.88" r="0.88" fill="#3f3f3f"/><circle cx="619.36" cy="131.61" r="0.92" fill="#7d7d7d"/><circle cx="621.93" cy="136.54" r="0.91" fill="#8a8a8a"/><circle cx="612.52" cy="138.7" r="0.66" fill="#777777"/><circle cx="617.33" cy="130.23" r="1.1" fill="#7e7e7e"/><circle cx="622.44" cy="134.57" r="1.34" fill="#414141"/><circle cx="622.85" cy="131.42" r="0.81" fill="#656565"/><circle cx="624.51" cy="137.73" r="0.95" fill="#6b6b6b"/><circle cx="607.6" cy="136.07" r="0.62" fill="#424242"/><circle cx="654.2" cy="135.8" r="11" fill="url(#sph)"/><circle cx="663.27" cy="141.91" r="1.38" fill="#404040"/><circle cx="663.08" cy="137.38" r="1" fill="#5e5e5e"/><circle cx="662.49" cy="135.81" r="1.27" fill="#676767"/><circle cx="659.01" cy="127.14" r="1.3" fill="#313131"/><circle cx="644.06" cy="134.29" r="0.66" fill="#838383"/><circle cx="647.59" cy="139.99" r="1.35" fill="#656565"/><circle cx="662.53" cy="137.66" r="0.71" fill="#5b5b5b"/><circle cx="650.45" cy="127.19" r="0.68" fill="#373737"/><circle cx="643.47" cy="136.62" r="1.13" fill="#7b7b7b"/><circle cx="645.67" cy="142.31" r="0.71" fill="#595959"/><circle cx="651.46" cy="133.86" r="1" fill="#7f7f7f"/><circle cx="653.4" cy="125.68" r="1.23" fill="#777777"/><circle cx="655.72" cy="129.14" r="0.8" fill="#2e2e2e"/><circle cx="650.58" cy="130.78" r="0.85" fill="#8a8a8a"/><circle cx="653.21" cy="132.08" r="1.24" fill="#575757"/><circle cx="656.7" cy="134.22" r="1.37" fill="#797979"/><circle cx="664.02" cy="137.24" r="1.14" fill="#303030"/><circle cx="657.41" cy="135.56" r="0.69" fill="#737373"/><circle cx="648.6" cy="132.54" r="1.21" fill="#616161"/><circle cx="656.29" cy="141.44" r="0.93" fill="#373737"/><circle cx="655.83" cy="136.71" r="1.16" fill="#727272"/><circle cx="662.95" cy="137.41" r="0.88" fill="#6c6c6c"/><circle cx="652.75" cy="140.87" r="0.71" fill="#656565"/><circle cx="647.51" cy="133.7" r="1.21" fill="#5d5d5d"/><circle cx="655.15" cy="141.88" r="0.86" fill="#5a5a5a"/><circle cx="652.49" cy="132.02" r="1.35" fill="#838383"/><circle cx="659.59" cy="141.26" r="0.88" fill="#4d4d4d"/><circle cx="656.69" cy="143.48" r="0.79" fill="#797979"/><circle cx="656.21" cy="126.5" r="1.31" fill="#686868"/><circle cx="646.32" cy="129.91" r="1.28" fill="#878787"/><circle cx="648.93" cy="133.07" r="1.18" fill="#656565"/><circle cx="652.88" cy="128.99" r="0.87" fill="#737373"/><circle cx="661.67" cy="143.56" r="0.94" fill="#848484"/><circle cx="652.9" cy="135.38" r="0.88" fill="#878787"/><circle cx="651.11" cy="133.2" r="1.07" fill="#393939"/><circle cx="649.16" cy="126.15" r="1.09" fill="#6f6f6f"/><circle cx="649.63" cy="132.28" r="1.1" fill="#4f4f4f"/><circle cx="658.17" cy="140.37" r="0.63" fill="#3c3c3c"/><circle cx="647.79" cy="137.82" r="0.92" fill="#616161"/><circle cx="663.35" cy="140.32" r="0.62" fill="#2f2f2f"/><circle cx="663.88" cy="137.17" r="1.36" fill="#4f4f4f"/><circle cx="651.33" cy="142.22" r="1.36" fill="#6f6f6f"/><circle cx="659.96" cy="132.29" r="0.65" fill="#6d6d6d"/><circle cx="646.25" cy="131.94" r="1.12" fill="#464646"/><circle cx="650.89" cy="144.84" r="1.02" fill="#323232"/><circle cx="662.5" cy="133.11" r="1.36" fill="#868686"/><circle cx="655.01" cy="125.97" r="1.01" fill="#727272"/><circle cx="656.61" cy="126.33" r="0.61" fill="#7e7e7e"/><circle cx="661.49" cy="137.51" r="0.94" fill="#707070"/><circle cx="653.05" cy="136.86" r="1.36" fill="#666666"/><circle cx="650.13" cy="132.18" r="0.9" fill="#696969"/><circle cx="652.46" cy="137.74" r="0.6" fill="#707070"/><circle cx="654.68" cy="135.05" r="0.88" fill="#767676"/><circle cx="649.71" cy="142.05" r="0.77" fill="#3d3d3d"/><circle cx="651.85" cy="125.58" r="0.82" fill="#393939"/><circle cx="663.25" cy="134.73" r="0.91" fill="#848484"/><circle cx="655.26" cy="126.59" r="0.98" fill="#737373"/><circle cx="652.42" cy="142.2" r="0.66" fill="#393939"/><circle cx="646.77" cy="142.76" r="1.05" fill="#4b4b4b"/><circle cx="655.79" cy="132.61" r="0.9" fill="#4f4f4f"/><circle cx="651.72" cy="125.64" r="1.04" fill="#2c2c2c"/><circle cx="660.23" cy="135.91" r="0.82" fill="#525252"/><circle cx="648.56" cy="139.25" r="0.8" fill="#5b5b5b"/><circle cx="650.23" cy="139.08" r="1.17" fill="#545454"/><circle cx="664.99" cy="137.9" r="1.23" fill="#3a3a3a"/><circle cx="653.52" cy="138.65" r="1.05" fill="#777777"/><circle cx="653.65" cy="142.56" r="1.17" fill="#7e7e7e"/><circle cx="653.25" cy="141.07" r="0.7" fill="#626262"/><circle cx="655.5" cy="145.59" r="0.62" fill="#717171"/><circle cx="647.63" cy="138.06" r="0.94" fill="#727272"/><circle cx="655.64" cy="145.79" r="1.12" fill="#3e3e3e"/><circle cx="652.45" cy="144.27" r="1.3" fill="#3c3c3c"/><circle cx="606.4" cy="168" r="23" fill="url(#sph)"/><circle cx="593.45" cy="181.87" r="0.97" fill="#737373"/><circle cx="598.71" cy="166.08" r="1.03" fill="#5f5f5f"/><circle cx="617.19" cy="159.65" r="0.92" fill="#3a3a3a"/><circle cx="606.94" cy="165.6" r="1.4" fill="#2f2f2f"/><circle cx="588.08" cy="161.34" r="0.76" fill="#585858"/><circle cx="600.79" cy="158.19" r="0.77" fill="#575757"/><circle cx="618.49" cy="160.12" r="0.75" fill="#6e6e6e"/><circle cx="596.72" cy="160.09" r="0.85" fill="#373737"/><circle cx="622.84" cy="174.97" r="1.28" fill="#616161"/><circle cx="620.88" cy="170.49" r="0.88" fill="#8a8a8a"/><circle cx="625.59" cy="175.4" r="1.17" fill="#343434"/><circle cx="585.15" cy="164.49" r="1.14" fill="#5d5d5d"/><circle cx="605.37" cy="190.78" r="1.27" fill="#404040"/><circle cx="599.8" cy="153.47" r="0.67" fill="#4f4f4f"/><circle cx="609.34" cy="157.43" r="1.31" fill="#7f7f7f"/><circle cx="609.47" cy="180.02" r="1.21" fill="#707070"/><circle cx="626.33" cy="174.3" r="1.1" fill="#7a7a7a"/><circle cx="624.01" cy="153.64" r="1.35" fill="#3f3f3f"/><circle cx="617.79" cy="154.54" r="1.37" fill="#363636"/><circle cx="605.81" cy="154.02" r="1.36" fill="#4a4a4a"/><circle cx="608.91" cy="188.68" r="1.16" fill="#565656"/><circle cx="609.55" cy="161.47" r="0.69" fill="#444444"/><circle cx="599.32" cy="173" r="1.23" fill="#838383"/><circle cx="597.63" cy="163.09" r="1.07" fill="#404040"/><circle cx="624.97" cy="155.81" r="0.86" fill="#858585"/><circle cx="601.06" cy="152.32" r="1.14" fill="#616161"/><circle cx="603.11" cy="179.44" r="0.79" fill="#535353"/><circle cx="615.3" cy="157.3" r="1.11" fill="#2f2f2f"/><circle cx="623.38" cy="166.51" r="1.32" fill="#474747"/><circle cx="593.99" cy="154.83" r="1.22" fill="#585858"/><circle cx="598.25" cy="153.08" r="1.23" fill="#4c4c4c"/><circle cx="612.29" cy="164.3" r="0.68" fill="#2e2e2e"/><circle cx="619.03" cy="155.07" r="1.38" fill="#525252"/><circle cx="620.47" cy="162.87" r="1.03" fill="#4f4f4f"/><circle cx="588.77" cy="156.4" r="0.83" fill="#808080"/><circle cx="610.3" cy="162.93" r="0.94" fill="#3f3f3f"/><circle cx="618.44" cy="174.21" r="1.24" fill="#2e2e2e"/><circle cx="601.16" cy="157.51" r="0.91" fill="#5e5e5e"/><circle cx="611.68" cy="156.7" r="1.22" fill="#424242"/><circle cx="607.16" cy="148.72" r="0.63" fill="#323232"/><circle cx="626.92" cy="158.35" r="0.99" fill="#3f3f3f"/><circle cx="594.47" cy="170.8" r="0.8" fill="#333333"/><circle cx="621.24" cy="164.28" r="0.66" fill="#3f3f3f"/><circle cx="593.57" cy="151.27" r="1.2" fill="#444444"/><circle cx="614.59" cy="169.12" r="0.68" fill="#696969"/><circle cx="590.78" cy="171.49" r="1.26" fill="#2e2e2e"/><circle cx="604.92" cy="147.6" r="0.83" fill="#6a6a6a"/><circle cx="600.49" cy="151.64" r="1.2" fill="#676767"/><circle cx="601.02" cy="189.32" r="0.85" fill="#585858"/><circle cx="584.06" cy="164.05" r="0.68" fill="#6f6f6f"/><circle cx="603.33" cy="186.62" r="1.03" fill="#878787"/><circle cx="605.78" cy="167.84" r="1.24" fill="#3a3a3a"/><circle cx="607.25" cy="184.82" r="1.08" fill="#6d6d6d"/><circle cx="608.28" cy="149.63" r="1.07" fill="#494949"/><circle cx="604.39" cy="162.29" r="1.1" fill="#888888"/><circle cx="627.51" cy="164.72" r="0.67" fill="#2f2f2f"/><circle cx="613.43" cy="159.03" r="1.38" fill="#838383"/><circle cx="608.56" cy="149.95" r="1.33" fill="#565656"/><circle cx="601.55" cy="162.91" r="0.87" fill="#717171"/><circle cx="615.56" cy="178.49" r="1.19" fill="#7e7e7e"/><circle cx="591.18" cy="182.28" r="0.87" fill="#616161"/><circle cx="621.62" cy="179.36" r="1" fill="#434343"/><circle cx="607.6" cy="186.23" r="0.82" fill="#313131"/><circle cx="591.51" cy="153.03" r="0.83" fill="#727272"/><circle cx="593.38" cy="177.78" r="0.74" fill="#868686"/><circle cx="608.27" cy="160.48" r="0.69" fill="#7c7c7c"/><circle cx="596.06" cy="177.41" r="0.85" fill="#6c6c6c"/><circle cx="614.27" cy="146.57" r="0.62" fill="#707070"/><circle cx="623.38" cy="179.7" r="1.01" fill="#535353"/><circle cx="617.35" cy="151.95" r="0.84" fill="#5e5e5e"/><circle cx="613.17" cy="171.74" r="0.92" fill="#313131"/><circle cx="613.64" cy="165.53" r="1.09" fill="#5d5d5d"/><circle cx="627.8" cy="159.74" r="1.06" fill="#6a6a6a"/><circle cx="602.38" cy="153.36" r="1.27" fill="#767676"/><circle cx="610.05" cy="184.32" r="0.7" fill="#4a4a4a"/><circle cx="590.68" cy="176.54" r="0.91" fill="#5d5d5d"/><circle cx="591.05" cy="162.39" r="1.15" fill="#2e2e2e"/><circle cx="610.18" cy="152.84" r="0.79" fill="#6a6a6a"/><circle cx="604.4" cy="152.61" r="1.14" fill="#696969"/><circle cx="597.34" cy="172.13" r="1.26" fill="#868686"/><circle cx="595.89" cy="177.47" r="1.2" fill="#7d7d7d"/><circle cx="602.84" cy="188.54" r="1.27" fill="#4c4c4c"/><circle cx="623.6" cy="182.33" r="1.34" fill="#4f4f4f"/><circle cx="606.7" cy="182.05" r="1.07" fill="#444444"/><circle cx="605.98" cy="186.89" r="1.21" fill="#6d6d6d"/><circle cx="592" cy="172.35" r="0.99" fill="#444444"/><circle cx="594.47" cy="165.87" r="0.74" fill="#616161"/><circle cx="594.97" cy="174.43" r="1.22" fill="#5f5f5f"/><circle cx="621.37" cy="170.94" r="0.88" fill="#353535"/><circle cx="604.8" cy="149.74" r="1.25" fill="#707070"/><circle cx="598.85" cy="179.85" r="0.86" fill="#3e3e3e"/><circle cx="592.53" cy="155.27" r="1.03" fill="#707070"/><circle cx="623.95" cy="173.78" r="1.3" fill="#7d7d7d"/><circle cx="620.38" cy="170.01" r="1.1" fill="#5b5b5b"/><circle cx="607.48" cy="164.35" r="0.95" fill="#828282"/><circle cx="626.37" cy="163.71" r="1.36" fill="#525252"/><circle cx="599.01" cy="169.66" r="1.03" fill="#3f3f3f"/><circle cx="607.07" cy="155.19" r="0.81" fill="#868686"/><circle cx="624.74" cy="165.38" r="0.91" fill="#727272"/><circle cx="593.01" cy="165.28" r="1.27" fill="#5c5c5c"/><circle cx="608.67" cy="147.24" r="0.84" fill="#535353"/><circle cx="587.6" cy="155.74" r="0.79" fill="#6f6f6f"/><circle cx="612.11" cy="147.12" r="1.18" fill="#727272"/><circle cx="598.76" cy="152.47" r="1.17" fill="#515151"/><circle cx="597.88" cy="172.6" r="1.33" fill="#818181"/><circle cx="620.92" cy="182.65" r="0.86" fill="#676767"/><circle cx="602.18" cy="175.71" r="0.77" fill="#565656"/><circle cx="595.95" cy="148.23" r="0.81" fill="#484848"/><circle cx="598.65" cy="166.95" r="0.74" fill="#393939"/><circle cx="614.15" cy="153.65" r="1.27" fill="#777777"/><circle cx="603.33" cy="177.13" r="1.19" fill="#313131"/><circle cx="585.79" cy="162.93" r="0.74" fill="#6a6a6a"/><circle cx="591.82" cy="169.41" r="0.71" fill="#373737"/><circle cx="601.23" cy="150.02" r="0.7" fill="#545454"/><circle cx="605.7" cy="183.23" r="0.93" fill="#727272"/><circle cx="606.81" cy="154.11" r="1.2" fill="#656565"/><circle cx="592.63" cy="175.67" r="0.69" fill="#313131"/><circle cx="603.39" cy="161.51" r="0.99" fill="#3e3e3e"/><circle cx="627.04" cy="157.93" r="0.89" fill="#767676"/><circle cx="612.84" cy="181.21" r="0.83" fill="#323232"/><circle cx="601.67" cy="150.53" r="0.85" fill="#858585"/><circle cx="589.29" cy="177.79" r="0.79" fill="#444444"/><circle cx="619.84" cy="166.16" r="0.92" fill="#808080"/><circle cx="623.29" cy="155.62" r="0.64" fill="#484848"/><circle cx="599.53" cy="156.46" r="1.17" fill="#4b4b4b"/><circle cx="596.12" cy="174.39" r="1.24" fill="#7e7e7e"/><circle cx="611.01" cy="155.7" r="1.01" fill="#898989"/><circle cx="602.97" cy="175.86" r="1.16" fill="#797979"/><circle cx="612.88" cy="165.28" r="1.31" fill="#313131"/><circle cx="606.24" cy="181.24" r="1" fill="#383838"/><circle cx="607.91" cy="173.42" r="0.71" fill="#878787"/><circle cx="599.49" cy="175.64" r="1.23" fill="#7b7b7b"/><circle cx="620.25" cy="160.29" r="1.25" fill="#777777"/><circle cx="611.24" cy="160.29" r="1.12" fill="#5b5b5b"/><circle cx="599.38" cy="187.13" r="1.24" fill="#696969"/><circle cx="605.89" cy="152.82" r="0.79" fill="#373737"/><circle cx="583.97" cy="168.65" r="1.25" fill="#3f3f3f"/><circle cx="605.7" cy="185.62" r="0.96" fill="#828282"/><circle cx="608.79" cy="180.58" r="1.14" fill="#737373"/><circle cx="598.98" cy="160.41" r="1.27" fill="#747474"/><circle cx="594.68" cy="170.86" r="1.23" fill="#666666"/><circle cx="589.87" cy="172.83" r="1.33" fill="#737373"/><circle cx="623.15" cy="177.15" r="0.82" fill="#323232"/><circle cx="602.37" cy="159.27" r="1.23" fill="#6b6b6b"/><circle cx="597.67" cy="149.04" r="1" fill="#666666"/><circle cx="619.78" cy="166.85" r="1" fill="#3c3c3c"/><circle cx="594.55" cy="160.85" r="0.87" fill="#878787"/><circle cx="612.95" cy="183.51" r="1.1" fill="#414141"/><circle cx="602.8" cy="181.45" r="1.14" fill="#6d6d6d"/><circle cx="622.92" cy="173.11" r="0.89" fill="#626262"/><circle cx="594.13" cy="181.04" r="1.22" fill="#777777"/><circle cx="615.87" cy="154.15" r="1.19" fill="#444444"/><circle cx="608.05" cy="170.76" r="0.64" fill="#393939"/><circle cx="593.62" cy="174.78" r="1.28" fill="#888888"/><circle cx="615.59" cy="150.54" r="0.72" fill="#3d3d3d"/><circle cx="614.95" cy="149.83" r="0.93" fill="#303030"/><circle cx="604.21" cy="184.97" r="0.97" fill="#575757"/><circle cx="591.76" cy="154.03" r="0.99" fill="#818181"/><circle cx="591.09" cy="182.76" r="1.22" fill="#2e2e2e"/><circle cx="618.18" cy="172.19" r="0.85" fill="#848484"/><circle cx="614.19" cy="170.49" r="0.93" fill="#878787"/><circle cx="591.59" cy="184.11" r="0.8" fill="#7d7d7d"/><circle cx="622.26" cy="182.89" r="0.97" fill="#505050"/><circle cx="614.5" cy="180.31" r="1.33" fill="#818181"/><circle cx="613.19" cy="185.14" r="1" fill="#393939"/><circle cx="608.91" cy="156.57" r="0.76" fill="#646464"/><circle cx="603.01" cy="186.09" r="0.77" fill="#4c4c4c"/><circle cx="597.71" cy="186.1" r="1.08" fill="#545454"/><circle cx="605.22" cy="186.13" r="0.65" fill="#303030"/><circle cx="610.59" cy="188" r="0.94" fill="#3c3c3c"/><circle cx="617.49" cy="167.54" r="0.82" fill="#3a3a3a"/><circle cx="585.05" cy="163.65" r="1.03" fill="#2f2f2f"/><circle cx="629.16" cy="170.55" r="1.14" fill="#575757"/><circle cx="605.61" cy="183.81" r="0.69" fill="#7b7b7b"/><circle cx="609.17" cy="180.36" r="1.32" fill="#7a7a7a"/><circle cx="606.39" cy="156.61" r="1.19" fill="#4a4a4a"/><circle cx="593.65" cy="172.62" r="0.81" fill="#8b8b8b"/><circle cx="608.18" cy="158.5" r="0.83" fill="#838383"/><circle cx="623.46" cy="158.8" r="1.11" fill="#7f7f7f"/><circle cx="617.96" cy="176.75" r="0.7" fill="#8a8a8a"/><circle cx="590.13" cy="164.64" r="0.82" fill="#555555"/><circle cx="602.67" cy="177.69" r="0.63" fill="#454545"/><circle cx="606.3" cy="146.26" r="0.65" fill="#414141"/><circle cx="600.75" cy="173.03" r="0.8" fill="#545454"/><circle cx="588.84" cy="158.83" r="1.17" fill="#808080"/><circle cx="617.2" cy="147.76" r="0.73" fill="#525252"/><circle cx="613.95" cy="181.75" r="1.27" fill="#6e6e6e"/><circle cx="614.76" cy="182.39" r="1.06" fill="#333333"/><circle cx="615.33" cy="157.88" r="1.11" fill="#6d6d6d"/><circle cx="601.34" cy="159.57" r="0.64" fill="#5c5c5c"/><circle cx="601.87" cy="170.78" r="0.88" fill="#888888"/><circle cx="606.7" cy="189.85" r="1.01" fill="#555555"/><circle cx="617.62" cy="155.72" r="1.19" fill="#515151"/><circle cx="603.57" cy="176.49" r="1" fill="#707070"/><circle cx="623.39" cy="167.72" r="0.63" fill="#828282"/><circle cx="619.88" cy="169.98" r="0.98" fill="#7c7c7c"/><circle cx="595.7" cy="159.2" r="0.86" fill="#4d4d4d"/><circle cx="605.48" cy="172.27" r="0.85" fill="#6c6c6c"/><circle cx="621.81" cy="159.36" r="0.84" fill="#3a3a3a"/><circle cx="614.7" cy="186.17" r="1.05" fill="#444444"/><circle cx="593.65" cy="173.66" r="1.01" fill="#7f7f7f"/><circle cx="602.89" cy="176.83" r="0.75" fill="#484848"/><circle cx="596.2" cy="150.99" r="1.17" fill="#656565"/><circle cx="606.22" cy="150.58" r="1.11" fill="#3e3e3e"/><circle cx="622.09" cy="170.39" r="1.16" fill="#3b3b3b"/><circle cx="599.87" cy="156.49" r="1.17" fill="#646464"/><circle cx="594.82" cy="167.19" r="1.3" fill="#363636"/><circle cx="615.12" cy="173.38" r="0.64" fill="#767676"/><circle cx="615.11" cy="178.99" r="0.63" fill="#3a3a3a"/><circle cx="607.91" cy="158.55" r="0.64" fill="#838383"/><circle cx="603.83" cy="185.19" r="0.98" fill="#353535"/><circle cx="588.64" cy="169.47" r="0.93" fill="#848484"/><circle cx="615.43" cy="162.18" r="0.94" fill="#6a6a6a"/><circle cx="609.09" cy="151.62" r="0.72" fill="#7d7d7d"/><circle cx="604.89" cy="184.9" r="0.9" fill="#686868"/><circle cx="611.05" cy="154.64" r="1.34" fill="#858585"/><circle cx="624.16" cy="172.88" r="0.64" fill="#7e7e7e"/><circle cx="605.11" cy="150.49" r="0.82" fill="#5d5d5d"/><circle cx="605.37" cy="157.25" r="0.88" fill="#3d3d3d"/><circle cx="621.03" cy="167.19" r="0.92" fill="#393939"/><circle cx="608.17" cy="149.92" r="1.26" fill="#707070"/><circle cx="602.95" cy="181.11" r="0.91" fill="#7e7e7e"/><circle cx="585.47" cy="166.36" r="1.33" fill="#686868"/><circle cx="624.43" cy="169.66" r="0.93" fill="#5c5c5c"/><circle cx="602.37" cy="181.52" r="0.98" fill="#7a7a7a"/><circle cx="609.99" cy="186.82" r="0.93" fill="#7a7a7a"/><circle cx="619.95" cy="182.5" r="1.15" fill="#6e6e6e"/><circle cx="614.33" cy="168.71" r="1.04" fill="#888888"/><circle cx="606.08" cy="173.12" r="0.86" fill="#595959"/><circle cx="616.67" cy="183.23" r="1.36" fill="#3d3d3d"/><circle cx="608.83" cy="189.55" r="0.83" fill="#4e4e4e"/><circle cx="607.27" cy="151.67" r="1.27" fill="#393939"/><circle cx="589.92" cy="162.59" r="1.26" fill="#505050"/><circle cx="601.71" cy="163.89" r="1.05" fill="#808080"/><circle cx="605.74" cy="172.63" r="0.7" fill="#303030"/><circle cx="605.67" cy="184.7" r="1.23" fill="#414141"/><circle cx="591.55" cy="165.5" r="0.79" fill="#555555"/><circle cx="595.61" cy="165.38" r="1.01" fill="#4b4b4b"/><circle cx="597.69" cy="158.13" r="0.89" fill="#717171"/><circle cx="614.05" cy="163.49" r="0.88" fill="#636363"/><circle cx="598.89" cy="170.19" r="0.75" fill="#4c4c4c"/><circle cx="597.35" cy="149.88" r="1.33" fill="#777777"/><circle cx="592.77" cy="180.36" r="1" fill="#878787"/><circle cx="587.92" cy="165.67" r="1.28" fill="#2e2e2e"/><circle cx="589.13" cy="178.05" r="0.99" fill="#383838"/><circle cx="588.05" cy="159.52" r="1.1" fill="#656565"/><circle cx="617.04" cy="162.53" r="1.3" fill="#575757"/><circle cx="589.37" cy="172.79" r="1.38" fill="#5c5c5c"/><circle cx="597.68" cy="149.76" r="0.92" fill="#2f2f2f"/><circle cx="606.24" cy="158.57" r="1.34" fill="#767676"/><circle cx="607.78" cy="148.49" r="0.7" fill="#464646"/><circle cx="620.24" cy="162.38" r="1.13" fill="#828282"/><circle cx="609.73" cy="166.47" r="1.19" fill="#787878"/><circle cx="597.84" cy="164.42" r="1.34" fill="#3f3f3f"/><circle cx="591.05" cy="180.74" r="0.78" fill="#898989"/><circle cx="610.35" cy="169.76" r="1.26" fill="#555555"/><circle cx="611.81" cy="151.18" r="0.8" fill="#2c2c2c"/><circle cx="611.81" cy="175.31" r="0.63" fill="#383838"/><circle cx="592.96" cy="167.67" r="0.82" fill="#4d4d4d"/><circle cx="609.56" cy="156.02" r="0.83" fill="#3b3b3b"/><circle cx="606.48" cy="181.54" r="0.78" fill="#505050"/><circle cx="600.13" cy="161.46" r="1.31" fill="#838383"/><circle cx="586.76" cy="168.8" r="0.83" fill="#404040"/><circle cx="619.68" cy="159.38" r="1.25" fill="#737373"/><circle cx="601.78" cy="153.23" r="0.65" fill="#505050"/><circle cx="619.03" cy="153.61" r="1.27" fill="#323232"/><circle cx="601.8" cy="188.71" r="0.62" fill="#3a3a3a"/><circle cx="620.08" cy="151.17" r="1.33" fill="#5b5b5b"/><circle cx="613.94" cy="172.75" r="1.35" fill="#898989"/><circle cx="601.87" cy="155.48" r="0.6" fill="#707070"/><circle cx="593.44" cy="184.82" r="0.7" fill="#414141"/><circle cx="587.55" cy="169.04" r="1.25" fill="#494949"/><circle cx="615.33" cy="162.1" r="1.27" fill="#505050"/><circle cx="586.53" cy="167.68" r="1.25" fill="#4a4a4a"/><circle cx="616.7" cy="150.56" r="0.91" fill="#808080"/><circle cx="585.85" cy="165.88" r="1.03" fill="#717171"/><circle cx="616.86" cy="170.36" r="1.2" fill="#575757"/><circle cx="625.26" cy="155.11" r="1.37" fill="#505050"/><circle cx="599.18" cy="174.63" r="0.68" fill="#858585"/><circle cx="586.37" cy="170.98" r="1.28" fill="#686868"/><circle cx="591.34" cy="165.06" r="1.1" fill="#4c4c4c"/><circle cx="591.33" cy="161.53" r="1" fill="#6d6d6d"/><circle cx="600.77" cy="152.74" r="0.76" fill="#767676"/><circle cx="598.29" cy="177.79" r="1.06" fill="#808080"/><circle cx="622.42" cy="161.81" r="1.19" fill="#858585"/><circle cx="616.28" cy="160.24" r="0.84" fill="#8b8b8b"/><circle cx="606.27" cy="149.89" r="0.68" fill="#4e4e4e"/><circle cx="608.68" cy="168.67" r="1.05" fill="#606060"/><circle cx="609.89" cy="170.84" r="1.06" fill="#2d2d2d"/><circle cx="606.96" cy="146.21" r="1.19" fill="#595959"/><circle cx="606.79" cy="173.07" r="0.86" fill="#636363"/><circle cx="600.06" cy="172.53" r="1.31" fill="#6e6e6e"/><circle cx="606.01" cy="159.53" r="0.76" fill="#464646"/><circle cx="620.72" cy="167.16" r="1.25" fill="#3a3a3a"/><circle cx="607.91" cy="174.27" r="0.63" fill="#4f4f4f"/><circle cx="591.73" cy="171.92" r="1.05" fill="#494949"/><circle cx="609.59" cy="154.95" r="1.11" fill="#464646"/><circle cx="596.13" cy="173.63" r="0.77" fill="#868686"/><circle cx="596.39" cy="175.36" r="1.13" fill="#797979"/><circle cx="616.47" cy="161.54" r="1.13" fill="#7b7b7b"/><circle cx="615.15" cy="175.48" r="0.95" fill="#7c7c7c"/><circle cx="610.78" cy="175.05" r="1.12" fill="#474747"/><circle cx="612.43" cy="174.81" r="0.81" fill="#7e7e7e"/><circle cx="597.63" cy="148.93" r="1.1" fill="#737373"/><circle cx="588.05" cy="173.99" r="1.21" fill="#4f4f4f"/><circle cx="603.91" cy="160.65" r="1.13" fill="#2c2c2c"/><circle cx="588.66" cy="170.62" r="0.97" fill="#6b6b6b"/><circle cx="618.25" cy="180.91" r="1" fill="#474747"/><circle cx="628.57" cy="172.02" r="1.39" fill="#3d3d3d"/><circle cx="610.21" cy="154.23" r="0.78" fill="#626262"/><circle cx="622.51" cy="169.31" r="0.74" fill="#323232"/><circle cx="622.08" cy="174.82" r="1.37" fill="#6c6c6c"/><circle cx="607.23" cy="189.04" r="0.61" fill="#646464"/><circle cx="591.32" cy="185.06" r="1.14" fill="#727272"/><circle cx="599.45" cy="146.59" r="0.71" fill="#5f5f5f"/><circle cx="622.87" cy="173.41" r="1.35" fill="#3d3d3d"/><circle cx="623.49" cy="165.46" r="0.7" fill="#666666"/><circle cx="590" cy="146" r="3" fill="url(#sph)"/><circle cx="590.73" cy="144.19" r="0.94" fill="#747474"/><circle cx="590.34" cy="145.01" r="1.15" fill="#898989"/><circle cx="588.92" cy="147.59" r="1.01" fill="#404040"/><circle cx="591.64" cy="144.73" r="0.97" fill="#4b4b4b"/><circle cx="588.31" cy="146.98" r="1.18" fill="#5d5d5d"/></g></g><rect x="346" y="53" width="325" height="162" filter="url(#grain)"/><line x1="462" y1="210.6" x2="494" y2="210.6" stroke="#111" stroke-width="1.3"/><text x="462.5" y="207" font-family="Liberation Mono, monospace" font-size="11" fill="#1a1a1a">100 nm</text><line x1="589.5" y1="203.6" x2="626.5" y2="203.6" stroke="#111" stroke-width="1.2"/><text x="590" y="201" font-family="Liberation Mono, monospace" font-size="8" fill="#1a1a1a">100 nm</text>
<text transform="translate(368.6,46.4) scale(0.925,1)" font-size="22.30">TTEG1</text>
<text transform="translate(527.1,45.8) scale(0.915,1)" font-size="23.20">TTEG2</text>
<text transform="translate(322.5,20)" font-size="24.00">c)</text></svg>
</body></html>
